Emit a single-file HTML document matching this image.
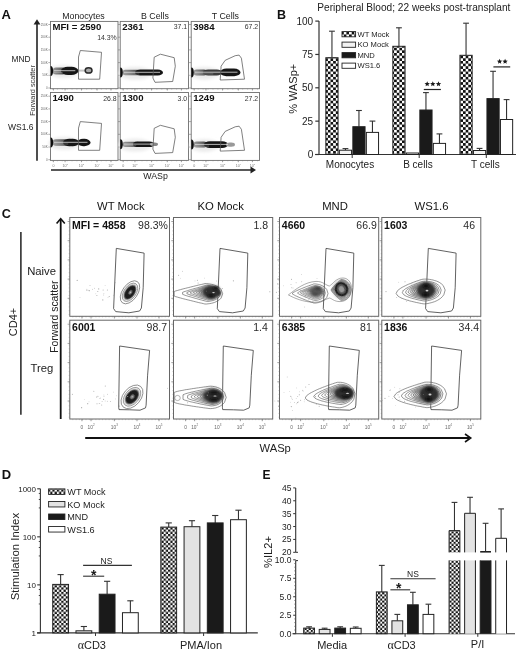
<!DOCTYPE html>
<html><head><meta charset="utf-8"><title>Figure</title>
<style>
html,body{margin:0;padding:0;background:#fff;}
body{width:520px;height:653px;overflow:hidden;}
svg{display:block;font-family:"Liberation Sans", sans-serif;filter:grayscale(1);}
</style></head>
<body>
<svg width="520" height="653" viewBox="0 0 520 653">
<rect width="520" height="653" fill="#fff"/>
<defs>
<pattern id="chkB" width="5.3" height="5.3" patternUnits="userSpaceOnUse" x="325.2" y="0">
<rect width="5.3" height="5.3" fill="#fff"/><rect width="2.65" height="2.65" fill="#111"/><rect x="2.65" y="2.65" width="2.65" height="2.65" fill="#111"/></pattern>
<pattern id="chkD" width="4.45" height="4.45" patternUnits="userSpaceOnUse" x="52.4" y="0">
<rect width="4.45" height="4.45" fill="#fff"/><rect width="2.225" height="2.225" fill="#111"/><rect x="2.225" y="2.225" width="2.225" height="2.225" fill="#111"/></pattern>
<pattern id="chkE" width="4.2" height="4.2" patternUnits="userSpaceOnUse" x="0" y="0">
<rect width="4.2" height="4.2" fill="#fff"/><rect width="2.1" height="2.1" fill="#111"/><rect x="2.1" y="2.1" width="2.1" height="2.1" fill="#111"/></pattern>
<filter id="b1" x="-50%" y="-50%" width="200%" height="200%"><feGaussianBlur stdDeviation="1"/></filter>
<filter id="b15" x="-50%" y="-50%" width="200%" height="200%"><feGaussianBlur stdDeviation="1.5"/></filter>
<filter id="b2" x="-50%" y="-50%" width="200%" height="200%"><feGaussianBlur stdDeviation="2"/></filter>
<filter id="b3" x="-50%" y="-50%" width="200%" height="200%"><feGaussianBlur stdDeviation="3"/></filter>
<filter id="b05" x="-50%" y="-50%" width="200%" height="200%"><feGaussianBlur stdDeviation="0.6"/></filter>
</defs>
<text x="1.50" y="18.70" font-size="13" text-anchor="start" font-weight="bold" fill="#111">A</text>
<text x="83.50" y="19.40" font-size="8.8" text-anchor="middle" font-weight="normal" fill="#222">Monocytes</text>
<text x="155.00" y="19.40" font-size="8.8" text-anchor="middle" font-weight="normal" fill="#222">B Cells</text>
<text x="225.40" y="19.40" font-size="8.8" text-anchor="middle" font-weight="normal" fill="#222">T Cells</text>
<text x="21.00" y="62.00" font-size="8.4" text-anchor="middle" font-weight="normal" fill="#222">MND</text>
<text x="20.70" y="130.10" font-size="8.5" text-anchor="middle" font-weight="normal" fill="#222">WS1.6</text>
<line x1="37.00" y1="160.80" x2="37.00" y2="24.00" stroke="#222" stroke-width="1.6"/>
<path d="M33.6,24.5 L37,19.3 L40.4,24.5 Z" fill="#222" stroke="none" stroke-width="1"/>
<text x="34.50" y="90.50" font-size="7.3" text-anchor="middle" font-weight="normal" fill="#333" transform="rotate(-90 34.5 90.5)">Forward scatter</text>
<line x1="51.00" y1="170.00" x2="251.00" y2="170.00" stroke="#222" stroke-width="1.6"/>
<path d="M250.5,166.6 L256,170 L250.5,173.4 Z" fill="#222" stroke="none" stroke-width="1"/>
<text x="155.50" y="179.00" font-size="8.8" text-anchor="middle" font-weight="normal" fill="#222">WASp</text>
<line x1="48.30" y1="88.00" x2="50.50" y2="88.00" stroke="#777" stroke-width="0.6"/>
<line x1="48.30" y1="75.30" x2="50.50" y2="75.30" stroke="#777" stroke-width="0.6"/>
<line x1="48.30" y1="62.60" x2="50.50" y2="62.60" stroke="#777" stroke-width="0.6"/>
<line x1="48.30" y1="49.90" x2="50.50" y2="49.90" stroke="#777" stroke-width="0.6"/>
<line x1="48.30" y1="37.20" x2="50.50" y2="37.20" stroke="#777" stroke-width="0.6"/>
<line x1="48.30" y1="24.50" x2="50.50" y2="24.50" stroke="#777" stroke-width="0.6"/>
<text x="47.70" y="89.00" font-size="3.0" text-anchor="end" font-weight="normal" fill="#666">0</text>
<text x="47.70" y="76.30" font-size="3.0" text-anchor="end" font-weight="normal" fill="#666">50K</text>
<text x="47.70" y="63.60" font-size="3.0" text-anchor="end" font-weight="normal" fill="#666">100K</text>
<text x="47.70" y="50.90" font-size="3.0" text-anchor="end" font-weight="normal" fill="#666">150K</text>
<text x="47.70" y="38.20" font-size="3.0" text-anchor="end" font-weight="normal" fill="#666">200K</text>
<text x="47.70" y="25.50" font-size="3.0" text-anchor="end" font-weight="normal" fill="#666">250K</text>
<line x1="53.47" y1="88.70" x2="53.47" y2="90.50" stroke="#666" stroke-width="0.6"/>
<line x1="65.08" y1="88.70" x2="65.08" y2="90.50" stroke="#666" stroke-width="0.6"/>
<line x1="81.48" y1="88.70" x2="81.48" y2="90.50" stroke="#666" stroke-width="0.6"/>
<line x1="97.07" y1="88.70" x2="97.07" y2="90.50" stroke="#666" stroke-width="0.6"/>
<line x1="110.98" y1="88.70" x2="110.98" y2="90.50" stroke="#666" stroke-width="0.6"/>
<line x1="52.50" y1="88.70" x2="52.50" y2="89.70" stroke="#888" stroke-width="0.4"/>
<line x1="57.38" y1="88.70" x2="57.38" y2="89.70" stroke="#888" stroke-width="0.4"/>
<line x1="62.27" y1="88.70" x2="62.27" y2="89.70" stroke="#888" stroke-width="0.4"/>
<line x1="67.15" y1="88.70" x2="67.15" y2="89.70" stroke="#888" stroke-width="0.4"/>
<line x1="72.04" y1="88.70" x2="72.04" y2="89.70" stroke="#888" stroke-width="0.4"/>
<line x1="76.92" y1="88.70" x2="76.92" y2="89.70" stroke="#888" stroke-width="0.4"/>
<line x1="81.81" y1="88.70" x2="81.81" y2="89.70" stroke="#888" stroke-width="0.4"/>
<line x1="86.69" y1="88.70" x2="86.69" y2="89.70" stroke="#888" stroke-width="0.4"/>
<line x1="91.58" y1="88.70" x2="91.58" y2="89.70" stroke="#888" stroke-width="0.4"/>
<line x1="96.46" y1="88.70" x2="96.46" y2="89.70" stroke="#888" stroke-width="0.4"/>
<line x1="101.35" y1="88.70" x2="101.35" y2="89.70" stroke="#888" stroke-width="0.4"/>
<line x1="106.23" y1="88.70" x2="106.23" y2="89.70" stroke="#888" stroke-width="0.4"/>
<line x1="111.12" y1="88.70" x2="111.12" y2="89.70" stroke="#888" stroke-width="0.4"/>
<line x1="116.00" y1="88.70" x2="116.00" y2="89.70" stroke="#888" stroke-width="0.4"/>
<rect x="50.50" y="21.40" width="67.50" height="67.30" fill="none" stroke="#6e6e6e" stroke-width="0.9"/>
<text x="52.50" y="30.00" font-size="9.6" text-anchor="start" font-weight="bold" fill="#111">MFI = 2590</text>
<text x="116.70" y="39.70" font-size="6.9" text-anchor="end" font-weight="normal" fill="#333">14.3%</text>
<line x1="118.00" y1="88.00" x2="120.20" y2="88.00" stroke="#777" stroke-width="0.6"/>
<line x1="118.00" y1="75.30" x2="120.20" y2="75.30" stroke="#777" stroke-width="0.6"/>
<line x1="118.00" y1="62.60" x2="120.20" y2="62.60" stroke="#777" stroke-width="0.6"/>
<line x1="118.00" y1="49.90" x2="120.20" y2="49.90" stroke="#777" stroke-width="0.6"/>
<line x1="118.00" y1="37.20" x2="120.20" y2="37.20" stroke="#777" stroke-width="0.6"/>
<line x1="118.00" y1="24.50" x2="120.20" y2="24.50" stroke="#777" stroke-width="0.6"/>
<line x1="123.21" y1="88.70" x2="123.21" y2="90.50" stroke="#666" stroke-width="0.6"/>
<line x1="134.95" y1="88.70" x2="134.95" y2="90.50" stroke="#666" stroke-width="0.6"/>
<line x1="151.55" y1="88.70" x2="151.55" y2="90.50" stroke="#666" stroke-width="0.6"/>
<line x1="167.33" y1="88.70" x2="167.33" y2="90.50" stroke="#666" stroke-width="0.6"/>
<line x1="181.40" y1="88.70" x2="181.40" y2="90.50" stroke="#666" stroke-width="0.6"/>
<line x1="122.20" y1="88.70" x2="122.20" y2="89.70" stroke="#888" stroke-width="0.4"/>
<line x1="127.15" y1="88.70" x2="127.15" y2="89.70" stroke="#888" stroke-width="0.4"/>
<line x1="132.09" y1="88.70" x2="132.09" y2="89.70" stroke="#888" stroke-width="0.4"/>
<line x1="137.04" y1="88.70" x2="137.04" y2="89.70" stroke="#888" stroke-width="0.4"/>
<line x1="141.98" y1="88.70" x2="141.98" y2="89.70" stroke="#888" stroke-width="0.4"/>
<line x1="146.93" y1="88.70" x2="146.93" y2="89.70" stroke="#888" stroke-width="0.4"/>
<line x1="151.88" y1="88.70" x2="151.88" y2="89.70" stroke="#888" stroke-width="0.4"/>
<line x1="156.82" y1="88.70" x2="156.82" y2="89.70" stroke="#888" stroke-width="0.4"/>
<line x1="161.77" y1="88.70" x2="161.77" y2="89.70" stroke="#888" stroke-width="0.4"/>
<line x1="166.72" y1="88.70" x2="166.72" y2="89.70" stroke="#888" stroke-width="0.4"/>
<line x1="171.66" y1="88.70" x2="171.66" y2="89.70" stroke="#888" stroke-width="0.4"/>
<line x1="176.61" y1="88.70" x2="176.61" y2="89.70" stroke="#888" stroke-width="0.4"/>
<line x1="181.55" y1="88.70" x2="181.55" y2="89.70" stroke="#888" stroke-width="0.4"/>
<line x1="186.50" y1="88.70" x2="186.50" y2="89.70" stroke="#888" stroke-width="0.4"/>
<rect x="120.20" y="21.40" width="68.30" height="67.30" fill="none" stroke="#6e6e6e" stroke-width="0.9"/>
<text x="122.20" y="30.00" font-size="9.6" text-anchor="start" font-weight="bold" fill="#111">2361</text>
<text x="187.20" y="28.80" font-size="6.9" text-anchor="end" font-weight="normal" fill="#333">37.1</text>
<line x1="189.00" y1="88.00" x2="191.20" y2="88.00" stroke="#777" stroke-width="0.6"/>
<line x1="189.00" y1="75.30" x2="191.20" y2="75.30" stroke="#777" stroke-width="0.6"/>
<line x1="189.00" y1="62.60" x2="191.20" y2="62.60" stroke="#777" stroke-width="0.6"/>
<line x1="189.00" y1="49.90" x2="191.20" y2="49.90" stroke="#777" stroke-width="0.6"/>
<line x1="189.00" y1="37.20" x2="191.20" y2="37.20" stroke="#777" stroke-width="0.6"/>
<line x1="189.00" y1="24.50" x2="191.20" y2="24.50" stroke="#777" stroke-width="0.6"/>
<line x1="194.21" y1="88.70" x2="194.21" y2="90.50" stroke="#666" stroke-width="0.6"/>
<line x1="205.95" y1="88.70" x2="205.95" y2="90.50" stroke="#666" stroke-width="0.6"/>
<line x1="222.55" y1="88.70" x2="222.55" y2="90.50" stroke="#666" stroke-width="0.6"/>
<line x1="238.33" y1="88.70" x2="238.33" y2="90.50" stroke="#666" stroke-width="0.6"/>
<line x1="252.40" y1="88.70" x2="252.40" y2="90.50" stroke="#666" stroke-width="0.6"/>
<line x1="193.20" y1="88.70" x2="193.20" y2="89.70" stroke="#888" stroke-width="0.4"/>
<line x1="198.15" y1="88.70" x2="198.15" y2="89.70" stroke="#888" stroke-width="0.4"/>
<line x1="203.09" y1="88.70" x2="203.09" y2="89.70" stroke="#888" stroke-width="0.4"/>
<line x1="208.04" y1="88.70" x2="208.04" y2="89.70" stroke="#888" stroke-width="0.4"/>
<line x1="212.98" y1="88.70" x2="212.98" y2="89.70" stroke="#888" stroke-width="0.4"/>
<line x1="217.93" y1="88.70" x2="217.93" y2="89.70" stroke="#888" stroke-width="0.4"/>
<line x1="222.88" y1="88.70" x2="222.88" y2="89.70" stroke="#888" stroke-width="0.4"/>
<line x1="227.82" y1="88.70" x2="227.82" y2="89.70" stroke="#888" stroke-width="0.4"/>
<line x1="232.77" y1="88.70" x2="232.77" y2="89.70" stroke="#888" stroke-width="0.4"/>
<line x1="237.72" y1="88.70" x2="237.72" y2="89.70" stroke="#888" stroke-width="0.4"/>
<line x1="242.66" y1="88.70" x2="242.66" y2="89.70" stroke="#888" stroke-width="0.4"/>
<line x1="247.61" y1="88.70" x2="247.61" y2="89.70" stroke="#888" stroke-width="0.4"/>
<line x1="252.55" y1="88.70" x2="252.55" y2="89.70" stroke="#888" stroke-width="0.4"/>
<line x1="257.50" y1="88.70" x2="257.50" y2="89.70" stroke="#888" stroke-width="0.4"/>
<rect x="191.20" y="21.40" width="68.30" height="67.30" fill="none" stroke="#6e6e6e" stroke-width="0.9"/>
<text x="193.20" y="30.00" font-size="9.6" text-anchor="start" font-weight="bold" fill="#111">3984</text>
<text x="258.20" y="28.80" font-size="6.9" text-anchor="end" font-weight="normal" fill="#333">67.2</text>
<line x1="48.30" y1="159.70" x2="50.50" y2="159.70" stroke="#777" stroke-width="0.6"/>
<line x1="48.30" y1="147.00" x2="50.50" y2="147.00" stroke="#777" stroke-width="0.6"/>
<line x1="48.30" y1="134.30" x2="50.50" y2="134.30" stroke="#777" stroke-width="0.6"/>
<line x1="48.30" y1="121.60" x2="50.50" y2="121.60" stroke="#777" stroke-width="0.6"/>
<line x1="48.30" y1="108.90" x2="50.50" y2="108.90" stroke="#777" stroke-width="0.6"/>
<line x1="48.30" y1="96.20" x2="50.50" y2="96.20" stroke="#777" stroke-width="0.6"/>
<text x="47.70" y="160.70" font-size="3.0" text-anchor="end" font-weight="normal" fill="#666">0</text>
<text x="47.70" y="148.00" font-size="3.0" text-anchor="end" font-weight="normal" fill="#666">50K</text>
<text x="47.70" y="135.30" font-size="3.0" text-anchor="end" font-weight="normal" fill="#666">100K</text>
<text x="47.70" y="122.60" font-size="3.0" text-anchor="end" font-weight="normal" fill="#666">150K</text>
<text x="47.70" y="109.90" font-size="3.0" text-anchor="end" font-weight="normal" fill="#666">200K</text>
<text x="47.70" y="97.20" font-size="3.0" text-anchor="end" font-weight="normal" fill="#666">250K</text>
<line x1="53.47" y1="160.40" x2="53.47" y2="162.20" stroke="#666" stroke-width="0.6"/>
<line x1="65.08" y1="160.40" x2="65.08" y2="162.20" stroke="#666" stroke-width="0.6"/>
<line x1="81.48" y1="160.40" x2="81.48" y2="162.20" stroke="#666" stroke-width="0.6"/>
<line x1="97.07" y1="160.40" x2="97.07" y2="162.20" stroke="#666" stroke-width="0.6"/>
<line x1="110.98" y1="160.40" x2="110.98" y2="162.20" stroke="#666" stroke-width="0.6"/>
<line x1="52.50" y1="160.40" x2="52.50" y2="161.40" stroke="#888" stroke-width="0.4"/>
<line x1="57.38" y1="160.40" x2="57.38" y2="161.40" stroke="#888" stroke-width="0.4"/>
<line x1="62.27" y1="160.40" x2="62.27" y2="161.40" stroke="#888" stroke-width="0.4"/>
<line x1="67.15" y1="160.40" x2="67.15" y2="161.40" stroke="#888" stroke-width="0.4"/>
<line x1="72.04" y1="160.40" x2="72.04" y2="161.40" stroke="#888" stroke-width="0.4"/>
<line x1="76.92" y1="160.40" x2="76.92" y2="161.40" stroke="#888" stroke-width="0.4"/>
<line x1="81.81" y1="160.40" x2="81.81" y2="161.40" stroke="#888" stroke-width="0.4"/>
<line x1="86.69" y1="160.40" x2="86.69" y2="161.40" stroke="#888" stroke-width="0.4"/>
<line x1="91.58" y1="160.40" x2="91.58" y2="161.40" stroke="#888" stroke-width="0.4"/>
<line x1="96.46" y1="160.40" x2="96.46" y2="161.40" stroke="#888" stroke-width="0.4"/>
<line x1="101.35" y1="160.40" x2="101.35" y2="161.40" stroke="#888" stroke-width="0.4"/>
<line x1="106.23" y1="160.40" x2="106.23" y2="161.40" stroke="#888" stroke-width="0.4"/>
<line x1="111.12" y1="160.40" x2="111.12" y2="161.40" stroke="#888" stroke-width="0.4"/>
<line x1="116.00" y1="160.40" x2="116.00" y2="161.40" stroke="#888" stroke-width="0.4"/>
<text x="53.47" y="167.00" font-size="3.6" text-anchor="middle" font-weight="normal" fill="#777">0</text>
<text x="65.08" y="167.00" font-size="3.6" text-anchor="middle" fill="#777">10<tspan font-size="2.23" dy="-1.62">2</tspan></text>
<text x="81.48" y="167.00" font-size="3.6" text-anchor="middle" fill="#777">10<tspan font-size="2.23" dy="-1.62">3</tspan></text>
<text x="97.07" y="167.00" font-size="3.6" text-anchor="middle" fill="#777">10<tspan font-size="2.23" dy="-1.62">4</tspan></text>
<text x="110.98" y="167.00" font-size="3.6" text-anchor="middle" fill="#777">10<tspan font-size="2.23" dy="-1.62">5</tspan></text>
<rect x="50.50" y="92.50" width="67.50" height="67.90" fill="none" stroke="#6e6e6e" stroke-width="0.9"/>
<text x="52.50" y="101.10" font-size="9.6" text-anchor="start" font-weight="bold" fill="#111">1490</text>
<text x="116.70" y="101.20" font-size="6.9" text-anchor="end" font-weight="normal" fill="#333">26.8</text>
<line x1="118.00" y1="159.70" x2="120.20" y2="159.70" stroke="#777" stroke-width="0.6"/>
<line x1="118.00" y1="147.00" x2="120.20" y2="147.00" stroke="#777" stroke-width="0.6"/>
<line x1="118.00" y1="134.30" x2="120.20" y2="134.30" stroke="#777" stroke-width="0.6"/>
<line x1="118.00" y1="121.60" x2="120.20" y2="121.60" stroke="#777" stroke-width="0.6"/>
<line x1="118.00" y1="108.90" x2="120.20" y2="108.90" stroke="#777" stroke-width="0.6"/>
<line x1="118.00" y1="96.20" x2="120.20" y2="96.20" stroke="#777" stroke-width="0.6"/>
<line x1="123.21" y1="160.40" x2="123.21" y2="162.20" stroke="#666" stroke-width="0.6"/>
<line x1="134.95" y1="160.40" x2="134.95" y2="162.20" stroke="#666" stroke-width="0.6"/>
<line x1="151.55" y1="160.40" x2="151.55" y2="162.20" stroke="#666" stroke-width="0.6"/>
<line x1="167.33" y1="160.40" x2="167.33" y2="162.20" stroke="#666" stroke-width="0.6"/>
<line x1="181.40" y1="160.40" x2="181.40" y2="162.20" stroke="#666" stroke-width="0.6"/>
<line x1="122.20" y1="160.40" x2="122.20" y2="161.40" stroke="#888" stroke-width="0.4"/>
<line x1="127.15" y1="160.40" x2="127.15" y2="161.40" stroke="#888" stroke-width="0.4"/>
<line x1="132.09" y1="160.40" x2="132.09" y2="161.40" stroke="#888" stroke-width="0.4"/>
<line x1="137.04" y1="160.40" x2="137.04" y2="161.40" stroke="#888" stroke-width="0.4"/>
<line x1="141.98" y1="160.40" x2="141.98" y2="161.40" stroke="#888" stroke-width="0.4"/>
<line x1="146.93" y1="160.40" x2="146.93" y2="161.40" stroke="#888" stroke-width="0.4"/>
<line x1="151.88" y1="160.40" x2="151.88" y2="161.40" stroke="#888" stroke-width="0.4"/>
<line x1="156.82" y1="160.40" x2="156.82" y2="161.40" stroke="#888" stroke-width="0.4"/>
<line x1="161.77" y1="160.40" x2="161.77" y2="161.40" stroke="#888" stroke-width="0.4"/>
<line x1="166.72" y1="160.40" x2="166.72" y2="161.40" stroke="#888" stroke-width="0.4"/>
<line x1="171.66" y1="160.40" x2="171.66" y2="161.40" stroke="#888" stroke-width="0.4"/>
<line x1="176.61" y1="160.40" x2="176.61" y2="161.40" stroke="#888" stroke-width="0.4"/>
<line x1="181.55" y1="160.40" x2="181.55" y2="161.40" stroke="#888" stroke-width="0.4"/>
<line x1="186.50" y1="160.40" x2="186.50" y2="161.40" stroke="#888" stroke-width="0.4"/>
<text x="123.21" y="167.00" font-size="3.6" text-anchor="middle" font-weight="normal" fill="#777">0</text>
<text x="134.95" y="167.00" font-size="3.6" text-anchor="middle" fill="#777">10<tspan font-size="2.23" dy="-1.62">2</tspan></text>
<text x="151.55" y="167.00" font-size="3.6" text-anchor="middle" fill="#777">10<tspan font-size="2.23" dy="-1.62">3</tspan></text>
<text x="167.33" y="167.00" font-size="3.6" text-anchor="middle" fill="#777">10<tspan font-size="2.23" dy="-1.62">4</tspan></text>
<text x="181.40" y="167.00" font-size="3.6" text-anchor="middle" fill="#777">10<tspan font-size="2.23" dy="-1.62">5</tspan></text>
<rect x="120.20" y="92.50" width="68.30" height="67.90" fill="none" stroke="#6e6e6e" stroke-width="0.9"/>
<text x="122.20" y="101.10" font-size="9.6" text-anchor="start" font-weight="bold" fill="#111">1300</text>
<text x="187.20" y="101.20" font-size="6.9" text-anchor="end" font-weight="normal" fill="#333">3.0</text>
<line x1="189.00" y1="159.70" x2="191.20" y2="159.70" stroke="#777" stroke-width="0.6"/>
<line x1="189.00" y1="147.00" x2="191.20" y2="147.00" stroke="#777" stroke-width="0.6"/>
<line x1="189.00" y1="134.30" x2="191.20" y2="134.30" stroke="#777" stroke-width="0.6"/>
<line x1="189.00" y1="121.60" x2="191.20" y2="121.60" stroke="#777" stroke-width="0.6"/>
<line x1="189.00" y1="108.90" x2="191.20" y2="108.90" stroke="#777" stroke-width="0.6"/>
<line x1="189.00" y1="96.20" x2="191.20" y2="96.20" stroke="#777" stroke-width="0.6"/>
<line x1="194.21" y1="160.40" x2="194.21" y2="162.20" stroke="#666" stroke-width="0.6"/>
<line x1="205.95" y1="160.40" x2="205.95" y2="162.20" stroke="#666" stroke-width="0.6"/>
<line x1="222.55" y1="160.40" x2="222.55" y2="162.20" stroke="#666" stroke-width="0.6"/>
<line x1="238.33" y1="160.40" x2="238.33" y2="162.20" stroke="#666" stroke-width="0.6"/>
<line x1="252.40" y1="160.40" x2="252.40" y2="162.20" stroke="#666" stroke-width="0.6"/>
<line x1="193.20" y1="160.40" x2="193.20" y2="161.40" stroke="#888" stroke-width="0.4"/>
<line x1="198.15" y1="160.40" x2="198.15" y2="161.40" stroke="#888" stroke-width="0.4"/>
<line x1="203.09" y1="160.40" x2="203.09" y2="161.40" stroke="#888" stroke-width="0.4"/>
<line x1="208.04" y1="160.40" x2="208.04" y2="161.40" stroke="#888" stroke-width="0.4"/>
<line x1="212.98" y1="160.40" x2="212.98" y2="161.40" stroke="#888" stroke-width="0.4"/>
<line x1="217.93" y1="160.40" x2="217.93" y2="161.40" stroke="#888" stroke-width="0.4"/>
<line x1="222.88" y1="160.40" x2="222.88" y2="161.40" stroke="#888" stroke-width="0.4"/>
<line x1="227.82" y1="160.40" x2="227.82" y2="161.40" stroke="#888" stroke-width="0.4"/>
<line x1="232.77" y1="160.40" x2="232.77" y2="161.40" stroke="#888" stroke-width="0.4"/>
<line x1="237.72" y1="160.40" x2="237.72" y2="161.40" stroke="#888" stroke-width="0.4"/>
<line x1="242.66" y1="160.40" x2="242.66" y2="161.40" stroke="#888" stroke-width="0.4"/>
<line x1="247.61" y1="160.40" x2="247.61" y2="161.40" stroke="#888" stroke-width="0.4"/>
<line x1="252.55" y1="160.40" x2="252.55" y2="161.40" stroke="#888" stroke-width="0.4"/>
<line x1="257.50" y1="160.40" x2="257.50" y2="161.40" stroke="#888" stroke-width="0.4"/>
<text x="194.21" y="167.00" font-size="3.6" text-anchor="middle" font-weight="normal" fill="#777">0</text>
<text x="205.95" y="167.00" font-size="3.6" text-anchor="middle" fill="#777">10<tspan font-size="2.23" dy="-1.62">2</tspan></text>
<text x="222.55" y="167.00" font-size="3.6" text-anchor="middle" fill="#777">10<tspan font-size="2.23" dy="-1.62">3</tspan></text>
<text x="238.33" y="167.00" font-size="3.6" text-anchor="middle" fill="#777">10<tspan font-size="2.23" dy="-1.62">4</tspan></text>
<text x="252.40" y="167.00" font-size="3.6" text-anchor="middle" fill="#777">10<tspan font-size="2.23" dy="-1.62">5</tspan></text>
<rect x="191.20" y="92.50" width="68.30" height="67.90" fill="none" stroke="#6e6e6e" stroke-width="0.9"/>
<text x="193.20" y="101.10" font-size="9.6" text-anchor="start" font-weight="bold" fill="#111">1249</text>
<text x="258.20" y="101.20" font-size="6.9" text-anchor="end" font-weight="normal" fill="#333">27.2</text>
<linearGradient id="gA1" gradientUnits="userSpaceOnUse" x1="52.5" y1="0" x2="66" y2="0"><stop offset="0" stop-color="#9a9a9a"/><stop offset="0.5" stop-color="#707070"/><stop offset="1" stop-color="#404040"/></linearGradient>
<ellipse cx="63.25" cy="71.70" rx="14.75" ry="6.50" fill="#ececec" stroke="none" stroke-width="1" filter="url(#b15)"/>
<rect x="52.50" y="67.40" width="13.50" height="7.00" fill="url(#gA1)" stroke="none" stroke-width="1" rx="3.50" ry="3.50" filter="url(#b05)"/>
<rect x="61.00" y="66.80" width="17.30" height="8.20" fill="#181818" stroke="none" stroke-width="1" rx="6.97" ry="4.10" filter="url(#b05)"/>
<line x1="54.00" y1="70.70" x2="75.30" y2="70.70" stroke="#e6e6e6" stroke-width="0.9" opacity="0.85"/>
<line x1="54.00" y1="72.40" x2="62.76" y2="72.40" stroke="#e0e0e0" stroke-width="0.5" opacity="0.6"/>
<path d="M50.50,65.90 A2.6,5 0 0 1 50.50,75.90 Z" fill="#111" stroke="none" stroke-width="1" filter="url(#b05)"/>
<line x1="78.00" y1="70.60" x2="85.50" y2="70.60" stroke="#c4c4c4" stroke-width="2.0"/>
<ellipse cx="88.60" cy="70.40" rx="3.40" ry="2.70" fill="#aaa" stroke="#2a2a2a" stroke-width="1.5" filter="url(#b05)"/>
<linearGradient id="gA2" gradientUnits="userSpaceOnUse" x1="52.5" y1="0" x2="68" y2="0"><stop offset="0" stop-color="#9a9a9a"/><stop offset="0.5" stop-color="#707070"/><stop offset="1" stop-color="#404040"/></linearGradient>
<ellipse cx="64.25" cy="143.30" rx="15.75" ry="6.50" fill="#ececec" stroke="none" stroke-width="1" filter="url(#b15)"/>
<rect x="52.50" y="139.20" width="15.50" height="6.60" fill="url(#gA2)" stroke="none" stroke-width="1" rx="3.30" ry="3.30" filter="url(#b05)"/>
<rect x="63.00" y="138.70" width="16.00" height="7.60" fill="#181818" stroke="none" stroke-width="1" rx="6.46" ry="3.80" filter="url(#b05)"/>
<rect x="77.00" y="138.80" width="13.50" height="7.40" fill="#181818" stroke="none" stroke-width="1" rx="6.29" ry="3.70" filter="url(#b05)"/>
<line x1="54.00" y1="142.30" x2="87.50" y2="142.30" stroke="#e6e6e6" stroke-width="0.9" opacity="0.85"/>
<line x1="54.00" y1="144.00" x2="68.25" y2="144.00" stroke="#e0e0e0" stroke-width="0.5" opacity="0.6"/>
<path d="M50.50,137.50 A2.6,5 0 0 1 50.50,147.50 Z" fill="#111" stroke="none" stroke-width="1" filter="url(#b05)"/>
<linearGradient id="gA3" gradientUnits="userSpaceOnUse" x1="122.5" y1="0" x2="140" y2="0"><stop offset="0" stop-color="#9a9a9a"/><stop offset="0.5" stop-color="#707070"/><stop offset="1" stop-color="#404040"/></linearGradient>
<ellipse cx="135.25" cy="73.30" rx="16.75" ry="6.50" fill="#ececec" stroke="none" stroke-width="1" filter="url(#b15)"/>
<rect x="122.50" y="69.80" width="17.50" height="5.40" fill="url(#gA3)" stroke="none" stroke-width="1" rx="2.70" ry="2.70" filter="url(#b05)"/>
<rect x="135.00" y="69.50" width="28.00" height="6.00" fill="#181818" stroke="none" stroke-width="1" rx="5.10" ry="3.00" filter="url(#b05)"/>
<line x1="124.00" y1="72.30" x2="160.00" y2="72.30" stroke="#e6e6e6" stroke-width="0.9" opacity="0.85"/>
<line x1="124.00" y1="74.00" x2="139.38" y2="74.00" stroke="#e0e0e0" stroke-width="0.5" opacity="0.6"/>
<path d="M120.20,67.50 A2.6,5 0 0 1 120.20,77.50 Z" fill="#111" stroke="none" stroke-width="1" filter="url(#b05)"/>
<linearGradient id="gA4" gradientUnits="userSpaceOnUse" x1="122.5" y1="0" x2="140" y2="0"><stop offset="0" stop-color="#9a9a9a"/><stop offset="0.5" stop-color="#707070"/><stop offset="1" stop-color="#404040"/></linearGradient>
<ellipse cx="135.25" cy="145.10" rx="16.75" ry="6.50" fill="#ececec" stroke="none" stroke-width="1" filter="url(#b15)"/>
<rect x="122.50" y="141.70" width="17.50" height="5.20" fill="url(#gA4)" stroke="none" stroke-width="1" rx="2.60" ry="2.60" filter="url(#b05)"/>
<rect x="133.00" y="141.50" width="21.00" height="5.60" fill="#181818" stroke="none" stroke-width="1" rx="4.76" ry="2.80" filter="url(#b05)"/>
<rect x="150.00" y="142.50" width="8.00" height="3.60" fill="#888" stroke="none" stroke-width="1" rx="3.06" ry="1.80" filter="url(#b05)"/>
<line x1="124.00" y1="144.10" x2="153.00" y2="144.10" stroke="#e6e6e6" stroke-width="0.9" opacity="0.85"/>
<line x1="124.00" y1="145.80" x2="136.22" y2="145.80" stroke="#e0e0e0" stroke-width="0.5" opacity="0.6"/>
<path d="M120.20,139.30 A2.6,5 0 0 1 120.20,149.30 Z" fill="#111" stroke="none" stroke-width="1" filter="url(#b05)"/>
<linearGradient id="gA5" gradientUnits="userSpaceOnUse" x1="193.5" y1="0" x2="207" y2="0"><stop offset="0" stop-color="#9a9a9a"/><stop offset="0.5" stop-color="#707070"/><stop offset="1" stop-color="#404040"/></linearGradient>
<ellipse cx="204.25" cy="73.20" rx="14.75" ry="6.50" fill="#ececec" stroke="none" stroke-width="1" filter="url(#b15)"/>
<rect x="193.50" y="69.40" width="13.50" height="6.00" fill="url(#gA5)" stroke="none" stroke-width="1" rx="3.00" ry="3.00" filter="url(#b05)"/>
<rect x="203.00" y="69.40" width="19.00" height="6.00" fill="#3a3a3a" stroke="none" stroke-width="1" rx="5.10" ry="3.00" filter="url(#b05)"/>
<rect x="220.00" y="68.60" width="20.50" height="7.60" fill="#181818" stroke="none" stroke-width="1" rx="6.46" ry="3.80" filter="url(#b05)"/>
<line x1="195.00" y1="72.20" x2="237.50" y2="72.20" stroke="#e6e6e6" stroke-width="0.9" opacity="0.85"/>
<line x1="195.00" y1="73.90" x2="213.30" y2="73.90" stroke="#e0e0e0" stroke-width="0.5" opacity="0.6"/>
<path d="M191.20,67.40 A2.6,5 0 0 1 191.20,77.40 Z" fill="#111" stroke="none" stroke-width="1" filter="url(#b05)"/>
<linearGradient id="gA6" gradientUnits="userSpaceOnUse" x1="193.5" y1="0" x2="207" y2="0"><stop offset="0" stop-color="#9a9a9a"/><stop offset="0.5" stop-color="#707070"/><stop offset="1" stop-color="#404040"/></linearGradient>
<ellipse cx="204.25" cy="145.40" rx="14.75" ry="6.50" fill="#ececec" stroke="none" stroke-width="1" filter="url(#b15)"/>
<rect x="193.50" y="141.60" width="13.50" height="6.00" fill="url(#gA6)" stroke="none" stroke-width="1" rx="3.00" ry="3.00" filter="url(#b05)"/>
<rect x="204.00" y="141.20" width="24.00" height="6.80" fill="#181818" stroke="none" stroke-width="1" rx="5.78" ry="3.40" filter="url(#b05)"/>
<rect x="226.00" y="142.40" width="9.00" height="4.40" fill="#999" stroke="none" stroke-width="1" rx="3.74" ry="2.20" filter="url(#b05)"/>
<line x1="195.00" y1="144.40" x2="228.00" y2="144.40" stroke="#e6e6e6" stroke-width="0.9" opacity="0.85"/>
<line x1="195.00" y1="146.10" x2="209.03" y2="146.10" stroke="#e0e0e0" stroke-width="0.5" opacity="0.6"/>
<path d="M191.20,139.60 A2.6,5 0 0 1 191.20,149.60 Z" fill="#111" stroke="none" stroke-width="1" filter="url(#b05)"/>
<path d="M78.50,57.00 L80.30,50.50 L101.50,52.30 L99.70,79.20 L78.50,79.20 Z" fill="none" stroke="#555" stroke-width="0.75"/>
<path d="M152.90,78.00 L154.20,57.20 L160.40,54.20 L174.20,57.70 L175.30,66.20 L172.70,81.50 L155.00,82.30 Z" fill="none" stroke="#555" stroke-width="0.75"/>
<path d="M221.10,66.20 L225.20,60.30 L235.20,55.70 L239.10,55.10 L241.40,58.20 L244.50,79.20 L220.20,80.00 Z" fill="none" stroke="#555" stroke-width="0.75"/>
<path d="M78.50,128.10 L80.30,121.60 L101.50,123.40 L99.70,150.30 L78.50,150.30 Z" fill="none" stroke="#555" stroke-width="0.75"/>
<path d="M152.90,149.10 L154.20,128.30 L160.40,125.30 L174.20,128.80 L175.30,137.30 L172.70,152.60 L155.00,153.40 Z" fill="none" stroke="#555" stroke-width="0.75"/>
<path d="M221.10,137.30 L225.20,131.40 L235.20,126.80 L239.10,126.20 L241.40,129.30 L244.50,150.30 L220.20,151.10 Z" fill="none" stroke="#555" stroke-width="0.75"/>
<text x="277.00" y="18.50" font-size="12.5" text-anchor="start" font-weight="bold" fill="#111">B</text>
<text x="413.90" y="11.00" font-size="10.15" text-anchor="middle" font-weight="normal" fill="#222">Peripheral Blood; 22 weeks post-transplant</text>
<line x1="319.00" y1="21.10" x2="319.00" y2="154.50" stroke="#333" stroke-width="1.2"/>
<line x1="315.20" y1="154.50" x2="516.00" y2="154.50" stroke="#333" stroke-width="1.2"/>
<line x1="315.30" y1="154.50" x2="319.00" y2="154.50" stroke="#333" stroke-width="1.2"/>
<text x="313.20" y="158.10" font-size="10" text-anchor="end" font-weight="normal" fill="#222">0</text>
<line x1="315.30" y1="121.15" x2="319.00" y2="121.15" stroke="#333" stroke-width="1.2"/>
<text x="313.20" y="124.75" font-size="10" text-anchor="end" font-weight="normal" fill="#222">25</text>
<line x1="315.30" y1="87.80" x2="319.00" y2="87.80" stroke="#333" stroke-width="1.2"/>
<text x="313.20" y="91.40" font-size="10" text-anchor="end" font-weight="normal" fill="#222">50</text>
<line x1="315.30" y1="54.45" x2="319.00" y2="54.45" stroke="#333" stroke-width="1.2"/>
<text x="313.20" y="58.05" font-size="10" text-anchor="end" font-weight="normal" fill="#222">75</text>
<line x1="315.30" y1="21.10" x2="319.00" y2="21.10" stroke="#333" stroke-width="1.2"/>
<text x="313.20" y="24.70" font-size="10" text-anchor="end" font-weight="normal" fill="#222">100</text>
<text x="297.00" y="88.80" font-size="11" text-anchor="middle" font-weight="normal" fill="#1a1a1a" transform="rotate(-90 297.0 88.8)">% WASp+</text>
<line x1="352.20" y1="154.50" x2="352.20" y2="158.00" stroke="#333" stroke-width="1.0"/>
<line x1="331.95" y1="31.20" x2="331.95" y2="57.70" stroke="#333" stroke-width="1.1"/>
<line x1="329.05" y1="31.20" x2="334.85" y2="31.20" stroke="#333" stroke-width="1.1"/>
<rect x="325.85" y="57.70" width="12.20" height="96.80" fill="url(#chkB)" stroke="#222" stroke-width="1.0"/>
<line x1="345.45" y1="148.60" x2="345.45" y2="150.20" stroke="#333" stroke-width="1.1"/>
<line x1="342.55" y1="148.60" x2="348.35" y2="148.60" stroke="#333" stroke-width="1.1"/>
<rect x="339.35" y="150.20" width="12.20" height="4.30" fill="#f2f2f2" stroke="#222" stroke-width="1.0"/>
<line x1="358.95" y1="110.50" x2="358.95" y2="126.70" stroke="#333" stroke-width="1.1"/>
<line x1="356.05" y1="110.50" x2="361.85" y2="110.50" stroke="#333" stroke-width="1.1"/>
<rect x="352.85" y="126.70" width="12.20" height="27.80" fill="#1a1a1a" stroke="#222" stroke-width="1.0"/>
<line x1="372.45" y1="121.10" x2="372.45" y2="132.40" stroke="#333" stroke-width="1.1"/>
<line x1="369.55" y1="121.10" x2="375.35" y2="121.10" stroke="#333" stroke-width="1.1"/>
<rect x="366.35" y="132.40" width="12.20" height="22.10" fill="#fff" stroke="#222" stroke-width="1.0"/>
<line x1="419.20" y1="154.50" x2="419.20" y2="158.00" stroke="#333" stroke-width="1.0"/>
<line x1="398.95" y1="27.80" x2="398.95" y2="46.30" stroke="#333" stroke-width="1.1"/>
<line x1="396.05" y1="27.80" x2="401.85" y2="27.80" stroke="#333" stroke-width="1.1"/>
<rect x="392.85" y="46.30" width="12.20" height="108.20" fill="url(#chkB)" stroke="#222" stroke-width="1.0"/>
<rect x="406.35" y="153.00" width="12.20" height="1.50" fill="#f2f2f2" stroke="#222" stroke-width="1.0"/>
<line x1="425.95" y1="92.60" x2="425.95" y2="110.00" stroke="#333" stroke-width="1.1"/>
<line x1="423.05" y1="92.60" x2="428.85" y2="92.60" stroke="#333" stroke-width="1.1"/>
<rect x="419.85" y="110.00" width="12.20" height="44.50" fill="#1a1a1a" stroke="#222" stroke-width="1.0"/>
<line x1="439.45" y1="133.90" x2="439.45" y2="143.40" stroke="#333" stroke-width="1.1"/>
<line x1="436.55" y1="133.90" x2="442.35" y2="133.90" stroke="#333" stroke-width="1.1"/>
<rect x="433.35" y="143.40" width="12.20" height="11.10" fill="#fff" stroke="#222" stroke-width="1.0"/>
<line x1="486.30" y1="154.50" x2="486.30" y2="158.00" stroke="#333" stroke-width="1.0"/>
<line x1="466.05" y1="23.20" x2="466.05" y2="55.30" stroke="#333" stroke-width="1.1"/>
<line x1="463.15" y1="23.20" x2="468.95" y2="23.20" stroke="#333" stroke-width="1.1"/>
<rect x="459.95" y="55.30" width="12.20" height="99.20" fill="url(#chkB)" stroke="#222" stroke-width="1.0"/>
<line x1="479.55" y1="148.40" x2="479.55" y2="150.50" stroke="#333" stroke-width="1.1"/>
<line x1="476.65" y1="148.40" x2="482.45" y2="148.40" stroke="#333" stroke-width="1.1"/>
<rect x="473.45" y="150.50" width="12.20" height="4.00" fill="#f2f2f2" stroke="#222" stroke-width="1.0"/>
<line x1="493.05" y1="71.30" x2="493.05" y2="98.60" stroke="#333" stroke-width="1.1"/>
<line x1="490.15" y1="71.30" x2="495.95" y2="71.30" stroke="#333" stroke-width="1.1"/>
<rect x="486.95" y="98.60" width="12.20" height="55.90" fill="#1a1a1a" stroke="#222" stroke-width="1.0"/>
<line x1="506.55" y1="99.60" x2="506.55" y2="119.50" stroke="#333" stroke-width="1.1"/>
<line x1="503.65" y1="99.60" x2="509.45" y2="99.60" stroke="#333" stroke-width="1.1"/>
<rect x="500.45" y="119.50" width="12.20" height="35.00" fill="#fff" stroke="#222" stroke-width="1.0"/>
<text x="350.00" y="167.70" font-size="10" text-anchor="middle" font-weight="normal" fill="#222">Monocytes</text>
<text x="417.90" y="167.70" font-size="10" text-anchor="middle" font-weight="normal" fill="#222">B cells</text>
<text x="485.30" y="167.70" font-size="10" text-anchor="middle" font-weight="normal" fill="#222">T cells</text>
<line x1="423.80" y1="89.50" x2="440.90" y2="89.50" stroke="#222" stroke-width="1.2"/>
<path d="M427.20,81.20 L427.94,82.98 L429.86,83.13 L428.40,84.39 L428.85,86.27 L427.20,85.26 L425.55,86.27 L426.00,84.39 L424.54,83.13 L426.46,82.98 Z" fill="#1a1a1a" stroke="none" stroke-width="1"/>
<path d="M432.80,81.20 L433.54,82.98 L435.46,83.13 L434.00,84.39 L434.45,86.27 L432.80,85.26 L431.15,86.27 L431.60,84.39 L430.14,83.13 L432.06,82.98 Z" fill="#1a1a1a" stroke="none" stroke-width="1"/>
<path d="M438.50,81.20 L439.24,82.98 L441.16,83.13 L439.70,84.39 L440.15,86.27 L438.50,85.26 L436.85,86.27 L437.30,84.39 L435.84,83.13 L437.76,82.98 Z" fill="#1a1a1a" stroke="none" stroke-width="1"/>
<line x1="493.40" y1="66.90" x2="510.20" y2="66.90" stroke="#333" stroke-width="1.3"/>
<path d="M499.60,58.80 L500.34,60.58 L502.26,60.73 L500.80,61.99 L501.25,63.87 L499.60,62.86 L497.95,63.87 L498.40,61.99 L496.94,60.73 L498.86,60.58 Z" fill="#1a1a1a" stroke="none" stroke-width="1"/>
<path d="M505.10,58.80 L505.84,60.58 L507.76,60.73 L506.30,61.99 L506.75,63.87 L505.10,62.86 L503.45,63.87 L503.90,61.99 L502.44,60.73 L504.36,60.58 Z" fill="#1a1a1a" stroke="none" stroke-width="1"/>
<rect x="342.00" y="31.60" width="13.60" height="5.20" fill="url(#chkB)" stroke="#222" stroke-width="0.9"/>
<text x="357.50" y="36.90" font-size="7.6" text-anchor="start" font-weight="normal" fill="#222">WT Mock</text>
<rect x="342.00" y="42.10" width="13.60" height="5.20" fill="#f2f2f2" stroke="#222" stroke-width="0.9"/>
<text x="357.50" y="47.40" font-size="7.6" text-anchor="start" font-weight="normal" fill="#222">KO Mock</text>
<rect x="342.00" y="52.60" width="13.60" height="5.20" fill="#1a1a1a" stroke="#222" stroke-width="0.9"/>
<text x="357.50" y="57.90" font-size="7.6" text-anchor="start" font-weight="normal" fill="#222">MND</text>
<rect x="342.00" y="63.10" width="13.60" height="5.20" fill="#fff" stroke="#222" stroke-width="0.9"/>
<text x="357.50" y="68.40" font-size="7.6" text-anchor="start" font-weight="normal" fill="#222">WS1.6</text>
<text x="1.80" y="217.60" font-size="12.6" text-anchor="start" font-weight="bold" fill="#111">C</text>
<text x="120.80" y="209.60" font-size="11.3" text-anchor="middle" font-weight="normal" fill="#141414">WT Mock</text>
<text x="220.70" y="209.60" font-size="11.3" text-anchor="middle" font-weight="normal" fill="#141414">KO Mock</text>
<text x="335.00" y="209.60" font-size="11.3" text-anchor="middle" font-weight="normal" fill="#141414">MND</text>
<text x="431.50" y="209.60" font-size="11.3" text-anchor="middle" font-weight="normal" fill="#141414">WS1.6</text>
<text x="41.60" y="274.90" font-size="11.3" text-anchor="middle" font-weight="normal" fill="#1a1a1a">Naive</text>
<text x="42.00" y="371.80" font-size="11.3" text-anchor="middle" font-weight="normal" fill="#1a1a1a">Treg</text>
<line x1="20.90" y1="232.00" x2="20.90" y2="414.80" stroke="#111" stroke-width="1.4"/>
<text x="17.20" y="322.00" font-size="11" text-anchor="middle" font-weight="normal" fill="#222" transform="rotate(-90 17.2 322.0)">CD4+</text>
<text x="58.20" y="316.70" font-size="10.4" text-anchor="middle" font-weight="normal" fill="#222" transform="rotate(-90 58.2 316.7)">Forward scatter</text>
<line x1="60.70" y1="419.00" x2="60.70" y2="219.50" stroke="#111" stroke-width="1.8"/>
<path d="M56.6,223.6 L60.7,218.8 L64.8,223.6" fill="none" stroke="#111" stroke-width="1.6"/>
<line x1="85.20" y1="438.00" x2="469.00" y2="438.00" stroke="#111" stroke-width="1.8"/>
<path d="M465,434 L470.7,438 L465,442" fill="none" stroke="#111" stroke-width="1.6"/>
<text x="275.20" y="451.50" font-size="11.2" text-anchor="middle" font-weight="normal" fill="#222">WASp</text>
<line x1="67.60" y1="221.50" x2="69.80" y2="221.50" stroke="#666" stroke-width="0.6"/>
<line x1="67.60" y1="240.70" x2="69.80" y2="240.70" stroke="#666" stroke-width="0.6"/>
<line x1="67.60" y1="259.90" x2="69.80" y2="259.90" stroke="#666" stroke-width="0.6"/>
<line x1="67.60" y1="279.10" x2="69.80" y2="279.10" stroke="#666" stroke-width="0.6"/>
<line x1="67.60" y1="298.30" x2="69.80" y2="298.30" stroke="#666" stroke-width="0.6"/>
<line x1="68.60" y1="219.50" x2="69.80" y2="219.50" stroke="#999" stroke-width="0.4"/>
<line x1="68.60" y1="223.30" x2="69.80" y2="223.30" stroke="#999" stroke-width="0.4"/>
<line x1="68.60" y1="227.10" x2="69.80" y2="227.10" stroke="#999" stroke-width="0.4"/>
<line x1="68.60" y1="230.90" x2="69.80" y2="230.90" stroke="#999" stroke-width="0.4"/>
<line x1="68.60" y1="234.70" x2="69.80" y2="234.70" stroke="#999" stroke-width="0.4"/>
<line x1="68.60" y1="238.50" x2="69.80" y2="238.50" stroke="#999" stroke-width="0.4"/>
<line x1="68.60" y1="242.30" x2="69.80" y2="242.30" stroke="#999" stroke-width="0.4"/>
<line x1="68.60" y1="246.10" x2="69.80" y2="246.10" stroke="#999" stroke-width="0.4"/>
<line x1="68.60" y1="249.90" x2="69.80" y2="249.90" stroke="#999" stroke-width="0.4"/>
<line x1="68.60" y1="253.70" x2="69.80" y2="253.70" stroke="#999" stroke-width="0.4"/>
<line x1="68.60" y1="257.50" x2="69.80" y2="257.50" stroke="#999" stroke-width="0.4"/>
<line x1="68.60" y1="261.30" x2="69.80" y2="261.30" stroke="#999" stroke-width="0.4"/>
<line x1="68.60" y1="265.10" x2="69.80" y2="265.10" stroke="#999" stroke-width="0.4"/>
<line x1="68.60" y1="268.90" x2="69.80" y2="268.90" stroke="#999" stroke-width="0.4"/>
<line x1="68.60" y1="272.70" x2="69.80" y2="272.70" stroke="#999" stroke-width="0.4"/>
<line x1="68.60" y1="276.50" x2="69.80" y2="276.50" stroke="#999" stroke-width="0.4"/>
<line x1="68.60" y1="280.30" x2="69.80" y2="280.30" stroke="#999" stroke-width="0.4"/>
<line x1="68.60" y1="284.10" x2="69.80" y2="284.10" stroke="#999" stroke-width="0.4"/>
<line x1="68.60" y1="287.90" x2="69.80" y2="287.90" stroke="#999" stroke-width="0.4"/>
<line x1="68.60" y1="291.70" x2="69.80" y2="291.70" stroke="#999" stroke-width="0.4"/>
<line x1="68.60" y1="295.50" x2="69.80" y2="295.50" stroke="#999" stroke-width="0.4"/>
<line x1="68.60" y1="299.30" x2="69.80" y2="299.30" stroke="#999" stroke-width="0.4"/>
<line x1="68.60" y1="303.10" x2="69.80" y2="303.10" stroke="#999" stroke-width="0.4"/>
<line x1="68.60" y1="306.90" x2="69.80" y2="306.90" stroke="#999" stroke-width="0.4"/>
<line x1="68.60" y1="310.70" x2="69.80" y2="310.70" stroke="#999" stroke-width="0.4"/>
<line x1="68.60" y1="314.50" x2="69.80" y2="314.50" stroke="#999" stroke-width="0.4"/>
<line x1="72.80" y1="316.30" x2="72.80" y2="317.50" stroke="#999" stroke-width="0.4"/>
<line x1="76.10" y1="316.30" x2="76.10" y2="317.50" stroke="#999" stroke-width="0.4"/>
<line x1="79.40" y1="316.30" x2="79.40" y2="317.50" stroke="#999" stroke-width="0.4"/>
<line x1="82.70" y1="316.30" x2="82.70" y2="317.50" stroke="#999" stroke-width="0.4"/>
<line x1="86.00" y1="316.30" x2="86.00" y2="317.50" stroke="#999" stroke-width="0.4"/>
<line x1="89.30" y1="316.30" x2="89.30" y2="317.50" stroke="#999" stroke-width="0.4"/>
<line x1="92.60" y1="316.30" x2="92.60" y2="317.50" stroke="#999" stroke-width="0.4"/>
<line x1="95.90" y1="316.30" x2="95.90" y2="317.50" stroke="#999" stroke-width="0.4"/>
<line x1="99.20" y1="316.30" x2="99.20" y2="317.50" stroke="#999" stroke-width="0.4"/>
<line x1="102.50" y1="316.30" x2="102.50" y2="317.50" stroke="#999" stroke-width="0.4"/>
<line x1="105.80" y1="316.30" x2="105.80" y2="317.50" stroke="#999" stroke-width="0.4"/>
<line x1="109.10" y1="316.30" x2="109.10" y2="317.50" stroke="#999" stroke-width="0.4"/>
<line x1="112.40" y1="316.30" x2="112.40" y2="317.50" stroke="#999" stroke-width="0.4"/>
<line x1="115.70" y1="316.30" x2="115.70" y2="317.50" stroke="#999" stroke-width="0.4"/>
<line x1="119.00" y1="316.30" x2="119.00" y2="317.50" stroke="#999" stroke-width="0.4"/>
<line x1="122.30" y1="316.30" x2="122.30" y2="317.50" stroke="#999" stroke-width="0.4"/>
<line x1="125.60" y1="316.30" x2="125.60" y2="317.50" stroke="#999" stroke-width="0.4"/>
<line x1="128.90" y1="316.30" x2="128.90" y2="317.50" stroke="#999" stroke-width="0.4"/>
<line x1="132.20" y1="316.30" x2="132.20" y2="317.50" stroke="#999" stroke-width="0.4"/>
<line x1="135.50" y1="316.30" x2="135.50" y2="317.50" stroke="#999" stroke-width="0.4"/>
<line x1="138.80" y1="316.30" x2="138.80" y2="317.50" stroke="#999" stroke-width="0.4"/>
<line x1="142.10" y1="316.30" x2="142.10" y2="317.50" stroke="#999" stroke-width="0.4"/>
<line x1="145.40" y1="316.30" x2="145.40" y2="317.50" stroke="#999" stroke-width="0.4"/>
<line x1="148.70" y1="316.30" x2="148.70" y2="317.50" stroke="#999" stroke-width="0.4"/>
<line x1="152.00" y1="316.30" x2="152.00" y2="317.50" stroke="#999" stroke-width="0.4"/>
<line x1="155.30" y1="316.30" x2="155.30" y2="317.50" stroke="#999" stroke-width="0.4"/>
<line x1="158.60" y1="316.30" x2="158.60" y2="317.50" stroke="#999" stroke-width="0.4"/>
<line x1="161.90" y1="316.30" x2="161.90" y2="317.50" stroke="#999" stroke-width="0.4"/>
<line x1="165.20" y1="316.30" x2="165.20" y2="317.50" stroke="#999" stroke-width="0.4"/>
<line x1="168.50" y1="316.30" x2="168.50" y2="317.50" stroke="#999" stroke-width="0.4"/>
<line x1="81.96" y1="316.30" x2="81.96" y2="318.50" stroke="#555" stroke-width="0.6"/>
<line x1="91.04" y1="316.30" x2="91.04" y2="318.50" stroke="#555" stroke-width="0.6"/>
<line x1="114.37" y1="316.30" x2="114.37" y2="318.50" stroke="#555" stroke-width="0.6"/>
<line x1="137.00" y1="316.30" x2="137.00" y2="318.50" stroke="#555" stroke-width="0.6"/>
<line x1="159.03" y1="316.30" x2="159.03" y2="318.50" stroke="#555" stroke-width="0.6"/>
<rect x="69.80" y="217.50" width="99.70" height="98.80" fill="none" stroke="#666" stroke-width="1.0"/>
<text x="72.10" y="228.60" font-size="10.5" text-anchor="start" font-weight="bold" fill="#111">MFI = 4858</text>
<text x="167.90" y="228.60" font-size="10.5" text-anchor="end" font-weight="normal" fill="#2a2a2a">98.3%</text>
<line x1="171.30" y1="221.50" x2="173.50" y2="221.50" stroke="#666" stroke-width="0.6"/>
<line x1="171.30" y1="240.70" x2="173.50" y2="240.70" stroke="#666" stroke-width="0.6"/>
<line x1="171.30" y1="259.90" x2="173.50" y2="259.90" stroke="#666" stroke-width="0.6"/>
<line x1="171.30" y1="279.10" x2="173.50" y2="279.10" stroke="#666" stroke-width="0.6"/>
<line x1="171.30" y1="298.30" x2="173.50" y2="298.30" stroke="#666" stroke-width="0.6"/>
<line x1="172.30" y1="219.50" x2="173.50" y2="219.50" stroke="#999" stroke-width="0.4"/>
<line x1="172.30" y1="223.30" x2="173.50" y2="223.30" stroke="#999" stroke-width="0.4"/>
<line x1="172.30" y1="227.10" x2="173.50" y2="227.10" stroke="#999" stroke-width="0.4"/>
<line x1="172.30" y1="230.90" x2="173.50" y2="230.90" stroke="#999" stroke-width="0.4"/>
<line x1="172.30" y1="234.70" x2="173.50" y2="234.70" stroke="#999" stroke-width="0.4"/>
<line x1="172.30" y1="238.50" x2="173.50" y2="238.50" stroke="#999" stroke-width="0.4"/>
<line x1="172.30" y1="242.30" x2="173.50" y2="242.30" stroke="#999" stroke-width="0.4"/>
<line x1="172.30" y1="246.10" x2="173.50" y2="246.10" stroke="#999" stroke-width="0.4"/>
<line x1="172.30" y1="249.90" x2="173.50" y2="249.90" stroke="#999" stroke-width="0.4"/>
<line x1="172.30" y1="253.70" x2="173.50" y2="253.70" stroke="#999" stroke-width="0.4"/>
<line x1="172.30" y1="257.50" x2="173.50" y2="257.50" stroke="#999" stroke-width="0.4"/>
<line x1="172.30" y1="261.30" x2="173.50" y2="261.30" stroke="#999" stroke-width="0.4"/>
<line x1="172.30" y1="265.10" x2="173.50" y2="265.10" stroke="#999" stroke-width="0.4"/>
<line x1="172.30" y1="268.90" x2="173.50" y2="268.90" stroke="#999" stroke-width="0.4"/>
<line x1="172.30" y1="272.70" x2="173.50" y2="272.70" stroke="#999" stroke-width="0.4"/>
<line x1="172.30" y1="276.50" x2="173.50" y2="276.50" stroke="#999" stroke-width="0.4"/>
<line x1="172.30" y1="280.30" x2="173.50" y2="280.30" stroke="#999" stroke-width="0.4"/>
<line x1="172.30" y1="284.10" x2="173.50" y2="284.10" stroke="#999" stroke-width="0.4"/>
<line x1="172.30" y1="287.90" x2="173.50" y2="287.90" stroke="#999" stroke-width="0.4"/>
<line x1="172.30" y1="291.70" x2="173.50" y2="291.70" stroke="#999" stroke-width="0.4"/>
<line x1="172.30" y1="295.50" x2="173.50" y2="295.50" stroke="#999" stroke-width="0.4"/>
<line x1="172.30" y1="299.30" x2="173.50" y2="299.30" stroke="#999" stroke-width="0.4"/>
<line x1="172.30" y1="303.10" x2="173.50" y2="303.10" stroke="#999" stroke-width="0.4"/>
<line x1="172.30" y1="306.90" x2="173.50" y2="306.90" stroke="#999" stroke-width="0.4"/>
<line x1="172.30" y1="310.70" x2="173.50" y2="310.70" stroke="#999" stroke-width="0.4"/>
<line x1="172.30" y1="314.50" x2="173.50" y2="314.50" stroke="#999" stroke-width="0.4"/>
<line x1="176.50" y1="316.30" x2="176.50" y2="317.50" stroke="#999" stroke-width="0.4"/>
<line x1="179.80" y1="316.30" x2="179.80" y2="317.50" stroke="#999" stroke-width="0.4"/>
<line x1="183.10" y1="316.30" x2="183.10" y2="317.50" stroke="#999" stroke-width="0.4"/>
<line x1="186.40" y1="316.30" x2="186.40" y2="317.50" stroke="#999" stroke-width="0.4"/>
<line x1="189.70" y1="316.30" x2="189.70" y2="317.50" stroke="#999" stroke-width="0.4"/>
<line x1="193.00" y1="316.30" x2="193.00" y2="317.50" stroke="#999" stroke-width="0.4"/>
<line x1="196.30" y1="316.30" x2="196.30" y2="317.50" stroke="#999" stroke-width="0.4"/>
<line x1="199.60" y1="316.30" x2="199.60" y2="317.50" stroke="#999" stroke-width="0.4"/>
<line x1="202.90" y1="316.30" x2="202.90" y2="317.50" stroke="#999" stroke-width="0.4"/>
<line x1="206.20" y1="316.30" x2="206.20" y2="317.50" stroke="#999" stroke-width="0.4"/>
<line x1="209.50" y1="316.30" x2="209.50" y2="317.50" stroke="#999" stroke-width="0.4"/>
<line x1="212.80" y1="316.30" x2="212.80" y2="317.50" stroke="#999" stroke-width="0.4"/>
<line x1="216.10" y1="316.30" x2="216.10" y2="317.50" stroke="#999" stroke-width="0.4"/>
<line x1="219.40" y1="316.30" x2="219.40" y2="317.50" stroke="#999" stroke-width="0.4"/>
<line x1="222.70" y1="316.30" x2="222.70" y2="317.50" stroke="#999" stroke-width="0.4"/>
<line x1="226.00" y1="316.30" x2="226.00" y2="317.50" stroke="#999" stroke-width="0.4"/>
<line x1="229.30" y1="316.30" x2="229.30" y2="317.50" stroke="#999" stroke-width="0.4"/>
<line x1="232.60" y1="316.30" x2="232.60" y2="317.50" stroke="#999" stroke-width="0.4"/>
<line x1="235.90" y1="316.30" x2="235.90" y2="317.50" stroke="#999" stroke-width="0.4"/>
<line x1="239.20" y1="316.30" x2="239.20" y2="317.50" stroke="#999" stroke-width="0.4"/>
<line x1="242.50" y1="316.30" x2="242.50" y2="317.50" stroke="#999" stroke-width="0.4"/>
<line x1="245.80" y1="316.30" x2="245.80" y2="317.50" stroke="#999" stroke-width="0.4"/>
<line x1="249.10" y1="316.30" x2="249.10" y2="317.50" stroke="#999" stroke-width="0.4"/>
<line x1="252.40" y1="316.30" x2="252.40" y2="317.50" stroke="#999" stroke-width="0.4"/>
<line x1="255.70" y1="316.30" x2="255.70" y2="317.50" stroke="#999" stroke-width="0.4"/>
<line x1="259.00" y1="316.30" x2="259.00" y2="317.50" stroke="#999" stroke-width="0.4"/>
<line x1="262.30" y1="316.30" x2="262.30" y2="317.50" stroke="#999" stroke-width="0.4"/>
<line x1="265.60" y1="316.30" x2="265.60" y2="317.50" stroke="#999" stroke-width="0.4"/>
<line x1="268.90" y1="316.30" x2="268.90" y2="317.50" stroke="#999" stroke-width="0.4"/>
<line x1="272.20" y1="316.30" x2="272.20" y2="317.50" stroke="#999" stroke-width="0.4"/>
<line x1="185.60" y1="316.30" x2="185.60" y2="318.50" stroke="#555" stroke-width="0.6"/>
<line x1="194.63" y1="316.30" x2="194.63" y2="318.50" stroke="#555" stroke-width="0.6"/>
<line x1="217.84" y1="316.30" x2="217.84" y2="318.50" stroke="#555" stroke-width="0.6"/>
<line x1="240.36" y1="316.30" x2="240.36" y2="318.50" stroke="#555" stroke-width="0.6"/>
<line x1="262.28" y1="316.30" x2="262.28" y2="318.50" stroke="#555" stroke-width="0.6"/>
<rect x="173.50" y="217.50" width="99.20" height="98.80" fill="none" stroke="#666" stroke-width="1.0"/>
<text x="268.00" y="228.60" font-size="10.5" text-anchor="end" font-weight="normal" fill="#2a2a2a">1.8</text>
<line x1="277.30" y1="221.50" x2="279.50" y2="221.50" stroke="#666" stroke-width="0.6"/>
<line x1="277.30" y1="240.70" x2="279.50" y2="240.70" stroke="#666" stroke-width="0.6"/>
<line x1="277.30" y1="259.90" x2="279.50" y2="259.90" stroke="#666" stroke-width="0.6"/>
<line x1="277.30" y1="279.10" x2="279.50" y2="279.10" stroke="#666" stroke-width="0.6"/>
<line x1="277.30" y1="298.30" x2="279.50" y2="298.30" stroke="#666" stroke-width="0.6"/>
<line x1="278.30" y1="219.50" x2="279.50" y2="219.50" stroke="#999" stroke-width="0.4"/>
<line x1="278.30" y1="223.30" x2="279.50" y2="223.30" stroke="#999" stroke-width="0.4"/>
<line x1="278.30" y1="227.10" x2="279.50" y2="227.10" stroke="#999" stroke-width="0.4"/>
<line x1="278.30" y1="230.90" x2="279.50" y2="230.90" stroke="#999" stroke-width="0.4"/>
<line x1="278.30" y1="234.70" x2="279.50" y2="234.70" stroke="#999" stroke-width="0.4"/>
<line x1="278.30" y1="238.50" x2="279.50" y2="238.50" stroke="#999" stroke-width="0.4"/>
<line x1="278.30" y1="242.30" x2="279.50" y2="242.30" stroke="#999" stroke-width="0.4"/>
<line x1="278.30" y1="246.10" x2="279.50" y2="246.10" stroke="#999" stroke-width="0.4"/>
<line x1="278.30" y1="249.90" x2="279.50" y2="249.90" stroke="#999" stroke-width="0.4"/>
<line x1="278.30" y1="253.70" x2="279.50" y2="253.70" stroke="#999" stroke-width="0.4"/>
<line x1="278.30" y1="257.50" x2="279.50" y2="257.50" stroke="#999" stroke-width="0.4"/>
<line x1="278.30" y1="261.30" x2="279.50" y2="261.30" stroke="#999" stroke-width="0.4"/>
<line x1="278.30" y1="265.10" x2="279.50" y2="265.10" stroke="#999" stroke-width="0.4"/>
<line x1="278.30" y1="268.90" x2="279.50" y2="268.90" stroke="#999" stroke-width="0.4"/>
<line x1="278.30" y1="272.70" x2="279.50" y2="272.70" stroke="#999" stroke-width="0.4"/>
<line x1="278.30" y1="276.50" x2="279.50" y2="276.50" stroke="#999" stroke-width="0.4"/>
<line x1="278.30" y1="280.30" x2="279.50" y2="280.30" stroke="#999" stroke-width="0.4"/>
<line x1="278.30" y1="284.10" x2="279.50" y2="284.10" stroke="#999" stroke-width="0.4"/>
<line x1="278.30" y1="287.90" x2="279.50" y2="287.90" stroke="#999" stroke-width="0.4"/>
<line x1="278.30" y1="291.70" x2="279.50" y2="291.70" stroke="#999" stroke-width="0.4"/>
<line x1="278.30" y1="295.50" x2="279.50" y2="295.50" stroke="#999" stroke-width="0.4"/>
<line x1="278.30" y1="299.30" x2="279.50" y2="299.30" stroke="#999" stroke-width="0.4"/>
<line x1="278.30" y1="303.10" x2="279.50" y2="303.10" stroke="#999" stroke-width="0.4"/>
<line x1="278.30" y1="306.90" x2="279.50" y2="306.90" stroke="#999" stroke-width="0.4"/>
<line x1="278.30" y1="310.70" x2="279.50" y2="310.70" stroke="#999" stroke-width="0.4"/>
<line x1="278.30" y1="314.50" x2="279.50" y2="314.50" stroke="#999" stroke-width="0.4"/>
<line x1="282.50" y1="316.30" x2="282.50" y2="317.50" stroke="#999" stroke-width="0.4"/>
<line x1="285.80" y1="316.30" x2="285.80" y2="317.50" stroke="#999" stroke-width="0.4"/>
<line x1="289.10" y1="316.30" x2="289.10" y2="317.50" stroke="#999" stroke-width="0.4"/>
<line x1="292.40" y1="316.30" x2="292.40" y2="317.50" stroke="#999" stroke-width="0.4"/>
<line x1="295.70" y1="316.30" x2="295.70" y2="317.50" stroke="#999" stroke-width="0.4"/>
<line x1="299.00" y1="316.30" x2="299.00" y2="317.50" stroke="#999" stroke-width="0.4"/>
<line x1="302.30" y1="316.30" x2="302.30" y2="317.50" stroke="#999" stroke-width="0.4"/>
<line x1="305.60" y1="316.30" x2="305.60" y2="317.50" stroke="#999" stroke-width="0.4"/>
<line x1="308.90" y1="316.30" x2="308.90" y2="317.50" stroke="#999" stroke-width="0.4"/>
<line x1="312.20" y1="316.30" x2="312.20" y2="317.50" stroke="#999" stroke-width="0.4"/>
<line x1="315.50" y1="316.30" x2="315.50" y2="317.50" stroke="#999" stroke-width="0.4"/>
<line x1="318.80" y1="316.30" x2="318.80" y2="317.50" stroke="#999" stroke-width="0.4"/>
<line x1="322.10" y1="316.30" x2="322.10" y2="317.50" stroke="#999" stroke-width="0.4"/>
<line x1="325.40" y1="316.30" x2="325.40" y2="317.50" stroke="#999" stroke-width="0.4"/>
<line x1="328.70" y1="316.30" x2="328.70" y2="317.50" stroke="#999" stroke-width="0.4"/>
<line x1="332.00" y1="316.30" x2="332.00" y2="317.50" stroke="#999" stroke-width="0.4"/>
<line x1="335.30" y1="316.30" x2="335.30" y2="317.50" stroke="#999" stroke-width="0.4"/>
<line x1="338.60" y1="316.30" x2="338.60" y2="317.50" stroke="#999" stroke-width="0.4"/>
<line x1="341.90" y1="316.30" x2="341.90" y2="317.50" stroke="#999" stroke-width="0.4"/>
<line x1="345.20" y1="316.30" x2="345.20" y2="317.50" stroke="#999" stroke-width="0.4"/>
<line x1="348.50" y1="316.30" x2="348.50" y2="317.50" stroke="#999" stroke-width="0.4"/>
<line x1="351.80" y1="316.30" x2="351.80" y2="317.50" stroke="#999" stroke-width="0.4"/>
<line x1="355.10" y1="316.30" x2="355.10" y2="317.50" stroke="#999" stroke-width="0.4"/>
<line x1="358.40" y1="316.30" x2="358.40" y2="317.50" stroke="#999" stroke-width="0.4"/>
<line x1="361.70" y1="316.30" x2="361.70" y2="317.50" stroke="#999" stroke-width="0.4"/>
<line x1="365.00" y1="316.30" x2="365.00" y2="317.50" stroke="#999" stroke-width="0.4"/>
<line x1="368.30" y1="316.30" x2="368.30" y2="317.50" stroke="#999" stroke-width="0.4"/>
<line x1="371.60" y1="316.30" x2="371.60" y2="317.50" stroke="#999" stroke-width="0.4"/>
<line x1="374.90" y1="316.30" x2="374.90" y2="317.50" stroke="#999" stroke-width="0.4"/>
<line x1="378.20" y1="316.30" x2="378.20" y2="317.50" stroke="#999" stroke-width="0.4"/>
<line x1="291.60" y1="316.30" x2="291.60" y2="318.50" stroke="#555" stroke-width="0.6"/>
<line x1="300.63" y1="316.30" x2="300.63" y2="318.50" stroke="#555" stroke-width="0.6"/>
<line x1="323.84" y1="316.30" x2="323.84" y2="318.50" stroke="#555" stroke-width="0.6"/>
<line x1="346.36" y1="316.30" x2="346.36" y2="318.50" stroke="#555" stroke-width="0.6"/>
<line x1="368.28" y1="316.30" x2="368.28" y2="318.50" stroke="#555" stroke-width="0.6"/>
<rect x="279.50" y="217.50" width="99.20" height="98.80" fill="none" stroke="#666" stroke-width="1.0"/>
<text x="281.80" y="228.60" font-size="10.5" text-anchor="start" font-weight="bold" fill="#111">4660</text>
<text x="376.80" y="228.60" font-size="10.5" text-anchor="end" font-weight="normal" fill="#2a2a2a">66.9</text>
<line x1="379.60" y1="221.50" x2="381.80" y2="221.50" stroke="#666" stroke-width="0.6"/>
<line x1="379.60" y1="240.70" x2="381.80" y2="240.70" stroke="#666" stroke-width="0.6"/>
<line x1="379.60" y1="259.90" x2="381.80" y2="259.90" stroke="#666" stroke-width="0.6"/>
<line x1="379.60" y1="279.10" x2="381.80" y2="279.10" stroke="#666" stroke-width="0.6"/>
<line x1="379.60" y1="298.30" x2="381.80" y2="298.30" stroke="#666" stroke-width="0.6"/>
<line x1="380.60" y1="219.50" x2="381.80" y2="219.50" stroke="#999" stroke-width="0.4"/>
<line x1="380.60" y1="223.30" x2="381.80" y2="223.30" stroke="#999" stroke-width="0.4"/>
<line x1="380.60" y1="227.10" x2="381.80" y2="227.10" stroke="#999" stroke-width="0.4"/>
<line x1="380.60" y1="230.90" x2="381.80" y2="230.90" stroke="#999" stroke-width="0.4"/>
<line x1="380.60" y1="234.70" x2="381.80" y2="234.70" stroke="#999" stroke-width="0.4"/>
<line x1="380.60" y1="238.50" x2="381.80" y2="238.50" stroke="#999" stroke-width="0.4"/>
<line x1="380.60" y1="242.30" x2="381.80" y2="242.30" stroke="#999" stroke-width="0.4"/>
<line x1="380.60" y1="246.10" x2="381.80" y2="246.10" stroke="#999" stroke-width="0.4"/>
<line x1="380.60" y1="249.90" x2="381.80" y2="249.90" stroke="#999" stroke-width="0.4"/>
<line x1="380.60" y1="253.70" x2="381.80" y2="253.70" stroke="#999" stroke-width="0.4"/>
<line x1="380.60" y1="257.50" x2="381.80" y2="257.50" stroke="#999" stroke-width="0.4"/>
<line x1="380.60" y1="261.30" x2="381.80" y2="261.30" stroke="#999" stroke-width="0.4"/>
<line x1="380.60" y1="265.10" x2="381.80" y2="265.10" stroke="#999" stroke-width="0.4"/>
<line x1="380.60" y1="268.90" x2="381.80" y2="268.90" stroke="#999" stroke-width="0.4"/>
<line x1="380.60" y1="272.70" x2="381.80" y2="272.70" stroke="#999" stroke-width="0.4"/>
<line x1="380.60" y1="276.50" x2="381.80" y2="276.50" stroke="#999" stroke-width="0.4"/>
<line x1="380.60" y1="280.30" x2="381.80" y2="280.30" stroke="#999" stroke-width="0.4"/>
<line x1="380.60" y1="284.10" x2="381.80" y2="284.10" stroke="#999" stroke-width="0.4"/>
<line x1="380.60" y1="287.90" x2="381.80" y2="287.90" stroke="#999" stroke-width="0.4"/>
<line x1="380.60" y1="291.70" x2="381.80" y2="291.70" stroke="#999" stroke-width="0.4"/>
<line x1="380.60" y1="295.50" x2="381.80" y2="295.50" stroke="#999" stroke-width="0.4"/>
<line x1="380.60" y1="299.30" x2="381.80" y2="299.30" stroke="#999" stroke-width="0.4"/>
<line x1="380.60" y1="303.10" x2="381.80" y2="303.10" stroke="#999" stroke-width="0.4"/>
<line x1="380.60" y1="306.90" x2="381.80" y2="306.90" stroke="#999" stroke-width="0.4"/>
<line x1="380.60" y1="310.70" x2="381.80" y2="310.70" stroke="#999" stroke-width="0.4"/>
<line x1="380.60" y1="314.50" x2="381.80" y2="314.50" stroke="#999" stroke-width="0.4"/>
<line x1="384.80" y1="316.30" x2="384.80" y2="317.50" stroke="#999" stroke-width="0.4"/>
<line x1="388.10" y1="316.30" x2="388.10" y2="317.50" stroke="#999" stroke-width="0.4"/>
<line x1="391.40" y1="316.30" x2="391.40" y2="317.50" stroke="#999" stroke-width="0.4"/>
<line x1="394.70" y1="316.30" x2="394.70" y2="317.50" stroke="#999" stroke-width="0.4"/>
<line x1="398.00" y1="316.30" x2="398.00" y2="317.50" stroke="#999" stroke-width="0.4"/>
<line x1="401.30" y1="316.30" x2="401.30" y2="317.50" stroke="#999" stroke-width="0.4"/>
<line x1="404.60" y1="316.30" x2="404.60" y2="317.50" stroke="#999" stroke-width="0.4"/>
<line x1="407.90" y1="316.30" x2="407.90" y2="317.50" stroke="#999" stroke-width="0.4"/>
<line x1="411.20" y1="316.30" x2="411.20" y2="317.50" stroke="#999" stroke-width="0.4"/>
<line x1="414.50" y1="316.30" x2="414.50" y2="317.50" stroke="#999" stroke-width="0.4"/>
<line x1="417.80" y1="316.30" x2="417.80" y2="317.50" stroke="#999" stroke-width="0.4"/>
<line x1="421.10" y1="316.30" x2="421.10" y2="317.50" stroke="#999" stroke-width="0.4"/>
<line x1="424.40" y1="316.30" x2="424.40" y2="317.50" stroke="#999" stroke-width="0.4"/>
<line x1="427.70" y1="316.30" x2="427.70" y2="317.50" stroke="#999" stroke-width="0.4"/>
<line x1="431.00" y1="316.30" x2="431.00" y2="317.50" stroke="#999" stroke-width="0.4"/>
<line x1="434.30" y1="316.30" x2="434.30" y2="317.50" stroke="#999" stroke-width="0.4"/>
<line x1="437.60" y1="316.30" x2="437.60" y2="317.50" stroke="#999" stroke-width="0.4"/>
<line x1="440.90" y1="316.30" x2="440.90" y2="317.50" stroke="#999" stroke-width="0.4"/>
<line x1="444.20" y1="316.30" x2="444.20" y2="317.50" stroke="#999" stroke-width="0.4"/>
<line x1="447.50" y1="316.30" x2="447.50" y2="317.50" stroke="#999" stroke-width="0.4"/>
<line x1="450.80" y1="316.30" x2="450.80" y2="317.50" stroke="#999" stroke-width="0.4"/>
<line x1="454.10" y1="316.30" x2="454.10" y2="317.50" stroke="#999" stroke-width="0.4"/>
<line x1="457.40" y1="316.30" x2="457.40" y2="317.50" stroke="#999" stroke-width="0.4"/>
<line x1="460.70" y1="316.30" x2="460.70" y2="317.50" stroke="#999" stroke-width="0.4"/>
<line x1="464.00" y1="316.30" x2="464.00" y2="317.50" stroke="#999" stroke-width="0.4"/>
<line x1="467.30" y1="316.30" x2="467.30" y2="317.50" stroke="#999" stroke-width="0.4"/>
<line x1="470.60" y1="316.30" x2="470.60" y2="317.50" stroke="#999" stroke-width="0.4"/>
<line x1="473.90" y1="316.30" x2="473.90" y2="317.50" stroke="#999" stroke-width="0.4"/>
<line x1="477.20" y1="316.30" x2="477.20" y2="317.50" stroke="#999" stroke-width="0.4"/>
<line x1="480.50" y1="316.30" x2="480.50" y2="317.50" stroke="#999" stroke-width="0.4"/>
<line x1="393.88" y1="316.30" x2="393.88" y2="318.50" stroke="#555" stroke-width="0.6"/>
<line x1="402.89" y1="316.30" x2="402.89" y2="318.50" stroke="#555" stroke-width="0.6"/>
<line x1="426.05" y1="316.30" x2="426.05" y2="318.50" stroke="#555" stroke-width="0.6"/>
<line x1="448.53" y1="316.30" x2="448.53" y2="318.50" stroke="#555" stroke-width="0.6"/>
<line x1="470.41" y1="316.30" x2="470.41" y2="318.50" stroke="#555" stroke-width="0.6"/>
<rect x="381.80" y="217.50" width="99.00" height="98.80" fill="none" stroke="#666" stroke-width="1.0"/>
<text x="384.10" y="228.60" font-size="10.5" text-anchor="start" font-weight="bold" fill="#111">1603</text>
<text x="475.00" y="228.60" font-size="10.5" text-anchor="end" font-weight="normal" fill="#2a2a2a">46</text>
<line x1="67.60" y1="324.20" x2="69.80" y2="324.20" stroke="#666" stroke-width="0.6"/>
<line x1="67.60" y1="343.40" x2="69.80" y2="343.40" stroke="#666" stroke-width="0.6"/>
<line x1="67.60" y1="362.60" x2="69.80" y2="362.60" stroke="#666" stroke-width="0.6"/>
<line x1="67.60" y1="381.80" x2="69.80" y2="381.80" stroke="#666" stroke-width="0.6"/>
<line x1="67.60" y1="401.00" x2="69.80" y2="401.00" stroke="#666" stroke-width="0.6"/>
<line x1="68.60" y1="322.20" x2="69.80" y2="322.20" stroke="#999" stroke-width="0.4"/>
<line x1="68.60" y1="326.00" x2="69.80" y2="326.00" stroke="#999" stroke-width="0.4"/>
<line x1="68.60" y1="329.80" x2="69.80" y2="329.80" stroke="#999" stroke-width="0.4"/>
<line x1="68.60" y1="333.60" x2="69.80" y2="333.60" stroke="#999" stroke-width="0.4"/>
<line x1="68.60" y1="337.40" x2="69.80" y2="337.40" stroke="#999" stroke-width="0.4"/>
<line x1="68.60" y1="341.20" x2="69.80" y2="341.20" stroke="#999" stroke-width="0.4"/>
<line x1="68.60" y1="345.00" x2="69.80" y2="345.00" stroke="#999" stroke-width="0.4"/>
<line x1="68.60" y1="348.80" x2="69.80" y2="348.80" stroke="#999" stroke-width="0.4"/>
<line x1="68.60" y1="352.60" x2="69.80" y2="352.60" stroke="#999" stroke-width="0.4"/>
<line x1="68.60" y1="356.40" x2="69.80" y2="356.40" stroke="#999" stroke-width="0.4"/>
<line x1="68.60" y1="360.20" x2="69.80" y2="360.20" stroke="#999" stroke-width="0.4"/>
<line x1="68.60" y1="364.00" x2="69.80" y2="364.00" stroke="#999" stroke-width="0.4"/>
<line x1="68.60" y1="367.80" x2="69.80" y2="367.80" stroke="#999" stroke-width="0.4"/>
<line x1="68.60" y1="371.60" x2="69.80" y2="371.60" stroke="#999" stroke-width="0.4"/>
<line x1="68.60" y1="375.40" x2="69.80" y2="375.40" stroke="#999" stroke-width="0.4"/>
<line x1="68.60" y1="379.20" x2="69.80" y2="379.20" stroke="#999" stroke-width="0.4"/>
<line x1="68.60" y1="383.00" x2="69.80" y2="383.00" stroke="#999" stroke-width="0.4"/>
<line x1="68.60" y1="386.80" x2="69.80" y2="386.80" stroke="#999" stroke-width="0.4"/>
<line x1="68.60" y1="390.60" x2="69.80" y2="390.60" stroke="#999" stroke-width="0.4"/>
<line x1="68.60" y1="394.40" x2="69.80" y2="394.40" stroke="#999" stroke-width="0.4"/>
<line x1="68.60" y1="398.20" x2="69.80" y2="398.20" stroke="#999" stroke-width="0.4"/>
<line x1="68.60" y1="402.00" x2="69.80" y2="402.00" stroke="#999" stroke-width="0.4"/>
<line x1="68.60" y1="405.80" x2="69.80" y2="405.80" stroke="#999" stroke-width="0.4"/>
<line x1="68.60" y1="409.60" x2="69.80" y2="409.60" stroke="#999" stroke-width="0.4"/>
<line x1="68.60" y1="413.40" x2="69.80" y2="413.40" stroke="#999" stroke-width="0.4"/>
<line x1="68.60" y1="417.20" x2="69.80" y2="417.20" stroke="#999" stroke-width="0.4"/>
<line x1="72.80" y1="419.00" x2="72.80" y2="420.20" stroke="#999" stroke-width="0.4"/>
<line x1="76.10" y1="419.00" x2="76.10" y2="420.20" stroke="#999" stroke-width="0.4"/>
<line x1="79.40" y1="419.00" x2="79.40" y2="420.20" stroke="#999" stroke-width="0.4"/>
<line x1="82.70" y1="419.00" x2="82.70" y2="420.20" stroke="#999" stroke-width="0.4"/>
<line x1="86.00" y1="419.00" x2="86.00" y2="420.20" stroke="#999" stroke-width="0.4"/>
<line x1="89.30" y1="419.00" x2="89.30" y2="420.20" stroke="#999" stroke-width="0.4"/>
<line x1="92.60" y1="419.00" x2="92.60" y2="420.20" stroke="#999" stroke-width="0.4"/>
<line x1="95.90" y1="419.00" x2="95.90" y2="420.20" stroke="#999" stroke-width="0.4"/>
<line x1="99.20" y1="419.00" x2="99.20" y2="420.20" stroke="#999" stroke-width="0.4"/>
<line x1="102.50" y1="419.00" x2="102.50" y2="420.20" stroke="#999" stroke-width="0.4"/>
<line x1="105.80" y1="419.00" x2="105.80" y2="420.20" stroke="#999" stroke-width="0.4"/>
<line x1="109.10" y1="419.00" x2="109.10" y2="420.20" stroke="#999" stroke-width="0.4"/>
<line x1="112.40" y1="419.00" x2="112.40" y2="420.20" stroke="#999" stroke-width="0.4"/>
<line x1="115.70" y1="419.00" x2="115.70" y2="420.20" stroke="#999" stroke-width="0.4"/>
<line x1="119.00" y1="419.00" x2="119.00" y2="420.20" stroke="#999" stroke-width="0.4"/>
<line x1="122.30" y1="419.00" x2="122.30" y2="420.20" stroke="#999" stroke-width="0.4"/>
<line x1="125.60" y1="419.00" x2="125.60" y2="420.20" stroke="#999" stroke-width="0.4"/>
<line x1="128.90" y1="419.00" x2="128.90" y2="420.20" stroke="#999" stroke-width="0.4"/>
<line x1="132.20" y1="419.00" x2="132.20" y2="420.20" stroke="#999" stroke-width="0.4"/>
<line x1="135.50" y1="419.00" x2="135.50" y2="420.20" stroke="#999" stroke-width="0.4"/>
<line x1="138.80" y1="419.00" x2="138.80" y2="420.20" stroke="#999" stroke-width="0.4"/>
<line x1="142.10" y1="419.00" x2="142.10" y2="420.20" stroke="#999" stroke-width="0.4"/>
<line x1="145.40" y1="419.00" x2="145.40" y2="420.20" stroke="#999" stroke-width="0.4"/>
<line x1="148.70" y1="419.00" x2="148.70" y2="420.20" stroke="#999" stroke-width="0.4"/>
<line x1="152.00" y1="419.00" x2="152.00" y2="420.20" stroke="#999" stroke-width="0.4"/>
<line x1="155.30" y1="419.00" x2="155.30" y2="420.20" stroke="#999" stroke-width="0.4"/>
<line x1="158.60" y1="419.00" x2="158.60" y2="420.20" stroke="#999" stroke-width="0.4"/>
<line x1="161.90" y1="419.00" x2="161.90" y2="420.20" stroke="#999" stroke-width="0.4"/>
<line x1="165.20" y1="419.00" x2="165.20" y2="420.20" stroke="#999" stroke-width="0.4"/>
<line x1="168.50" y1="419.00" x2="168.50" y2="420.20" stroke="#999" stroke-width="0.4"/>
<line x1="81.96" y1="419.00" x2="81.96" y2="421.20" stroke="#555" stroke-width="0.6"/>
<line x1="91.04" y1="419.00" x2="91.04" y2="421.20" stroke="#555" stroke-width="0.6"/>
<line x1="114.37" y1="419.00" x2="114.37" y2="421.20" stroke="#555" stroke-width="0.6"/>
<line x1="137.00" y1="419.00" x2="137.00" y2="421.20" stroke="#555" stroke-width="0.6"/>
<line x1="159.03" y1="419.00" x2="159.03" y2="421.20" stroke="#555" stroke-width="0.6"/>
<text x="81.96" y="428.60" font-size="4.8" text-anchor="middle" font-weight="normal" fill="#666">0</text>
<text x="91.04" y="428.60" font-size="4.8" text-anchor="middle" fill="#666">10<tspan font-size="2.98" dy="-2.16">2</tspan></text>
<text x="114.37" y="428.60" font-size="4.8" text-anchor="middle" fill="#666">10<tspan font-size="2.98" dy="-2.16">3</tspan></text>
<text x="137.00" y="428.60" font-size="4.8" text-anchor="middle" fill="#666">10<tspan font-size="2.98" dy="-2.16">4</tspan></text>
<text x="159.03" y="428.60" font-size="4.8" text-anchor="middle" fill="#666">10<tspan font-size="2.98" dy="-2.16">5</tspan></text>
<rect x="69.80" y="320.20" width="99.70" height="98.80" fill="none" stroke="#666" stroke-width="1.0"/>
<text x="72.10" y="331.30" font-size="10.5" text-anchor="start" font-weight="bold" fill="#111">6001</text>
<text x="167.00" y="331.30" font-size="10.5" text-anchor="end" font-weight="normal" fill="#2a2a2a">98.7</text>
<line x1="171.30" y1="324.20" x2="173.50" y2="324.20" stroke="#666" stroke-width="0.6"/>
<line x1="171.30" y1="343.40" x2="173.50" y2="343.40" stroke="#666" stroke-width="0.6"/>
<line x1="171.30" y1="362.60" x2="173.50" y2="362.60" stroke="#666" stroke-width="0.6"/>
<line x1="171.30" y1="381.80" x2="173.50" y2="381.80" stroke="#666" stroke-width="0.6"/>
<line x1="171.30" y1="401.00" x2="173.50" y2="401.00" stroke="#666" stroke-width="0.6"/>
<line x1="172.30" y1="322.20" x2="173.50" y2="322.20" stroke="#999" stroke-width="0.4"/>
<line x1="172.30" y1="326.00" x2="173.50" y2="326.00" stroke="#999" stroke-width="0.4"/>
<line x1="172.30" y1="329.80" x2="173.50" y2="329.80" stroke="#999" stroke-width="0.4"/>
<line x1="172.30" y1="333.60" x2="173.50" y2="333.60" stroke="#999" stroke-width="0.4"/>
<line x1="172.30" y1="337.40" x2="173.50" y2="337.40" stroke="#999" stroke-width="0.4"/>
<line x1="172.30" y1="341.20" x2="173.50" y2="341.20" stroke="#999" stroke-width="0.4"/>
<line x1="172.30" y1="345.00" x2="173.50" y2="345.00" stroke="#999" stroke-width="0.4"/>
<line x1="172.30" y1="348.80" x2="173.50" y2="348.80" stroke="#999" stroke-width="0.4"/>
<line x1="172.30" y1="352.60" x2="173.50" y2="352.60" stroke="#999" stroke-width="0.4"/>
<line x1="172.30" y1="356.40" x2="173.50" y2="356.40" stroke="#999" stroke-width="0.4"/>
<line x1="172.30" y1="360.20" x2="173.50" y2="360.20" stroke="#999" stroke-width="0.4"/>
<line x1="172.30" y1="364.00" x2="173.50" y2="364.00" stroke="#999" stroke-width="0.4"/>
<line x1="172.30" y1="367.80" x2="173.50" y2="367.80" stroke="#999" stroke-width="0.4"/>
<line x1="172.30" y1="371.60" x2="173.50" y2="371.60" stroke="#999" stroke-width="0.4"/>
<line x1="172.30" y1="375.40" x2="173.50" y2="375.40" stroke="#999" stroke-width="0.4"/>
<line x1="172.30" y1="379.20" x2="173.50" y2="379.20" stroke="#999" stroke-width="0.4"/>
<line x1="172.30" y1="383.00" x2="173.50" y2="383.00" stroke="#999" stroke-width="0.4"/>
<line x1="172.30" y1="386.80" x2="173.50" y2="386.80" stroke="#999" stroke-width="0.4"/>
<line x1="172.30" y1="390.60" x2="173.50" y2="390.60" stroke="#999" stroke-width="0.4"/>
<line x1="172.30" y1="394.40" x2="173.50" y2="394.40" stroke="#999" stroke-width="0.4"/>
<line x1="172.30" y1="398.20" x2="173.50" y2="398.20" stroke="#999" stroke-width="0.4"/>
<line x1="172.30" y1="402.00" x2="173.50" y2="402.00" stroke="#999" stroke-width="0.4"/>
<line x1="172.30" y1="405.80" x2="173.50" y2="405.80" stroke="#999" stroke-width="0.4"/>
<line x1="172.30" y1="409.60" x2="173.50" y2="409.60" stroke="#999" stroke-width="0.4"/>
<line x1="172.30" y1="413.40" x2="173.50" y2="413.40" stroke="#999" stroke-width="0.4"/>
<line x1="172.30" y1="417.20" x2="173.50" y2="417.20" stroke="#999" stroke-width="0.4"/>
<line x1="176.50" y1="419.00" x2="176.50" y2="420.20" stroke="#999" stroke-width="0.4"/>
<line x1="179.80" y1="419.00" x2="179.80" y2="420.20" stroke="#999" stroke-width="0.4"/>
<line x1="183.10" y1="419.00" x2="183.10" y2="420.20" stroke="#999" stroke-width="0.4"/>
<line x1="186.40" y1="419.00" x2="186.40" y2="420.20" stroke="#999" stroke-width="0.4"/>
<line x1="189.70" y1="419.00" x2="189.70" y2="420.20" stroke="#999" stroke-width="0.4"/>
<line x1="193.00" y1="419.00" x2="193.00" y2="420.20" stroke="#999" stroke-width="0.4"/>
<line x1="196.30" y1="419.00" x2="196.30" y2="420.20" stroke="#999" stroke-width="0.4"/>
<line x1="199.60" y1="419.00" x2="199.60" y2="420.20" stroke="#999" stroke-width="0.4"/>
<line x1="202.90" y1="419.00" x2="202.90" y2="420.20" stroke="#999" stroke-width="0.4"/>
<line x1="206.20" y1="419.00" x2="206.20" y2="420.20" stroke="#999" stroke-width="0.4"/>
<line x1="209.50" y1="419.00" x2="209.50" y2="420.20" stroke="#999" stroke-width="0.4"/>
<line x1="212.80" y1="419.00" x2="212.80" y2="420.20" stroke="#999" stroke-width="0.4"/>
<line x1="216.10" y1="419.00" x2="216.10" y2="420.20" stroke="#999" stroke-width="0.4"/>
<line x1="219.40" y1="419.00" x2="219.40" y2="420.20" stroke="#999" stroke-width="0.4"/>
<line x1="222.70" y1="419.00" x2="222.70" y2="420.20" stroke="#999" stroke-width="0.4"/>
<line x1="226.00" y1="419.00" x2="226.00" y2="420.20" stroke="#999" stroke-width="0.4"/>
<line x1="229.30" y1="419.00" x2="229.30" y2="420.20" stroke="#999" stroke-width="0.4"/>
<line x1="232.60" y1="419.00" x2="232.60" y2="420.20" stroke="#999" stroke-width="0.4"/>
<line x1="235.90" y1="419.00" x2="235.90" y2="420.20" stroke="#999" stroke-width="0.4"/>
<line x1="239.20" y1="419.00" x2="239.20" y2="420.20" stroke="#999" stroke-width="0.4"/>
<line x1="242.50" y1="419.00" x2="242.50" y2="420.20" stroke="#999" stroke-width="0.4"/>
<line x1="245.80" y1="419.00" x2="245.80" y2="420.20" stroke="#999" stroke-width="0.4"/>
<line x1="249.10" y1="419.00" x2="249.10" y2="420.20" stroke="#999" stroke-width="0.4"/>
<line x1="252.40" y1="419.00" x2="252.40" y2="420.20" stroke="#999" stroke-width="0.4"/>
<line x1="255.70" y1="419.00" x2="255.70" y2="420.20" stroke="#999" stroke-width="0.4"/>
<line x1="259.00" y1="419.00" x2="259.00" y2="420.20" stroke="#999" stroke-width="0.4"/>
<line x1="262.30" y1="419.00" x2="262.30" y2="420.20" stroke="#999" stroke-width="0.4"/>
<line x1="265.60" y1="419.00" x2="265.60" y2="420.20" stroke="#999" stroke-width="0.4"/>
<line x1="268.90" y1="419.00" x2="268.90" y2="420.20" stroke="#999" stroke-width="0.4"/>
<line x1="272.20" y1="419.00" x2="272.20" y2="420.20" stroke="#999" stroke-width="0.4"/>
<line x1="185.60" y1="419.00" x2="185.60" y2="421.20" stroke="#555" stroke-width="0.6"/>
<line x1="194.63" y1="419.00" x2="194.63" y2="421.20" stroke="#555" stroke-width="0.6"/>
<line x1="217.84" y1="419.00" x2="217.84" y2="421.20" stroke="#555" stroke-width="0.6"/>
<line x1="240.36" y1="419.00" x2="240.36" y2="421.20" stroke="#555" stroke-width="0.6"/>
<line x1="262.28" y1="419.00" x2="262.28" y2="421.20" stroke="#555" stroke-width="0.6"/>
<text x="185.60" y="428.60" font-size="4.8" text-anchor="middle" font-weight="normal" fill="#666">0</text>
<text x="194.63" y="428.60" font-size="4.8" text-anchor="middle" fill="#666">10<tspan font-size="2.98" dy="-2.16">2</tspan></text>
<text x="217.84" y="428.60" font-size="4.8" text-anchor="middle" fill="#666">10<tspan font-size="2.98" dy="-2.16">3</tspan></text>
<text x="240.36" y="428.60" font-size="4.8" text-anchor="middle" fill="#666">10<tspan font-size="2.98" dy="-2.16">4</tspan></text>
<text x="262.28" y="428.60" font-size="4.8" text-anchor="middle" fill="#666">10<tspan font-size="2.98" dy="-2.16">5</tspan></text>
<rect x="173.50" y="320.20" width="99.20" height="98.80" fill="none" stroke="#666" stroke-width="1.0"/>
<text x="267.80" y="331.30" font-size="10.5" text-anchor="end" font-weight="normal" fill="#2a2a2a">1.4</text>
<line x1="277.30" y1="324.20" x2="279.50" y2="324.20" stroke="#666" stroke-width="0.6"/>
<line x1="277.30" y1="343.40" x2="279.50" y2="343.40" stroke="#666" stroke-width="0.6"/>
<line x1="277.30" y1="362.60" x2="279.50" y2="362.60" stroke="#666" stroke-width="0.6"/>
<line x1="277.30" y1="381.80" x2="279.50" y2="381.80" stroke="#666" stroke-width="0.6"/>
<line x1="277.30" y1="401.00" x2="279.50" y2="401.00" stroke="#666" stroke-width="0.6"/>
<line x1="278.30" y1="322.20" x2="279.50" y2="322.20" stroke="#999" stroke-width="0.4"/>
<line x1="278.30" y1="326.00" x2="279.50" y2="326.00" stroke="#999" stroke-width="0.4"/>
<line x1="278.30" y1="329.80" x2="279.50" y2="329.80" stroke="#999" stroke-width="0.4"/>
<line x1="278.30" y1="333.60" x2="279.50" y2="333.60" stroke="#999" stroke-width="0.4"/>
<line x1="278.30" y1="337.40" x2="279.50" y2="337.40" stroke="#999" stroke-width="0.4"/>
<line x1="278.30" y1="341.20" x2="279.50" y2="341.20" stroke="#999" stroke-width="0.4"/>
<line x1="278.30" y1="345.00" x2="279.50" y2="345.00" stroke="#999" stroke-width="0.4"/>
<line x1="278.30" y1="348.80" x2="279.50" y2="348.80" stroke="#999" stroke-width="0.4"/>
<line x1="278.30" y1="352.60" x2="279.50" y2="352.60" stroke="#999" stroke-width="0.4"/>
<line x1="278.30" y1="356.40" x2="279.50" y2="356.40" stroke="#999" stroke-width="0.4"/>
<line x1="278.30" y1="360.20" x2="279.50" y2="360.20" stroke="#999" stroke-width="0.4"/>
<line x1="278.30" y1="364.00" x2="279.50" y2="364.00" stroke="#999" stroke-width="0.4"/>
<line x1="278.30" y1="367.80" x2="279.50" y2="367.80" stroke="#999" stroke-width="0.4"/>
<line x1="278.30" y1="371.60" x2="279.50" y2="371.60" stroke="#999" stroke-width="0.4"/>
<line x1="278.30" y1="375.40" x2="279.50" y2="375.40" stroke="#999" stroke-width="0.4"/>
<line x1="278.30" y1="379.20" x2="279.50" y2="379.20" stroke="#999" stroke-width="0.4"/>
<line x1="278.30" y1="383.00" x2="279.50" y2="383.00" stroke="#999" stroke-width="0.4"/>
<line x1="278.30" y1="386.80" x2="279.50" y2="386.80" stroke="#999" stroke-width="0.4"/>
<line x1="278.30" y1="390.60" x2="279.50" y2="390.60" stroke="#999" stroke-width="0.4"/>
<line x1="278.30" y1="394.40" x2="279.50" y2="394.40" stroke="#999" stroke-width="0.4"/>
<line x1="278.30" y1="398.20" x2="279.50" y2="398.20" stroke="#999" stroke-width="0.4"/>
<line x1="278.30" y1="402.00" x2="279.50" y2="402.00" stroke="#999" stroke-width="0.4"/>
<line x1="278.30" y1="405.80" x2="279.50" y2="405.80" stroke="#999" stroke-width="0.4"/>
<line x1="278.30" y1="409.60" x2="279.50" y2="409.60" stroke="#999" stroke-width="0.4"/>
<line x1="278.30" y1="413.40" x2="279.50" y2="413.40" stroke="#999" stroke-width="0.4"/>
<line x1="278.30" y1="417.20" x2="279.50" y2="417.20" stroke="#999" stroke-width="0.4"/>
<line x1="282.50" y1="419.00" x2="282.50" y2="420.20" stroke="#999" stroke-width="0.4"/>
<line x1="285.80" y1="419.00" x2="285.80" y2="420.20" stroke="#999" stroke-width="0.4"/>
<line x1="289.10" y1="419.00" x2="289.10" y2="420.20" stroke="#999" stroke-width="0.4"/>
<line x1="292.40" y1="419.00" x2="292.40" y2="420.20" stroke="#999" stroke-width="0.4"/>
<line x1="295.70" y1="419.00" x2="295.70" y2="420.20" stroke="#999" stroke-width="0.4"/>
<line x1="299.00" y1="419.00" x2="299.00" y2="420.20" stroke="#999" stroke-width="0.4"/>
<line x1="302.30" y1="419.00" x2="302.30" y2="420.20" stroke="#999" stroke-width="0.4"/>
<line x1="305.60" y1="419.00" x2="305.60" y2="420.20" stroke="#999" stroke-width="0.4"/>
<line x1="308.90" y1="419.00" x2="308.90" y2="420.20" stroke="#999" stroke-width="0.4"/>
<line x1="312.20" y1="419.00" x2="312.20" y2="420.20" stroke="#999" stroke-width="0.4"/>
<line x1="315.50" y1="419.00" x2="315.50" y2="420.20" stroke="#999" stroke-width="0.4"/>
<line x1="318.80" y1="419.00" x2="318.80" y2="420.20" stroke="#999" stroke-width="0.4"/>
<line x1="322.10" y1="419.00" x2="322.10" y2="420.20" stroke="#999" stroke-width="0.4"/>
<line x1="325.40" y1="419.00" x2="325.40" y2="420.20" stroke="#999" stroke-width="0.4"/>
<line x1="328.70" y1="419.00" x2="328.70" y2="420.20" stroke="#999" stroke-width="0.4"/>
<line x1="332.00" y1="419.00" x2="332.00" y2="420.20" stroke="#999" stroke-width="0.4"/>
<line x1="335.30" y1="419.00" x2="335.30" y2="420.20" stroke="#999" stroke-width="0.4"/>
<line x1="338.60" y1="419.00" x2="338.60" y2="420.20" stroke="#999" stroke-width="0.4"/>
<line x1="341.90" y1="419.00" x2="341.90" y2="420.20" stroke="#999" stroke-width="0.4"/>
<line x1="345.20" y1="419.00" x2="345.20" y2="420.20" stroke="#999" stroke-width="0.4"/>
<line x1="348.50" y1="419.00" x2="348.50" y2="420.20" stroke="#999" stroke-width="0.4"/>
<line x1="351.80" y1="419.00" x2="351.80" y2="420.20" stroke="#999" stroke-width="0.4"/>
<line x1="355.10" y1="419.00" x2="355.10" y2="420.20" stroke="#999" stroke-width="0.4"/>
<line x1="358.40" y1="419.00" x2="358.40" y2="420.20" stroke="#999" stroke-width="0.4"/>
<line x1="361.70" y1="419.00" x2="361.70" y2="420.20" stroke="#999" stroke-width="0.4"/>
<line x1="365.00" y1="419.00" x2="365.00" y2="420.20" stroke="#999" stroke-width="0.4"/>
<line x1="368.30" y1="419.00" x2="368.30" y2="420.20" stroke="#999" stroke-width="0.4"/>
<line x1="371.60" y1="419.00" x2="371.60" y2="420.20" stroke="#999" stroke-width="0.4"/>
<line x1="374.90" y1="419.00" x2="374.90" y2="420.20" stroke="#999" stroke-width="0.4"/>
<line x1="378.20" y1="419.00" x2="378.20" y2="420.20" stroke="#999" stroke-width="0.4"/>
<line x1="291.60" y1="419.00" x2="291.60" y2="421.20" stroke="#555" stroke-width="0.6"/>
<line x1="300.63" y1="419.00" x2="300.63" y2="421.20" stroke="#555" stroke-width="0.6"/>
<line x1="323.84" y1="419.00" x2="323.84" y2="421.20" stroke="#555" stroke-width="0.6"/>
<line x1="346.36" y1="419.00" x2="346.36" y2="421.20" stroke="#555" stroke-width="0.6"/>
<line x1="368.28" y1="419.00" x2="368.28" y2="421.20" stroke="#555" stroke-width="0.6"/>
<text x="291.60" y="428.60" font-size="4.8" text-anchor="middle" font-weight="normal" fill="#666">0</text>
<text x="300.63" y="428.60" font-size="4.8" text-anchor="middle" fill="#666">10<tspan font-size="2.98" dy="-2.16">2</tspan></text>
<text x="323.84" y="428.60" font-size="4.8" text-anchor="middle" fill="#666">10<tspan font-size="2.98" dy="-2.16">3</tspan></text>
<text x="346.36" y="428.60" font-size="4.8" text-anchor="middle" fill="#666">10<tspan font-size="2.98" dy="-2.16">4</tspan></text>
<text x="368.28" y="428.60" font-size="4.8" text-anchor="middle" fill="#666">10<tspan font-size="2.98" dy="-2.16">5</tspan></text>
<rect x="279.50" y="320.20" width="99.20" height="98.80" fill="none" stroke="#666" stroke-width="1.0"/>
<text x="281.80" y="331.30" font-size="10.5" text-anchor="start" font-weight="bold" fill="#111">6385</text>
<text x="371.80" y="331.30" font-size="10.5" text-anchor="end" font-weight="normal" fill="#2a2a2a">81</text>
<line x1="379.60" y1="324.20" x2="381.80" y2="324.20" stroke="#666" stroke-width="0.6"/>
<line x1="379.60" y1="343.40" x2="381.80" y2="343.40" stroke="#666" stroke-width="0.6"/>
<line x1="379.60" y1="362.60" x2="381.80" y2="362.60" stroke="#666" stroke-width="0.6"/>
<line x1="379.60" y1="381.80" x2="381.80" y2="381.80" stroke="#666" stroke-width="0.6"/>
<line x1="379.60" y1="401.00" x2="381.80" y2="401.00" stroke="#666" stroke-width="0.6"/>
<line x1="380.60" y1="322.20" x2="381.80" y2="322.20" stroke="#999" stroke-width="0.4"/>
<line x1="380.60" y1="326.00" x2="381.80" y2="326.00" stroke="#999" stroke-width="0.4"/>
<line x1="380.60" y1="329.80" x2="381.80" y2="329.80" stroke="#999" stroke-width="0.4"/>
<line x1="380.60" y1="333.60" x2="381.80" y2="333.60" stroke="#999" stroke-width="0.4"/>
<line x1="380.60" y1="337.40" x2="381.80" y2="337.40" stroke="#999" stroke-width="0.4"/>
<line x1="380.60" y1="341.20" x2="381.80" y2="341.20" stroke="#999" stroke-width="0.4"/>
<line x1="380.60" y1="345.00" x2="381.80" y2="345.00" stroke="#999" stroke-width="0.4"/>
<line x1="380.60" y1="348.80" x2="381.80" y2="348.80" stroke="#999" stroke-width="0.4"/>
<line x1="380.60" y1="352.60" x2="381.80" y2="352.60" stroke="#999" stroke-width="0.4"/>
<line x1="380.60" y1="356.40" x2="381.80" y2="356.40" stroke="#999" stroke-width="0.4"/>
<line x1="380.60" y1="360.20" x2="381.80" y2="360.20" stroke="#999" stroke-width="0.4"/>
<line x1="380.60" y1="364.00" x2="381.80" y2="364.00" stroke="#999" stroke-width="0.4"/>
<line x1="380.60" y1="367.80" x2="381.80" y2="367.80" stroke="#999" stroke-width="0.4"/>
<line x1="380.60" y1="371.60" x2="381.80" y2="371.60" stroke="#999" stroke-width="0.4"/>
<line x1="380.60" y1="375.40" x2="381.80" y2="375.40" stroke="#999" stroke-width="0.4"/>
<line x1="380.60" y1="379.20" x2="381.80" y2="379.20" stroke="#999" stroke-width="0.4"/>
<line x1="380.60" y1="383.00" x2="381.80" y2="383.00" stroke="#999" stroke-width="0.4"/>
<line x1="380.60" y1="386.80" x2="381.80" y2="386.80" stroke="#999" stroke-width="0.4"/>
<line x1="380.60" y1="390.60" x2="381.80" y2="390.60" stroke="#999" stroke-width="0.4"/>
<line x1="380.60" y1="394.40" x2="381.80" y2="394.40" stroke="#999" stroke-width="0.4"/>
<line x1="380.60" y1="398.20" x2="381.80" y2="398.20" stroke="#999" stroke-width="0.4"/>
<line x1="380.60" y1="402.00" x2="381.80" y2="402.00" stroke="#999" stroke-width="0.4"/>
<line x1="380.60" y1="405.80" x2="381.80" y2="405.80" stroke="#999" stroke-width="0.4"/>
<line x1="380.60" y1="409.60" x2="381.80" y2="409.60" stroke="#999" stroke-width="0.4"/>
<line x1="380.60" y1="413.40" x2="381.80" y2="413.40" stroke="#999" stroke-width="0.4"/>
<line x1="380.60" y1="417.20" x2="381.80" y2="417.20" stroke="#999" stroke-width="0.4"/>
<line x1="384.80" y1="419.00" x2="384.80" y2="420.20" stroke="#999" stroke-width="0.4"/>
<line x1="388.10" y1="419.00" x2="388.10" y2="420.20" stroke="#999" stroke-width="0.4"/>
<line x1="391.40" y1="419.00" x2="391.40" y2="420.20" stroke="#999" stroke-width="0.4"/>
<line x1="394.70" y1="419.00" x2="394.70" y2="420.20" stroke="#999" stroke-width="0.4"/>
<line x1="398.00" y1="419.00" x2="398.00" y2="420.20" stroke="#999" stroke-width="0.4"/>
<line x1="401.30" y1="419.00" x2="401.30" y2="420.20" stroke="#999" stroke-width="0.4"/>
<line x1="404.60" y1="419.00" x2="404.60" y2="420.20" stroke="#999" stroke-width="0.4"/>
<line x1="407.90" y1="419.00" x2="407.90" y2="420.20" stroke="#999" stroke-width="0.4"/>
<line x1="411.20" y1="419.00" x2="411.20" y2="420.20" stroke="#999" stroke-width="0.4"/>
<line x1="414.50" y1="419.00" x2="414.50" y2="420.20" stroke="#999" stroke-width="0.4"/>
<line x1="417.80" y1="419.00" x2="417.80" y2="420.20" stroke="#999" stroke-width="0.4"/>
<line x1="421.10" y1="419.00" x2="421.10" y2="420.20" stroke="#999" stroke-width="0.4"/>
<line x1="424.40" y1="419.00" x2="424.40" y2="420.20" stroke="#999" stroke-width="0.4"/>
<line x1="427.70" y1="419.00" x2="427.70" y2="420.20" stroke="#999" stroke-width="0.4"/>
<line x1="431.00" y1="419.00" x2="431.00" y2="420.20" stroke="#999" stroke-width="0.4"/>
<line x1="434.30" y1="419.00" x2="434.30" y2="420.20" stroke="#999" stroke-width="0.4"/>
<line x1="437.60" y1="419.00" x2="437.60" y2="420.20" stroke="#999" stroke-width="0.4"/>
<line x1="440.90" y1="419.00" x2="440.90" y2="420.20" stroke="#999" stroke-width="0.4"/>
<line x1="444.20" y1="419.00" x2="444.20" y2="420.20" stroke="#999" stroke-width="0.4"/>
<line x1="447.50" y1="419.00" x2="447.50" y2="420.20" stroke="#999" stroke-width="0.4"/>
<line x1="450.80" y1="419.00" x2="450.80" y2="420.20" stroke="#999" stroke-width="0.4"/>
<line x1="454.10" y1="419.00" x2="454.10" y2="420.20" stroke="#999" stroke-width="0.4"/>
<line x1="457.40" y1="419.00" x2="457.40" y2="420.20" stroke="#999" stroke-width="0.4"/>
<line x1="460.70" y1="419.00" x2="460.70" y2="420.20" stroke="#999" stroke-width="0.4"/>
<line x1="464.00" y1="419.00" x2="464.00" y2="420.20" stroke="#999" stroke-width="0.4"/>
<line x1="467.30" y1="419.00" x2="467.30" y2="420.20" stroke="#999" stroke-width="0.4"/>
<line x1="470.60" y1="419.00" x2="470.60" y2="420.20" stroke="#999" stroke-width="0.4"/>
<line x1="473.90" y1="419.00" x2="473.90" y2="420.20" stroke="#999" stroke-width="0.4"/>
<line x1="477.20" y1="419.00" x2="477.20" y2="420.20" stroke="#999" stroke-width="0.4"/>
<line x1="480.50" y1="419.00" x2="480.50" y2="420.20" stroke="#999" stroke-width="0.4"/>
<line x1="393.88" y1="419.00" x2="393.88" y2="421.20" stroke="#555" stroke-width="0.6"/>
<line x1="402.89" y1="419.00" x2="402.89" y2="421.20" stroke="#555" stroke-width="0.6"/>
<line x1="426.05" y1="419.00" x2="426.05" y2="421.20" stroke="#555" stroke-width="0.6"/>
<line x1="448.53" y1="419.00" x2="448.53" y2="421.20" stroke="#555" stroke-width="0.6"/>
<line x1="470.41" y1="419.00" x2="470.41" y2="421.20" stroke="#555" stroke-width="0.6"/>
<text x="393.88" y="428.60" font-size="4.8" text-anchor="middle" font-weight="normal" fill="#666">0</text>
<text x="402.89" y="428.60" font-size="4.8" text-anchor="middle" fill="#666">10<tspan font-size="2.98" dy="-2.16">2</tspan></text>
<text x="426.05" y="428.60" font-size="4.8" text-anchor="middle" fill="#666">10<tspan font-size="2.98" dy="-2.16">3</tspan></text>
<text x="448.53" y="428.60" font-size="4.8" text-anchor="middle" fill="#666">10<tspan font-size="2.98" dy="-2.16">4</tspan></text>
<text x="470.41" y="428.60" font-size="4.8" text-anchor="middle" fill="#666">10<tspan font-size="2.98" dy="-2.16">5</tspan></text>
<rect x="381.80" y="320.20" width="99.00" height="98.80" fill="none" stroke="#666" stroke-width="1.0"/>
<text x="384.10" y="331.30" font-size="10.5" text-anchor="start" font-weight="bold" fill="#111">1836</text>
<text x="479.00" y="331.30" font-size="10.5" text-anchor="end" font-weight="normal" fill="#2a2a2a">34.4</text>
<path d="M116.30,248.40 L144.10,253.10 L143.20,287.70 L141.40,308.00 L139.60,311.00 L128.90,312.80 L115.70,311.60 L113.60,308.60 Z" fill="none" stroke="#3a3a3a" stroke-width="0.8"/>
<path d="M220.00,248.40 L247.80,253.10 L246.90,287.70 L245.10,308.00 L243.30,311.00 L232.60,312.80 L219.40,311.60 L217.30,308.60 Z" fill="none" stroke="#3a3a3a" stroke-width="0.8"/>
<path d="M326.00,248.40 L353.80,253.10 L352.90,287.70 L351.10,308.00 L349.30,311.00 L338.60,312.80 L325.40,311.60 L323.30,308.60 Z" fill="none" stroke="#3a3a3a" stroke-width="0.8"/>
<path d="M428.30,248.40 L456.10,253.10 L455.20,287.70 L453.40,308.00 L451.60,311.00 L440.90,312.80 L427.70,311.60 L425.60,308.60 Z" fill="none" stroke="#3a3a3a" stroke-width="0.8"/>
<path d="M119.60,346.00 L149.60,350.40 L147.60,375.20 L146.10,405.20 L145.50,407.90 L140.00,410.20 L129.80,409.80 L119.00,409.60 L118.70,407.20 Z" fill="none" stroke="#3a3a3a" stroke-width="0.8"/>
<path d="M223.30,346.00 L253.30,350.40 L251.30,375.20 L249.80,405.20 L249.20,407.90 L243.70,410.20 L233.50,409.80 L222.70,409.60 L222.40,407.20 Z" fill="none" stroke="#3a3a3a" stroke-width="0.8"/>
<path d="M329.30,346.00 L359.30,350.40 L357.30,375.20 L355.80,405.20 L355.20,407.90 L349.70,410.20 L339.50,409.80 L328.70,409.60 L328.40,407.20 Z" fill="none" stroke="#3a3a3a" stroke-width="0.8"/>
<path d="M431.60,346.00 L461.60,350.40 L459.60,375.20 L458.10,405.20 L457.50,407.90 L452.00,410.20 L441.80,409.80 L431.00,409.60 L430.70,407.20 Z" fill="none" stroke="#3a3a3a" stroke-width="0.8"/>
<ellipse cx="130.00" cy="292.30" rx="13.00" ry="7.60" fill="none" stroke="#555" stroke-width="0.6" transform="rotate(-55 130 292.3)"/>
<ellipse cx="130.00" cy="292.30" rx="10.40" ry="6.08" fill="#e4e4e4" stroke="#666" stroke-width="0.55" transform="rotate(-55 130 292.3)"/>
<ellipse cx="130.00" cy="292.30" rx="8.58" ry="5.02" fill="#888" stroke="none" stroke-width="1" transform="rotate(-55 130 292.3)" filter="url(#b05)"/>
<ellipse cx="130.00" cy="292.30" rx="7.54" ry="4.41" fill="#1c1c1c" stroke="none" stroke-width="1" transform="rotate(-55 130 292.3)" filter="url(#b05)"/>
<ellipse cx="130.30" cy="292.30" rx="2.60" ry="1.67" fill="#777" stroke="none" stroke-width="1" transform="rotate(-55 130.3 292.3)" filter="url(#b05)"/>
<ellipse cx="130.30" cy="292.30" rx="0.80" ry="0.60" fill="#ddd" stroke="none" stroke-width="1" transform="rotate(-55 130.3 292.3)" filter="url(#b05)"/>
<ellipse cx="132.00" cy="396.80" rx="13.50" ry="8.80" fill="none" stroke="#555" stroke-width="0.6" transform="rotate(-50 132.0 396.8)"/>
<ellipse cx="132.00" cy="396.80" rx="10.80" ry="7.04" fill="#e4e4e4" stroke="#666" stroke-width="0.55" transform="rotate(-50 132.0 396.8)"/>
<ellipse cx="132.00" cy="396.80" rx="8.91" ry="5.81" fill="#888" stroke="none" stroke-width="1" transform="rotate(-50 132.0 396.8)" filter="url(#b05)"/>
<ellipse cx="132.00" cy="396.80" rx="7.83" ry="5.10" fill="#1c1c1c" stroke="none" stroke-width="1" transform="rotate(-50 132.0 396.8)" filter="url(#b05)"/>
<ellipse cx="132.30" cy="396.80" rx="2.70" ry="1.94" fill="#777" stroke="none" stroke-width="1" transform="rotate(-50 132.3 396.8)" filter="url(#b05)"/>
<ellipse cx="132.30" cy="396.80" rx="0.80" ry="0.60" fill="#ddd" stroke="none" stroke-width="1" transform="rotate(-50 132.3 396.8)" filter="url(#b05)"/>
<ellipse cx="210.00" cy="292.00" rx="11.00" ry="7.50" fill="#bbb" stroke="none" stroke-width="1" transform="rotate(0 210 292)" filter="url(#b15)"/>
<path d="M174.2,291.5 L175.8,290.9 L177.4,290.5 L179.0,290.0 L180.7,289.6 L182.3,289.1 L183.9,288.7 L185.5,288.3 L187.1,287.9 L188.8,287.5 L190.4,287.1 L192.0,286.7 L193.6,286.3 L195.2,285.9 L196.8,285.5 L198.4,285.1 L200.1,284.7 L201.7,284.4 L203.3,284.0 L204.9,283.6 L206.5,283.6 L208.1,283.8 L209.8,284.0 L211.4,284.3 L213.0,284.7 L214.6,285.2 L216.2,285.9 L217.8,286.8 L219.5,287.9 L221.1,289.5 L222.7,293.8 L222.7,293.8 L221.1,298.1 L219.5,299.7 L217.8,300.8 L216.2,301.7 L214.6,302.4 L213.0,302.9 L211.4,303.3 L209.8,303.6 L208.1,303.8 L206.5,304.0 L204.9,304.0 L203.3,303.6 L201.7,303.2 L200.1,302.9 L198.4,302.5 L196.8,302.1 L195.2,301.7 L193.6,301.3 L192.0,300.9 L190.4,300.5 L188.8,300.1 L187.1,299.7 L185.5,299.3 L183.9,298.9 L182.3,298.5 L180.7,298.0 L179.0,297.6 L177.4,297.1 L175.8,296.7 L174.2,296.1 Z" fill="none" stroke="#4a4a4a" stroke-width="0.58"/>
<path d="M182.6,292.3 L183.9,291.8 L185.1,291.4 L186.4,291.0 L187.7,290.6 L188.9,290.2 L190.2,289.8 L191.4,289.4 L192.7,289.1 L194.0,288.7 L195.2,288.4 L196.5,288.0 L197.8,287.7 L199.0,287.3 L200.3,287.0 L201.6,286.6 L202.8,286.3 L204.1,285.9 L205.3,285.6 L206.6,285.3 L207.9,285.3 L209.1,285.4 L210.4,285.6 L211.7,285.8 L212.9,286.1 L214.2,286.6 L215.5,287.1 L216.7,287.8 L218.0,288.7 L219.3,290.0 L220.5,293.3 L220.5,293.3 L219.3,296.7 L218.0,298.0 L216.7,298.9 L215.5,299.6 L214.2,300.1 L212.9,300.5 L211.7,300.8 L210.4,301.1 L209.1,301.3 L207.9,301.4 L206.6,301.4 L205.3,301.0 L204.1,300.7 L202.8,300.4 L201.6,300.0 L200.3,299.7 L199.0,299.3 L197.8,299.0 L196.5,298.6 L195.2,298.3 L194.0,297.9 L192.7,297.6 L191.4,297.2 L190.2,296.8 L188.9,296.5 L187.7,296.1 L186.4,295.7 L185.1,295.3 L183.9,294.8 L182.6,294.3 Z" fill="none" stroke="#4a4a4a" stroke-width="0.58"/>
<path d="M186.9,292.5 L188.0,292.0 L189.1,291.6 L190.2,291.3 L191.3,290.9 L192.3,290.6 L193.4,290.2 L194.5,289.9 L195.6,289.6 L196.7,289.2 L197.7,288.9 L198.8,288.6 L199.9,288.3 L201.0,288.0 L202.1,287.7 L203.2,287.3 L204.2,287.0 L205.3,286.7 L206.4,286.4 L207.5,286.1 L208.6,286.1 L209.7,286.2 L210.7,286.4 L211.8,286.6 L212.9,286.9 L214.0,287.2 L215.1,287.7 L216.1,288.3 L217.2,289.1 L218.3,290.2 L219.4,293.1 L219.4,293.1 L218.3,296.0 L217.2,297.1 L216.1,297.9 L215.1,298.5 L214.0,298.9 L212.9,299.3 L211.8,299.6 L210.7,299.8 L209.7,299.9 L208.6,300.0 L207.5,300.0 L206.4,299.7 L205.3,299.4 L204.2,299.1 L203.2,298.8 L202.1,298.5 L201.0,298.2 L199.9,297.9 L198.8,297.6 L197.7,297.2 L196.7,296.9 L195.6,296.6 L194.5,296.3 L193.4,295.9 L192.3,295.6 L191.3,295.2 L190.2,294.9 L189.1,294.5 L188.0,294.1 L186.9,293.7 Z" fill="none" stroke="#4a4a4a" stroke-width="0.58"/>
<path d="M190.4,292.5 L191.4,292.1 L192.3,291.8 L193.2,291.4 L194.2,291.1 L195.1,290.8 L196.0,290.5 L197.0,290.2 L197.9,289.9 L198.8,289.6 L199.8,289.3 L200.7,289.0 L201.7,288.7 L202.6,288.5 L203.5,288.2 L204.5,287.9 L205.4,287.6 L206.3,287.4 L207.3,287.1 L208.2,286.8 L209.1,286.8 L210.1,286.9 L211.0,287.0 L211.9,287.2 L212.9,287.5 L213.8,287.8 L214.7,288.2 L215.7,288.7 L216.6,289.4 L217.5,290.4 L218.5,292.9 L218.5,292.9 L217.5,295.4 L216.6,296.4 L215.7,297.1 L214.7,297.6 L213.8,298.0 L212.9,298.3 L211.9,298.5 L211.0,298.7 L210.1,298.9 L209.1,298.9 L208.2,299.0 L207.3,298.7 L206.3,298.4 L205.4,298.1 L204.5,297.9 L203.5,297.6 L202.6,297.3 L201.7,297.0 L200.7,296.7 L199.8,296.4 L198.8,296.2 L197.9,295.9 L197.0,295.6 L196.0,295.3 L195.1,295.0 L194.2,294.7 L193.2,294.3 L192.3,294.0 L191.4,293.7 L190.4,293.2 Z" fill="none" stroke="#4a4a4a" stroke-width="0.58"/>
<path d="M193.5,292.5 L194.3,292.1 L195.1,291.8 L195.9,291.5 L196.7,291.2 L197.5,291.0 L198.3,290.7 L199.1,290.4 L199.9,290.2 L200.8,289.9 L201.6,289.6 L202.4,289.4 L203.2,289.1 L204.0,288.9 L204.8,288.6 L205.6,288.4 L206.4,288.1 L207.2,287.9 L208.0,287.7 L208.8,287.4 L209.6,287.4 L210.4,287.5 L211.2,287.6 L212.0,287.8 L212.8,288.0 L213.7,288.3 L214.5,288.6 L215.3,289.1 L216.1,289.7 L216.9,290.5 L217.7,292.7 L217.7,292.7 L216.9,294.9 L216.1,295.8 L215.3,296.3 L214.5,296.8 L213.7,297.1 L212.8,297.4 L212.0,297.6 L211.2,297.8 L210.4,297.9 L209.6,298.0 L208.8,298.0 L208.0,297.8 L207.2,297.5 L206.4,297.3 L205.6,297.0 L204.8,296.8 L204.0,296.5 L203.2,296.3 L202.4,296.0 L201.6,295.8 L200.8,295.5 L199.9,295.3 L199.1,295.0 L198.3,294.7 L197.5,294.5 L196.7,294.2 L195.9,293.9 L195.1,293.6 L194.3,293.3 L193.5,292.9 Z" fill="none" stroke="#4a4a4a" stroke-width="0.58"/>
<path d="M196.3,292.4 L196.9,292.1 L197.6,291.8 L198.3,291.6 L199.0,291.3 L199.7,291.1 L200.4,290.8 L201.1,290.6 L201.8,290.4 L202.5,290.1 L203.2,289.9 L203.9,289.7 L204.5,289.5 L205.2,289.3 L205.9,289.0 L206.6,288.8 L207.3,288.6 L208.0,288.4 L208.7,288.2 L209.4,288.0 L210.1,288.0 L210.8,288.0 L211.4,288.1 L212.1,288.3 L212.8,288.5 L213.5,288.7 L214.2,289.0 L214.9,289.4 L215.6,289.9 L216.3,290.6 L217.0,292.6 L217.0,292.6 L216.3,294.5 L215.6,295.2 L214.9,295.7 L214.2,296.1 L213.5,296.4 L212.8,296.6 L212.1,296.8 L211.4,297.0 L210.8,297.1 L210.1,297.1 L209.4,297.1 L208.7,296.9 L208.0,296.7 L207.3,296.5 L206.6,296.3 L205.9,296.1 L205.2,295.9 L204.5,295.6 L203.9,295.4 L203.2,295.2 L202.5,295.0 L201.8,294.7 L201.1,294.5 L200.4,294.3 L199.7,294.0 L199.0,293.8 L198.3,293.5 L197.6,293.3 L196.9,293.0 L196.3,292.7 Z" fill="none" stroke="#4a4a4a" stroke-width="0.58"/>
<path d="M198.8,292.3 L199.4,292.1 L200.0,291.8 L200.6,291.6 L201.1,291.4 L201.7,291.2 L202.3,291.0 L202.9,290.8 L203.5,290.6 L204.1,290.4 L204.6,290.2 L205.2,290.0 L205.8,289.8 L206.4,289.6 L207.0,289.4 L207.6,289.2 L208.1,289.0 L208.7,288.8 L209.3,288.6 L209.9,288.5 L210.5,288.5 L211.1,288.5 L211.6,288.6 L212.2,288.7 L212.8,288.9 L213.4,289.1 L214.0,289.4 L214.6,289.7 L215.1,290.1 L215.7,290.8 L216.3,292.4 L216.3,292.4 L215.7,294.1 L215.1,294.7 L214.6,295.1 L214.0,295.4 L213.4,295.7 L212.8,295.9 L212.2,296.1 L211.6,296.2 L211.1,296.3 L210.5,296.3 L209.9,296.4 L209.3,296.2 L208.7,296.0 L208.1,295.8 L207.6,295.6 L207.0,295.4 L206.4,295.2 L205.8,295.0 L205.2,294.9 L204.6,294.7 L204.1,294.5 L203.5,294.3 L202.9,294.1 L202.3,293.9 L201.7,293.6 L201.1,293.4 L200.6,293.2 L200.0,293.0 L199.4,292.7 L198.8,292.5 Z" fill="none" stroke="#4a4a4a" stroke-width="0.58"/>
<path d="M201.2,292.2 L201.7,292.0 L202.2,291.8 L202.6,291.6 L203.1,291.4 L203.6,291.2 L204.1,291.1 L204.6,290.9 L205.1,290.7 L205.5,290.6 L206.0,290.4 L206.5,290.2 L207.0,290.1 L207.5,289.9 L208.0,289.7 L208.4,289.6 L208.9,289.4 L209.4,289.2 L209.9,289.1 L210.4,288.9 L210.9,289.0 L211.3,289.0 L211.8,289.1 L212.3,289.2 L212.8,289.3 L213.3,289.5 L213.8,289.7 L214.2,290.0 L214.7,290.4 L215.2,290.9 L215.7,292.3 L215.7,292.3 L215.2,293.7 L214.7,294.2 L214.2,294.6 L213.8,294.8 L213.3,295.1 L212.8,295.2 L212.3,295.4 L211.8,295.5 L211.3,295.6 L210.9,295.6 L210.4,295.6 L209.9,295.5 L209.4,295.3 L208.9,295.1 L208.4,295.0 L208.0,294.8 L207.5,294.7 L207.0,294.5 L206.5,294.3 L206.0,294.2 L205.5,294.0 L205.1,293.8 L204.6,293.7 L204.1,293.5 L203.6,293.3 L203.1,293.1 L202.6,292.9 L202.2,292.7 L201.7,292.5 L201.2,292.3 Z" fill="none" stroke="#4a4a4a" stroke-width="0.58"/>
<path d="M203.4,292.1 L203.8,291.9 L204.2,291.8 L204.6,291.6 L205.0,291.5 L205.4,291.3 L205.8,291.2 L206.2,291.0 L206.6,290.9 L206.9,290.7 L207.3,290.6 L207.7,290.4 L208.1,290.3 L208.5,290.2 L208.9,290.0 L209.3,289.9 L209.7,289.8 L210.0,289.6 L210.4,289.5 L210.8,289.4 L211.2,289.4 L211.6,289.4 L212.0,289.5 L212.4,289.6 L212.8,289.7 L213.2,289.8 L213.5,290.0 L213.9,290.3 L214.3,290.6 L214.7,291.0 L215.1,292.1 L215.1,292.1 L214.7,293.3 L214.3,293.7 L213.9,294.0 L213.5,294.3 L213.2,294.5 L212.8,294.6 L212.4,294.7 L212.0,294.8 L211.6,294.9 L211.2,294.9 L210.8,294.9 L210.4,294.8 L210.0,294.7 L209.7,294.5 L209.3,294.4 L208.9,294.3 L208.5,294.1 L208.1,294.0 L207.7,293.9 L207.3,293.7 L206.9,293.6 L206.6,293.4 L206.2,293.3 L205.8,293.1 L205.4,293.0 L205.0,292.8 L204.6,292.7 L204.2,292.5 L203.8,292.4 L203.4,292.2 Z" fill="none" stroke="#4a4a4a" stroke-width="0.58"/>
<path d="M205.6,292.0 L205.9,291.9 L206.2,291.7 L206.5,291.6 L206.8,291.5 L207.1,291.4 L207.4,291.2 L207.7,291.1 L208.0,291.0 L208.3,290.9 L208.6,290.8 L208.9,290.7 L209.2,290.5 L209.5,290.4 L209.8,290.3 L210.1,290.2 L210.4,290.1 L210.7,290.0 L211.0,289.9 L211.3,289.8 L211.6,289.8 L211.9,289.8 L212.2,289.9 L212.5,290.0 L212.8,290.1 L213.1,290.2 L213.3,290.3 L213.6,290.5 L213.9,290.8 L214.2,291.1 L214.5,292.0 L214.5,292.0 L214.2,292.9 L213.9,293.3 L213.6,293.5 L213.3,293.7 L213.1,293.9 L212.8,294.0 L212.5,294.1 L212.2,294.2 L211.9,294.2 L211.6,294.2 L211.3,294.2 L211.0,294.2 L210.7,294.1 L210.4,293.9 L210.1,293.8 L209.8,293.7 L209.5,293.6 L209.2,293.5 L208.9,293.4 L208.6,293.3 L208.3,293.2 L208.0,293.1 L207.7,292.9 L207.4,292.8 L207.1,292.7 L206.8,292.6 L206.5,292.5 L206.2,292.3 L205.9,292.2 L205.6,292.0 Z" fill="none" stroke="#4a4a4a" stroke-width="0.58"/>
<path d="M207.6,291.9 L207.8,291.8 L208.1,291.7 L208.3,291.6 L208.5,291.5 L208.7,291.4 L208.9,291.3 L209.1,291.2 L209.3,291.1 L209.5,291.0 L209.8,290.9 L210.0,290.9 L210.2,290.8 L210.4,290.7 L210.6,290.6 L210.8,290.5 L211.0,290.4 L211.2,290.4 L211.5,290.3 L211.7,290.2 L211.9,290.2 L212.1,290.2 L212.3,290.3 L212.5,290.3 L212.7,290.4 L212.9,290.5 L213.2,290.6 L213.4,290.8 L213.6,290.9 L213.8,291.2 L214.0,291.9 L214.0,291.9 L213.8,292.6 L213.6,292.9 L213.4,293.1 L213.2,293.2 L212.9,293.3 L212.7,293.4 L212.5,293.5 L212.3,293.5 L212.1,293.6 L211.9,293.6 L211.7,293.6 L211.5,293.6 L211.2,293.5 L211.0,293.4 L210.8,293.3 L210.6,293.2 L210.4,293.1 L210.2,293.1 L210.0,293.0 L209.8,292.9 L209.5,292.8 L209.3,292.7 L209.1,292.6 L208.9,292.5 L208.7,292.4 L208.5,292.3 L208.3,292.2 L208.1,292.1 L207.8,292.0 L207.6,291.9 Z" fill="none" stroke="#4a4a4a" stroke-width="0.58"/>
<path d="M209.6,291.8 L209.7,291.7 L209.9,291.6 L210.0,291.6 L210.1,291.5 L210.2,291.4 L210.4,291.4 L210.5,291.3 L210.6,291.2 L210.8,291.2 L210.9,291.1 L211.0,291.0 L211.2,291.0 L211.3,290.9 L211.4,290.9 L211.6,290.8 L211.7,290.7 L211.8,290.7 L211.9,290.6 L212.1,290.6 L212.2,290.6 L212.3,290.6 L212.5,290.7 L212.6,290.7 L212.7,290.7 L212.8,290.8 L213.0,290.9 L213.1,291.0 L213.2,291.1 L213.4,291.3 L213.5,291.8 L213.5,291.8 L213.4,292.3 L213.2,292.5 L213.1,292.6 L213.0,292.7 L212.8,292.8 L212.7,292.9 L212.6,292.9 L212.5,292.9 L212.3,293.0 L212.2,293.0 L212.1,293.0 L211.9,293.0 L211.8,292.9 L211.7,292.9 L211.6,292.8 L211.4,292.7 L211.3,292.7 L211.2,292.6 L211.0,292.6 L210.9,292.5 L210.8,292.4 L210.6,292.4 L210.5,292.3 L210.4,292.2 L210.2,292.2 L210.1,292.1 L210.0,292.0 L209.9,292.0 L209.7,291.9 L209.6,291.8 Z" fill="none" stroke="#4a4a4a" stroke-width="0.58"/>
<ellipse cx="211.50" cy="292.00" rx="8.50" ry="6.00" fill="#2e2e2e" stroke="none" stroke-width="1" transform="rotate(0 211.5 292)" filter="url(#b1)"/>
<ellipse cx="216.00" cy="288.00" rx="3.00" ry="1.60" fill="#111" stroke="none" stroke-width="1" filter="url(#b1)"/>
<ellipse cx="211.00" cy="296.00" rx="3.50" ry="1.60" fill="#111" stroke="none" stroke-width="1" filter="url(#b1)"/>
<ellipse cx="219.00" cy="293.00" rx="1.50" ry="2.50" fill="#222" stroke="none" stroke-width="1" filter="url(#b1)"/>
<ellipse cx="213.50" cy="292.60" rx="1.30" ry="0.70" fill="#ccc" stroke="none" stroke-width="1" filter="url(#b05)"/>
<ellipse cx="212.00" cy="396.00" rx="12.00" ry="8.50" fill="#bbb" stroke="none" stroke-width="1" transform="rotate(0 212 396)" filter="url(#b15)"/>
<path d="M174.2,392.4 L175.9,391.8 L177.7,391.3 L179.4,390.9 L181.1,390.6 L182.9,390.3 L184.6,389.9 L186.3,389.6 L188.1,389.4 L189.8,389.1 L191.5,388.8 L193.3,388.5 L195.0,388.3 L196.7,388.0 L198.5,387.8 L200.2,387.5 L201.9,387.3 L203.7,387.0 L205.4,386.8 L207.1,386.6 L208.9,386.3 L210.6,386.2 L212.3,386.3 L214.1,386.6 L215.8,386.9 L217.5,387.5 L219.3,388.2 L221.0,389.2 L222.7,390.5 L224.5,392.4 L226.2,397.4 L226.2,397.4 L224.5,402.4 L222.7,404.3 L221.0,405.6 L219.3,406.6 L217.5,407.3 L215.8,407.9 L214.1,408.2 L212.3,408.5 L210.6,408.6 L208.9,408.5 L207.1,408.2 L205.4,408.0 L203.7,407.8 L201.9,407.5 L200.2,407.3 L198.5,407.0 L196.7,406.8 L195.0,406.5 L193.3,406.3 L191.5,406.0 L189.8,405.7 L188.1,405.4 L186.3,405.2 L184.6,404.9 L182.9,404.5 L181.1,404.2 L179.4,403.9 L177.7,403.5 L175.9,403.0 L174.2,402.4 Z" fill="none" stroke="#4a4a4a" stroke-width="0.58"/>
<path d="M183.0,394.8 L184.4,394.2 L185.7,393.7 L187.1,393.3 L188.5,392.9 L189.8,392.6 L191.2,392.2 L192.5,391.9 L193.9,391.6 L195.2,391.3 L196.6,391.0 L197.9,390.7 L199.3,390.4 L200.6,390.2 L202.0,389.9 L203.4,389.6 L204.7,389.4 L206.1,389.1 L207.4,388.9 L208.8,388.6 L210.1,388.4 L211.5,388.2 L212.8,388.3 L214.2,388.5 L215.6,388.8 L216.9,389.3 L218.3,389.8 L219.6,390.6 L221.0,391.6 L222.3,393.1 L223.7,397.1 L223.7,397.1 L222.3,401.0 L221.0,402.5 L219.6,403.5 L218.3,404.3 L216.9,404.9 L215.6,405.3 L214.2,405.6 L212.8,405.8 L211.5,405.9 L210.1,405.8 L208.8,405.5 L207.4,405.3 L206.1,405.0 L204.7,404.8 L203.4,404.5 L202.0,404.2 L200.6,404.0 L199.3,403.7 L197.9,403.4 L196.6,403.1 L195.2,402.8 L193.9,402.5 L192.5,402.2 L191.2,401.9 L189.8,401.6 L188.5,401.2 L187.1,400.8 L185.7,400.4 L184.4,400.0 L183.0,399.3 Z" fill="none" stroke="#4a4a4a" stroke-width="0.58"/>
<path d="M187.6,395.6 L188.8,394.9 L189.9,394.5 L191.1,394.1 L192.2,393.7 L193.4,393.4 L194.5,393.1 L195.7,392.8 L196.9,392.5 L198.0,392.2 L199.2,391.9 L200.3,391.6 L201.5,391.4 L202.7,391.1 L203.8,390.9 L205.0,390.6 L206.1,390.4 L207.3,390.1 L208.5,389.9 L209.6,389.7 L210.8,389.4 L211.9,389.3 L213.1,389.4 L214.3,389.6 L215.4,389.8 L216.6,390.2 L217.7,390.7 L218.9,391.3 L220.1,392.2 L221.2,393.5 L222.4,396.9 L222.4,396.9 L221.2,400.3 L220.1,401.6 L218.9,402.5 L217.7,403.1 L216.6,403.6 L215.4,404.0 L214.3,404.2 L213.1,404.4 L211.9,404.5 L210.8,404.4 L209.6,404.1 L208.5,403.9 L207.3,403.7 L206.1,403.4 L205.0,403.2 L203.8,402.9 L202.7,402.7 L201.5,402.4 L200.3,402.1 L199.2,401.9 L198.0,401.6 L196.9,401.3 L195.7,401.0 L194.5,400.7 L193.4,400.4 L192.2,400.1 L191.1,399.7 L189.9,399.3 L188.8,398.9 L187.6,398.2 Z" fill="none" stroke="#4a4a4a" stroke-width="0.58"/>
<path d="M191.3,396.0 L192.3,395.4 L193.3,394.9 L194.3,394.6 L195.3,394.3 L196.3,393.9 L197.3,393.6 L198.3,393.4 L199.3,393.1 L200.3,392.8 L201.3,392.6 L202.3,392.3 L203.3,392.1 L204.3,391.8 L205.3,391.6 L206.3,391.4 L207.3,391.1 L208.3,390.9 L209.3,390.7 L210.3,390.5 L211.3,390.3 L212.3,390.2 L213.3,390.2 L214.3,390.4 L215.3,390.6 L216.3,390.9 L217.3,391.4 L218.3,391.9 L219.3,392.7 L220.3,393.8 L221.3,396.8 L221.3,396.8 L220.3,399.7 L219.3,400.8 L218.3,401.6 L217.3,402.2 L216.3,402.6 L215.3,402.9 L214.3,403.1 L213.3,403.3 L212.3,403.4 L211.3,403.3 L210.3,403.0 L209.3,402.8 L208.3,402.6 L207.3,402.4 L206.3,402.2 L205.3,401.9 L204.3,401.7 L203.3,401.4 L202.3,401.2 L201.3,400.9 L200.3,400.7 L199.3,400.4 L198.3,400.1 L197.3,399.9 L196.3,399.6 L195.3,399.3 L194.3,398.9 L193.3,398.6 L192.3,398.2 L191.3,397.6 Z" fill="none" stroke="#4a4a4a" stroke-width="0.58"/>
<path d="M194.5,396.2 L195.4,395.6 L196.2,395.2 L197.1,394.9 L198.0,394.6 L198.8,394.3 L199.7,394.1 L200.5,393.8 L201.4,393.6 L202.3,393.3 L203.1,393.1 L204.0,392.9 L204.9,392.6 L205.7,392.4 L206.6,392.2 L207.5,392.0 L208.3,391.8 L209.2,391.6 L210.1,391.4 L210.9,391.2 L211.8,391.0 L212.6,390.9 L213.5,391.0 L214.4,391.1 L215.2,391.3 L216.1,391.6 L217.0,392.0 L217.8,392.5 L218.7,393.1 L219.6,394.1 L220.4,396.6 L220.4,396.6 L219.6,399.2 L218.7,400.2 L217.8,400.8 L217.0,401.3 L216.1,401.7 L215.2,402.0 L214.4,402.2 L213.5,402.3 L212.6,402.4 L211.8,402.3 L210.9,402.1 L210.1,401.9 L209.2,401.7 L208.3,401.5 L207.5,401.3 L206.6,401.1 L205.7,400.9 L204.9,400.6 L204.0,400.4 L203.1,400.2 L202.3,400.0 L201.4,399.7 L200.5,399.5 L199.7,399.2 L198.8,398.9 L198.0,398.7 L197.1,398.4 L196.2,398.0 L195.4,397.7 L194.5,397.1 Z" fill="none" stroke="#4a4a4a" stroke-width="0.58"/>
<path d="M197.4,396.3 L198.1,395.8 L198.9,395.4 L199.6,395.1 L200.4,394.9 L201.1,394.6 L201.8,394.4 L202.6,394.2 L203.3,393.9 L204.1,393.7 L204.8,393.5 L205.5,393.3 L206.3,393.1 L207.0,392.9 L207.8,392.7 L208.5,392.5 L209.2,392.3 L210.0,392.2 L210.7,392.0 L211.5,391.8 L212.2,391.6 L212.9,391.6 L213.7,391.6 L214.4,391.7 L215.2,391.9 L215.9,392.2 L216.6,392.5 L217.4,392.9 L218.1,393.5 L218.9,394.3 L219.6,396.5 L219.6,396.5 L218.9,398.7 L218.1,399.6 L217.4,400.1 L216.6,400.6 L215.9,400.9 L215.2,401.1 L214.4,401.3 L213.7,401.4 L212.9,401.5 L212.2,401.4 L211.5,401.3 L210.7,401.1 L210.0,400.9 L209.2,400.7 L208.5,400.5 L207.8,400.3 L207.0,400.1 L206.3,400.0 L205.5,399.8 L204.8,399.5 L204.1,399.3 L203.3,399.1 L202.6,398.9 L201.8,398.7 L201.1,398.4 L200.4,398.2 L199.6,397.9 L198.9,397.6 L198.1,397.3 L197.4,396.8 Z" fill="none" stroke="#4a4a4a" stroke-width="0.58"/>
<path d="M200.1,396.3 L200.7,395.9 L201.3,395.6 L202.0,395.3 L202.6,395.1 L203.2,394.8 L203.8,394.6 L204.5,394.4 L205.1,394.2 L205.7,394.1 L206.3,393.9 L207.0,393.7 L207.6,393.5 L208.2,393.3 L208.8,393.2 L209.5,393.0 L210.1,392.9 L210.7,392.7 L211.3,392.5 L212.0,392.4 L212.6,392.2 L213.2,392.2 L213.8,392.2 L214.5,392.3 L215.1,392.5 L215.7,392.7 L216.3,393.0 L217.0,393.4 L217.6,393.8 L218.2,394.5 L218.8,396.4 L218.8,396.4 L218.2,398.3 L217.6,399.0 L217.0,399.5 L216.3,399.9 L215.7,400.1 L215.1,400.4 L214.5,400.5 L213.8,400.6 L213.2,400.7 L212.6,400.6 L212.0,400.5 L211.3,400.3 L210.7,400.2 L210.1,400.0 L209.5,399.8 L208.8,399.7 L208.2,399.5 L207.6,399.3 L207.0,399.2 L206.3,399.0 L205.7,398.8 L205.1,398.6 L204.5,398.4 L203.8,398.2 L203.2,398.0 L202.6,397.8 L202.0,397.5 L201.3,397.3 L200.7,397.0 L200.1,396.6 Z" fill="none" stroke="#4a4a4a" stroke-width="0.58"/>
<path d="M202.6,396.3 L203.1,395.9 L203.6,395.6 L204.1,395.4 L204.7,395.2 L205.2,395.0 L205.7,394.9 L206.2,394.7 L206.7,394.5 L207.3,394.4 L207.8,394.2 L208.3,394.0 L208.8,393.9 L209.3,393.7 L209.8,393.6 L210.4,393.5 L210.9,393.3 L211.4,393.2 L211.9,393.0 L212.4,392.9 L212.9,392.8 L213.5,392.8 L214.0,392.8 L214.5,392.9 L215.0,393.0 L215.5,393.2 L216.0,393.5 L216.6,393.8 L217.1,394.2 L217.6,394.8 L218.1,396.3 L218.1,396.3 L217.6,397.9 L217.1,398.5 L216.6,398.9 L216.0,399.2 L215.5,399.5 L215.0,399.6 L214.5,399.8 L214.0,399.8 L213.5,399.9 L212.9,399.9 L212.4,399.7 L211.9,399.6 L211.4,399.5 L210.9,399.3 L210.4,399.2 L209.8,399.1 L209.3,398.9 L208.8,398.8 L208.3,398.6 L207.8,398.5 L207.3,398.3 L206.7,398.2 L206.2,398.0 L205.7,397.8 L205.2,397.6 L204.7,397.4 L204.1,397.2 L203.6,397.0 L203.1,396.8 L202.6,396.4 Z" fill="none" stroke="#4a4a4a" stroke-width="0.58"/>
<path d="M205.0,396.2 L205.4,395.9 L205.8,395.7 L206.2,395.5 L206.6,395.3 L207.0,395.2 L207.5,395.0 L207.9,394.9 L208.3,394.8 L208.7,394.6 L209.1,394.5 L209.5,394.4 L210.0,394.2 L210.4,394.1 L210.8,394.0 L211.2,393.9 L211.6,393.8 L212.0,393.6 L212.5,393.5 L212.9,393.4 L213.3,393.3 L213.7,393.3 L214.1,393.4 L214.5,393.4 L214.9,393.5 L215.4,393.7 L215.8,393.9 L216.2,394.1 L216.6,394.5 L217.0,395.0 L217.4,396.2 L217.4,396.2 L217.0,397.5 L216.6,398.0 L216.2,398.3 L215.8,398.6 L215.4,398.8 L214.9,398.9 L214.5,399.1 L214.1,399.1 L213.7,399.2 L213.3,399.2 L212.9,399.1 L212.5,399.0 L212.0,398.8 L211.6,398.7 L211.2,398.6 L210.8,398.5 L210.4,398.4 L210.0,398.3 L209.5,398.1 L209.1,398.0 L208.7,397.9 L208.3,397.7 L207.9,397.6 L207.5,397.4 L207.0,397.3 L206.6,397.1 L206.2,397.0 L205.8,396.8 L205.4,396.6 L205.0,396.3 Z" fill="none" stroke="#4a4a4a" stroke-width="0.58"/>
<path d="M207.2,396.2 L207.5,395.9 L207.9,395.7 L208.2,395.6 L208.5,395.5 L208.8,395.3 L209.1,395.2 L209.5,395.1 L209.8,395.0 L210.1,394.9 L210.4,394.8 L210.7,394.7 L211.1,394.6 L211.4,394.5 L211.7,394.4 L212.0,394.3 L212.3,394.2 L212.6,394.1 L213.0,394.0 L213.3,393.9 L213.6,393.8 L213.9,393.8 L214.2,393.9 L214.6,393.9 L214.9,394.0 L215.2,394.1 L215.5,394.3 L215.8,394.5 L216.2,394.8 L216.5,395.2 L216.8,396.2 L216.8,396.2 L216.5,397.2 L216.2,397.5 L215.8,397.8 L215.5,398.0 L215.2,398.2 L214.9,398.3 L214.6,398.4 L214.2,398.4 L213.9,398.5 L213.6,398.5 L213.3,398.4 L213.0,398.3 L212.6,398.2 L212.3,398.1 L212.0,398.1 L211.7,398.0 L211.4,397.9 L211.1,397.8 L210.7,397.7 L210.4,397.6 L210.1,397.5 L209.8,397.3 L209.5,397.2 L209.1,397.1 L208.8,397.0 L208.5,396.9 L208.2,396.7 L207.9,396.6 L207.5,396.4 L207.2,396.2 Z" fill="none" stroke="#4a4a4a" stroke-width="0.58"/>
<path d="M209.4,396.1 L209.6,395.9 L209.8,395.8 L210.1,395.6 L210.3,395.5 L210.5,395.4 L210.7,395.3 L211.0,395.3 L211.2,395.2 L211.4,395.1 L211.6,395.0 L211.9,394.9 L212.1,394.9 L212.3,394.8 L212.6,394.7 L212.8,394.6 L213.0,394.6 L213.2,394.5 L213.5,394.4 L213.7,394.3 L213.9,394.3 L214.1,394.3 L214.4,394.4 L214.6,394.4 L214.8,394.5 L215.1,394.6 L215.3,394.7 L215.5,394.9 L215.7,395.1 L216.0,395.3 L216.2,396.1 L216.2,396.1 L216.0,396.8 L215.7,397.1 L215.5,397.3 L215.3,397.5 L215.1,397.6 L214.8,397.7 L214.6,397.7 L214.4,397.8 L214.1,397.8 L213.9,397.8 L213.7,397.8 L213.5,397.7 L213.2,397.7 L213.0,397.6 L212.8,397.5 L212.6,397.5 L212.3,397.4 L212.1,397.3 L211.9,397.2 L211.6,397.1 L211.4,397.1 L211.2,397.0 L211.0,396.9 L210.7,396.8 L210.5,396.7 L210.3,396.6 L210.1,396.5 L209.8,396.4 L209.6,396.3 L209.4,396.1 Z" fill="none" stroke="#4a4a4a" stroke-width="0.58"/>
<path d="M211.4,396.0 L211.6,395.9 L211.7,395.8 L211.9,395.7 L212.0,395.6 L212.1,395.5 L212.3,395.5 L212.4,395.4 L212.5,395.4 L212.7,395.3 L212.8,395.2 L213.0,395.2 L213.1,395.1 L213.2,395.1 L213.4,395.0 L213.5,395.0 L213.7,394.9 L213.8,394.9 L213.9,394.8 L214.1,394.8 L214.2,394.8 L214.4,394.8 L214.5,394.9 L214.6,394.9 L214.8,394.9 L214.9,395.0 L215.0,395.1 L215.2,395.2 L215.3,395.3 L215.5,395.5 L215.6,396.0 L215.6,396.0 L215.5,396.5 L215.3,396.7 L215.2,396.8 L215.0,396.9 L214.9,397.0 L214.8,397.1 L214.6,397.1 L214.5,397.1 L214.4,397.2 L214.2,397.2 L214.1,397.2 L213.9,397.2 L213.8,397.1 L213.7,397.1 L213.5,397.0 L213.4,397.0 L213.2,396.9 L213.1,396.9 L213.0,396.8 L212.8,396.8 L212.7,396.7 L212.5,396.6 L212.4,396.6 L212.3,396.5 L212.1,396.5 L212.0,396.4 L211.9,396.3 L211.7,396.2 L211.6,396.1 L211.4,396.0 Z" fill="none" stroke="#4a4a4a" stroke-width="0.58"/>
<ellipse cx="177.50" cy="398.00" rx="2.80" ry="2.60" fill="none" stroke="#666" stroke-width="0.5"/>
<ellipse cx="213.00" cy="396.00" rx="9.50" ry="6.50" fill="#2e2e2e" stroke="none" stroke-width="1" transform="rotate(0 213 396)" filter="url(#b1)"/>
<ellipse cx="214.00" cy="392.50" rx="4.50" ry="1.50" fill="#111" stroke="none" stroke-width="1" filter="url(#b1)"/>
<ellipse cx="214.00" cy="399.50" rx="4.50" ry="1.60" fill="#111" stroke="none" stroke-width="1" filter="url(#b1)"/>
<ellipse cx="220.00" cy="395.00" rx="1.50" ry="2.50" fill="#222" stroke="none" stroke-width="1" filter="url(#b1)"/>
<ellipse cx="215.00" cy="396.00" rx="1.60" ry="0.60" fill="#ccc" stroke="none" stroke-width="1" filter="url(#b05)"/>
<path d="M288.4,294.9 C296,289 305,282 316,281.4 C323,281.2 326,285.5 329.4,286 C333,284 336,278 343,278 C349,278 352,284 351.5,290 C351,297 346,301.6 340,301.6 C334,301.6 332,298.5 329.4,298 C324,300 320,302.3 314,302.3 C303,302 294,298 288.4,294.9 Z" fill="none" stroke="#5a5a5a" stroke-width="0.5"/>
<ellipse cx="316.00" cy="291.50" rx="8.00" ry="5.00" fill="#bbb" stroke="none" stroke-width="1" transform="rotate(0 316 291.5)" filter="url(#b15)"/>
<path d="M292.0,293.5 L293.2,292.6 L294.4,291.9 L295.6,291.2 L296.8,290.7 L298.0,290.1 L299.2,289.6 L300.4,289.1 L301.6,288.6 L302.8,288.1 L304.0,287.6 L305.2,287.1 L306.4,286.7 L307.6,286.2 L308.8,285.8 L310.0,285.3 L311.2,284.9 L312.4,284.5 L313.6,284.0 L314.8,283.9 L316.0,284.0 L317.2,284.2 L318.4,284.4 L319.6,284.7 L320.8,285.1 L322.0,285.6 L323.2,286.3 L324.4,287.1 L325.6,288.1 L326.8,289.6 L328.0,293.5 L328.0,293.5 L326.8,297.4 L325.6,298.9 L324.4,299.9 L323.2,300.7 L322.0,301.4 L320.8,301.9 L319.6,302.3 L318.4,302.6 L317.2,302.8 L316.0,303.0 L314.8,303.1 L313.6,303.0 L312.4,302.5 L311.2,302.1 L310.0,301.7 L308.8,301.2 L307.6,300.8 L306.4,300.3 L305.2,299.9 L304.0,299.4 L302.8,298.9 L301.6,298.4 L300.4,297.9 L299.2,297.4 L298.0,296.9 L296.8,296.3 L295.6,295.8 L294.4,295.1 L293.2,294.4 L292.0,293.5 Z" fill="none" stroke="#4a4a4a" stroke-width="0.58"/>
<path d="M297.5,293.0 L298.5,292.3 L299.4,291.7 L300.3,291.2 L301.2,290.8 L302.2,290.4 L303.1,290.0 L304.0,289.6 L304.9,289.2 L305.9,288.8 L306.8,288.4 L307.7,288.1 L308.6,287.7 L309.6,287.3 L310.5,287.0 L311.4,286.7 L312.3,286.3 L313.3,286.0 L314.2,285.7 L315.1,285.6 L316.0,285.6 L317.0,285.8 L317.9,285.9 L318.8,286.2 L319.7,286.5 L320.7,286.9 L321.6,287.4 L322.5,288.0 L323.4,288.8 L324.4,290.0 L325.3,293.0 L325.3,293.0 L324.4,296.0 L323.4,297.2 L322.5,298.0 L321.6,298.6 L320.7,299.1 L319.7,299.5 L318.8,299.8 L317.9,300.1 L317.0,300.2 L316.0,300.4 L315.1,300.4 L314.2,300.3 L313.3,300.0 L312.3,299.7 L311.4,299.3 L310.5,299.0 L309.6,298.6 L308.6,298.3 L307.7,297.9 L306.8,297.6 L305.9,297.2 L304.9,296.8 L304.0,296.4 L303.1,296.0 L302.2,295.6 L301.2,295.2 L300.3,294.7 L299.4,294.3 L298.5,293.7 L297.5,293.0 Z" fill="none" stroke="#4a4a4a" stroke-width="0.58"/>
<path d="M300.4,292.7 L301.2,292.1 L302.0,291.7 L302.8,291.3 L303.5,290.9 L304.3,290.5 L305.1,290.2 L305.9,289.8 L306.7,289.5 L307.5,289.2 L308.2,288.8 L309.0,288.5 L309.8,288.2 L310.6,287.9 L311.4,287.6 L312.1,287.4 L312.9,287.1 L313.7,286.8 L314.5,286.5 L315.3,286.4 L316.1,286.5 L316.8,286.6 L317.6,286.7 L318.4,286.9 L319.2,287.2 L320.0,287.5 L320.8,288.0 L321.5,288.5 L322.3,289.2 L323.1,290.2 L323.9,292.7 L323.9,292.7 L323.1,295.3 L322.3,296.3 L321.5,297.0 L320.8,297.5 L320.0,297.9 L319.2,298.3 L318.4,298.5 L317.6,298.7 L316.8,298.9 L316.1,299.0 L315.3,299.1 L314.5,299.0 L313.7,298.7 L312.9,298.4 L312.1,298.1 L311.4,297.8 L310.6,297.5 L309.8,297.2 L309.0,296.9 L308.2,296.6 L307.5,296.3 L306.7,296.0 L305.9,295.7 L305.1,295.3 L304.3,295.0 L303.5,294.6 L302.8,294.2 L302.0,293.8 L301.2,293.4 L300.4,292.7 Z" fill="none" stroke="#4a4a4a" stroke-width="0.58"/>
<path d="M302.7,292.5 L303.4,292.0 L304.1,291.6 L304.7,291.3 L305.4,290.9 L306.1,290.6 L306.7,290.3 L307.4,290.0 L308.1,289.7 L308.7,289.5 L309.4,289.2 L310.1,288.9 L310.7,288.7 L311.4,288.4 L312.1,288.2 L312.7,287.9 L313.4,287.7 L314.1,287.4 L314.7,287.2 L315.4,287.1 L316.1,287.2 L316.7,287.2 L317.4,287.4 L318.1,287.6 L318.7,287.8 L319.4,288.1 L320.1,288.4 L320.8,288.9 L321.4,289.5 L322.1,290.3 L322.8,292.5 L322.8,292.5 L322.1,294.7 L321.4,295.6 L320.8,296.2 L320.1,296.6 L319.4,297.0 L318.7,297.3 L318.1,297.5 L317.4,297.7 L316.7,297.8 L316.1,297.9 L315.4,297.9 L314.7,297.9 L314.1,297.6 L313.4,297.4 L312.7,297.1 L312.1,296.9 L311.4,296.6 L310.7,296.4 L310.1,296.1 L309.4,295.9 L308.7,295.6 L308.1,295.3 L307.4,295.0 L306.7,294.7 L306.1,294.4 L305.4,294.1 L304.7,293.8 L304.1,293.5 L303.4,293.1 L302.7,292.5 Z" fill="none" stroke="#4a4a4a" stroke-width="0.58"/>
<path d="M304.7,292.3 L305.3,291.9 L305.9,291.6 L306.4,291.3 L307.0,291.0 L307.6,290.7 L308.1,290.4 L308.7,290.2 L309.3,290.0 L309.8,289.7 L310.4,289.5 L311.0,289.3 L311.6,289.0 L312.1,288.8 L312.7,288.6 L313.3,288.4 L313.8,288.2 L314.4,288.0 L315.0,287.8 L315.5,287.7 L316.1,287.8 L316.7,287.8 L317.2,287.9 L317.8,288.1 L318.4,288.3 L318.9,288.5 L319.5,288.8 L320.1,289.2 L320.6,289.7 L321.2,290.5 L321.8,292.3 L321.8,292.3 L321.2,294.2 L320.6,294.9 L320.1,295.5 L319.5,295.8 L318.9,296.2 L318.4,296.4 L317.8,296.6 L317.2,296.7 L316.7,296.9 L316.1,296.9 L315.5,297.0 L315.0,296.9 L314.4,296.7 L313.8,296.5 L313.3,296.3 L312.7,296.1 L312.1,295.9 L311.6,295.6 L311.0,295.4 L310.4,295.2 L309.8,295.0 L309.3,294.7 L308.7,294.5 L308.1,294.2 L307.6,294.0 L307.0,293.7 L306.4,293.4 L305.9,293.1 L305.3,292.8 L304.7,292.3 Z" fill="none" stroke="#4a4a4a" stroke-width="0.58"/>
<path d="M306.6,292.2 L307.0,291.8 L307.5,291.5 L308.0,291.3 L308.5,291.0 L309.0,290.8 L309.4,290.6 L309.9,290.4 L310.4,290.2 L310.9,290.0 L311.3,289.8 L311.8,289.6 L312.3,289.4 L312.8,289.2 L313.2,289.0 L313.7,288.8 L314.2,288.7 L314.7,288.5 L315.2,288.3 L315.6,288.3 L316.1,288.3 L316.6,288.4 L317.1,288.5 L317.5,288.6 L318.0,288.7 L318.5,289.0 L319.0,289.2 L319.4,289.6 L319.9,290.0 L320.4,290.6 L320.9,292.2 L320.9,292.2 L320.4,293.8 L319.9,294.4 L319.4,294.8 L319.0,295.1 L318.5,295.4 L318.0,295.6 L317.5,295.8 L317.1,295.9 L316.6,296.0 L316.1,296.1 L315.6,296.1 L315.2,296.0 L314.7,295.9 L314.2,295.7 L313.7,295.5 L313.2,295.3 L312.8,295.2 L312.3,295.0 L311.8,294.8 L311.3,294.6 L310.9,294.4 L310.4,294.2 L309.9,294.0 L309.4,293.8 L309.0,293.6 L308.5,293.3 L308.0,293.1 L307.5,292.8 L307.0,292.6 L306.6,292.2 Z" fill="none" stroke="#4a4a4a" stroke-width="0.58"/>
<path d="M308.3,292.0 L308.6,291.7 L309.0,291.5 L309.4,291.3 L309.8,291.1 L310.2,290.9 L310.6,290.7 L311.0,290.5 L311.4,290.3 L311.8,290.2 L312.2,290.0 L312.6,289.9 L313.0,289.7 L313.4,289.5 L313.8,289.4 L314.2,289.2 L314.5,289.1 L314.9,289.0 L315.3,288.8 L315.7,288.8 L316.1,288.8 L316.5,288.8 L316.9,288.9 L317.3,289.0 L317.7,289.2 L318.1,289.3 L318.5,289.6 L318.9,289.8 L319.3,290.2 L319.7,290.7 L320.1,292.0 L320.1,292.0 L319.7,293.4 L319.3,293.9 L318.9,294.2 L318.5,294.5 L318.1,294.7 L317.7,294.9 L317.3,295.0 L316.9,295.1 L316.5,295.2 L316.1,295.3 L315.7,295.3 L315.3,295.2 L314.9,295.1 L314.5,295.0 L314.2,294.8 L313.8,294.7 L313.4,294.5 L313.0,294.4 L312.6,294.2 L312.2,294.0 L311.8,293.9 L311.4,293.7 L311.0,293.5 L310.6,293.4 L310.2,293.2 L309.8,293.0 L309.4,292.8 L309.0,292.6 L308.6,292.3 L308.3,292.0 Z" fill="none" stroke="#4a4a4a" stroke-width="0.58"/>
<path d="M309.8,291.9 L310.1,291.6 L310.5,291.4 L310.8,291.3 L311.1,291.1 L311.4,290.9 L311.7,290.8 L312.0,290.7 L312.3,290.5 L312.7,290.4 L313.0,290.3 L313.3,290.1 L313.6,290.0 L313.9,289.9 L314.2,289.7 L314.6,289.6 L314.9,289.5 L315.2,289.4 L315.5,289.3 L315.8,289.2 L316.1,289.3 L316.4,289.3 L316.8,289.4 L317.1,289.4 L317.4,289.6 L317.7,289.7 L318.0,289.9 L318.3,290.1 L318.7,290.4 L319.0,290.8 L319.3,291.9 L319.3,291.9 L319.0,293.0 L318.7,293.4 L318.3,293.7 L318.0,293.9 L317.7,294.1 L317.4,294.2 L317.1,294.3 L316.8,294.4 L316.4,294.5 L316.1,294.5 L315.8,294.5 L315.5,294.5 L315.2,294.4 L314.9,294.3 L314.6,294.1 L314.2,294.0 L313.9,293.9 L313.6,293.8 L313.3,293.6 L313.0,293.5 L312.7,293.4 L312.3,293.3 L312.0,293.1 L311.7,293.0 L311.4,292.8 L311.1,292.7 L310.8,292.5 L310.5,292.3 L310.1,292.1 L309.8,291.9 Z" fill="none" stroke="#4a4a4a" stroke-width="0.58"/>
<path d="M311.3,291.8 L311.6,291.5 L311.8,291.4 L312.0,291.3 L312.3,291.1 L312.5,291.0 L312.8,290.9 L313.0,290.8 L313.2,290.7 L313.5,290.6 L313.7,290.5 L314.0,290.4 L314.2,290.3 L314.5,290.2 L314.7,290.1 L314.9,290.0 L315.2,289.9 L315.4,289.8 L315.7,289.7 L315.9,289.7 L316.1,289.7 L316.4,289.7 L316.6,289.8 L316.9,289.8 L317.1,289.9 L317.3,290.0 L317.6,290.2 L317.8,290.4 L318.1,290.6 L318.3,290.9 L318.6,291.8 L318.6,291.8 L318.3,292.6 L318.1,292.9 L317.8,293.1 L317.6,293.3 L317.3,293.5 L317.1,293.6 L316.9,293.7 L316.6,293.7 L316.4,293.8 L316.1,293.8 L315.9,293.8 L315.7,293.8 L315.4,293.7 L315.2,293.6 L314.9,293.5 L314.7,293.4 L314.5,293.3 L314.2,293.2 L314.0,293.1 L313.7,293.0 L313.5,292.9 L313.2,292.8 L313.0,292.7 L312.8,292.6 L312.5,292.5 L312.3,292.4 L312.0,292.2 L311.8,292.1 L311.6,292.0 L311.3,291.8 Z" fill="none" stroke="#4a4a4a" stroke-width="0.58"/>
<path d="M312.7,291.6 L312.9,291.5 L313.1,291.4 L313.2,291.3 L313.4,291.2 L313.6,291.1 L313.8,291.0 L313.9,290.9 L314.1,290.8 L314.3,290.8 L314.4,290.7 L314.6,290.6 L314.8,290.5 L315.0,290.5 L315.1,290.4 L315.3,290.3 L315.5,290.3 L315.6,290.2 L315.8,290.1 L316.0,290.1 L316.2,290.1 L316.3,290.1 L316.5,290.2 L316.7,290.2 L316.8,290.3 L317.0,290.4 L317.2,290.5 L317.3,290.6 L317.5,290.8 L317.7,291.0 L317.9,291.6 L317.9,291.6 L317.7,292.2 L317.5,292.5 L317.3,292.6 L317.2,292.8 L317.0,292.9 L316.8,293.0 L316.7,293.0 L316.5,293.1 L316.3,293.1 L316.2,293.1 L316.0,293.1 L315.8,293.1 L315.6,293.1 L315.5,293.0 L315.3,292.9 L315.1,292.8 L315.0,292.8 L314.8,292.7 L314.6,292.6 L314.4,292.6 L314.3,292.5 L314.1,292.4 L313.9,292.3 L313.8,292.2 L313.6,292.2 L313.4,292.1 L313.2,292.0 L313.1,291.9 L312.9,291.8 L312.7,291.6 Z" fill="none" stroke="#4a4a4a" stroke-width="0.58"/>
<path d="M314.1,291.5 L314.2,291.4 L314.3,291.3 L314.4,291.3 L314.5,291.2 L314.6,291.1 L314.7,291.1 L314.8,291.0 L314.9,291.0 L315.0,290.9 L315.1,290.9 L315.2,290.8 L315.3,290.8 L315.4,290.7 L315.5,290.7 L315.6,290.7 L315.7,290.6 L315.8,290.6 L316.0,290.5 L316.1,290.5 L316.2,290.5 L316.3,290.5 L316.4,290.5 L316.5,290.6 L316.6,290.6 L316.7,290.7 L316.8,290.7 L316.9,290.8 L317.0,290.9 L317.1,291.1 L317.2,291.5 L317.2,291.5 L317.1,291.9 L317.0,292.1 L316.9,292.2 L316.8,292.3 L316.7,292.3 L316.6,292.4 L316.5,292.4 L316.4,292.5 L316.3,292.5 L316.2,292.5 L316.1,292.5 L316.0,292.5 L315.8,292.4 L315.7,292.4 L315.6,292.3 L315.5,292.3 L315.4,292.3 L315.3,292.2 L315.2,292.2 L315.1,292.1 L315.0,292.1 L314.9,292.0 L314.8,292.0 L314.7,291.9 L314.6,291.9 L314.5,291.8 L314.4,291.7 L314.3,291.7 L314.2,291.6 L314.1,291.5 Z" fill="none" stroke="#4a4a4a" stroke-width="0.58"/>
<ellipse cx="316.50" cy="291.50" rx="6.00" ry="4.20" fill="#555" stroke="none" stroke-width="1" transform="rotate(0 316.5 291.5)" filter="url(#b1)"/>
<ellipse cx="318.00" cy="288.50" rx="2.50" ry="1.20" fill="#333" stroke="none" stroke-width="1" filter="url(#b1)"/>
<ellipse cx="315.00" cy="294.00" rx="2.50" ry="1.20" fill="#444" stroke="none" stroke-width="1" filter="url(#b1)"/>
<ellipse cx="341.50" cy="289.20" rx="8.50" ry="9.50" fill="#bbb" stroke="none" stroke-width="1" transform="rotate(0 341.5 289.2)" filter="url(#b15)"/>
<path d="M331.0,290.0 L331.7,288.8 L332.3,287.9 L333.0,287.1 L333.7,286.4 L334.3,285.6 L335.0,285.0 L335.7,284.3 L336.3,283.6 L337.0,283.0 L337.7,282.4 L338.3,281.8 L339.0,281.2 L339.7,280.6 L340.3,280.1 L341.0,279.5 L341.7,279.5 L342.3,279.6 L343.0,279.7 L343.7,279.9 L344.3,280.1 L345.0,280.4 L345.7,280.7 L346.3,281.1 L347.0,281.6 L347.7,282.2 L348.3,282.9 L349.0,283.7 L349.7,284.8 L350.3,286.2 L351.0,290.0 L351.0,290.0 L350.3,293.8 L349.7,295.2 L349.0,296.3 L348.3,297.1 L347.7,297.8 L347.0,298.4 L346.3,298.9 L345.7,299.3 L345.0,299.6 L344.3,299.9 L343.7,300.1 L343.0,300.3 L342.3,300.4 L341.7,300.5 L341.0,300.5 L340.3,299.9 L339.7,299.4 L339.0,298.8 L338.3,298.2 L337.7,297.6 L337.0,297.0 L336.3,296.4 L335.7,295.7 L335.0,295.0 L334.3,294.4 L333.7,293.6 L333.0,292.9 L332.3,292.1 L331.7,291.2 L331.0,290.0 Z" fill="none" stroke="#4a4a4a" stroke-width="0.58"/>
<path d="M331.8,289.9 L332.4,288.8 L333.0,288.0 L333.6,287.3 L334.3,286.6 L334.9,286.0 L335.5,285.4 L336.1,284.8 L336.7,284.2 L337.3,283.6 L337.9,283.1 L338.5,282.5 L339.1,282.0 L339.7,281.5 L340.4,280.9 L341.0,280.4 L341.6,280.4 L342.2,280.4 L342.8,280.5 L343.4,280.7 L344.0,280.9 L344.6,281.1 L345.2,281.4 L345.9,281.8 L346.5,282.2 L347.1,282.8 L347.7,283.4 L348.3,284.2 L348.9,285.1 L349.5,286.5 L350.1,289.9 L350.1,289.9 L349.5,293.3 L348.9,294.7 L348.3,295.6 L347.7,296.4 L347.1,297.0 L346.5,297.6 L345.9,298.0 L345.2,298.4 L344.6,298.7 L344.0,298.9 L343.4,299.1 L342.8,299.3 L342.2,299.4 L341.6,299.4 L341.0,299.4 L340.4,298.9 L339.7,298.3 L339.1,297.8 L338.5,297.3 L337.9,296.7 L337.3,296.2 L336.7,295.6 L336.1,295.0 L335.5,294.4 L334.9,293.8 L334.3,293.2 L333.6,292.5 L333.0,291.8 L332.4,291.0 L331.8,289.9 Z" fill="none" stroke="#4a4a4a" stroke-width="0.58"/>
<path d="M332.6,289.8 L333.2,288.8 L333.7,288.1 L334.3,287.5 L334.8,286.9 L335.4,286.3 L335.9,285.8 L336.5,285.2 L337.1,284.7 L337.6,284.2 L338.2,283.7 L338.7,283.2 L339.3,282.8 L339.8,282.3 L340.4,281.8 L340.9,281.4 L341.5,281.2 L342.0,281.3 L342.6,281.4 L343.2,281.5 L343.7,281.7 L344.3,281.9 L344.8,282.2 L345.4,282.5 L345.9,282.9 L346.5,283.4 L347.0,283.9 L347.6,284.6 L348.1,285.5 L348.7,286.7 L349.2,289.8 L349.2,289.8 L348.7,292.9 L348.1,294.1 L347.6,295.0 L347.0,295.7 L346.5,296.2 L345.9,296.7 L345.4,297.1 L344.8,297.4 L344.3,297.7 L343.7,297.9 L343.2,298.1 L342.6,298.2 L342.0,298.3 L341.5,298.4 L340.9,298.2 L340.4,297.8 L339.8,297.3 L339.3,296.8 L338.7,296.4 L338.2,295.9 L337.6,295.4 L337.1,294.9 L336.5,294.4 L335.9,293.8 L335.4,293.3 L334.8,292.7 L334.3,292.1 L333.7,291.5 L333.2,290.8 L332.6,289.8 Z" fill="none" stroke="#4a4a4a" stroke-width="0.58"/>
<path d="M333.4,289.7 L333.9,288.9 L334.4,288.2 L334.9,287.7 L335.4,287.1 L335.9,286.6 L336.4,286.1 L336.9,285.7 L337.4,285.2 L337.9,284.8 L338.4,284.4 L338.9,283.9 L339.4,283.5 L339.9,283.1 L340.4,282.7 L340.9,282.3 L341.4,282.1 L341.9,282.1 L342.4,282.2 L342.9,282.3 L343.4,282.5 L343.9,282.6 L344.4,282.9 L344.9,283.2 L345.4,283.5 L345.9,283.9 L346.4,284.4 L346.9,285.1 L347.4,285.8 L347.9,286.9 L348.4,289.7 L348.4,289.7 L347.9,292.5 L347.4,293.6 L346.9,294.3 L346.4,295.0 L345.9,295.5 L345.4,295.9 L344.9,296.2 L344.4,296.5 L343.9,296.8 L343.4,296.9 L342.9,297.1 L342.4,297.2 L341.9,297.3 L341.4,297.3 L340.9,297.1 L340.4,296.7 L339.9,296.3 L339.4,295.9 L338.9,295.5 L338.4,295.0 L337.9,294.6 L337.4,294.2 L336.9,293.7 L336.4,293.3 L335.9,292.8 L335.4,292.3 L334.9,291.7 L334.4,291.2 L333.9,290.5 L333.4,289.7 Z" fill="none" stroke="#4a4a4a" stroke-width="0.58"/>
<path d="M334.2,289.6 L334.7,288.9 L335.1,288.3 L335.6,287.8 L336.0,287.4 L336.5,287.0 L336.9,286.5 L337.3,286.1 L337.8,285.8 L338.2,285.4 L338.7,285.0 L339.1,284.6 L339.6,284.3 L340.0,283.9 L340.4,283.6 L340.9,283.2 L341.3,283.0 L341.8,283.0 L342.2,283.0 L342.6,283.1 L343.1,283.2 L343.5,283.4 L344.0,283.6 L344.4,283.9 L344.9,284.2 L345.3,284.5 L345.7,285.0 L346.2,285.5 L346.6,286.2 L347.1,287.1 L347.5,289.6 L347.5,289.6 L347.1,292.1 L346.6,293.0 L346.2,293.7 L345.7,294.2 L345.3,294.7 L344.9,295.0 L344.4,295.3 L344.0,295.6 L343.5,295.8 L343.1,296.0 L342.6,296.1 L342.2,296.2 L341.8,296.2 L341.3,296.2 L340.9,296.0 L340.4,295.6 L340.0,295.3 L339.6,294.9 L339.1,294.6 L338.7,294.2 L338.2,293.8 L337.8,293.4 L337.3,293.1 L336.9,292.7 L336.5,292.2 L336.0,291.8 L335.6,291.4 L335.1,290.9 L334.7,290.3 L334.2,289.6 Z" fill="none" stroke="#4a4a4a" stroke-width="0.58"/>
<path d="M335.1,289.5 L335.4,288.9 L335.8,288.4 L336.2,288.0 L336.6,287.6 L337.0,287.3 L337.4,286.9 L337.8,286.6 L338.1,286.3 L338.5,285.9 L338.9,285.6 L339.3,285.3 L339.7,285.0 L340.1,284.7 L340.5,284.4 L340.8,284.2 L341.2,283.9 L341.6,283.8 L342.0,283.9 L342.4,283.9 L342.8,284.0 L343.2,284.2 L343.5,284.3 L343.9,284.5 L344.3,284.8 L344.7,285.1 L345.1,285.5 L345.5,286.0 L345.9,286.5 L346.2,287.4 L346.6,289.5 L346.6,289.5 L346.2,291.6 L345.9,292.5 L345.5,293.0 L345.1,293.5 L344.7,293.9 L344.3,294.2 L343.9,294.5 L343.5,294.7 L343.2,294.8 L342.8,295.0 L342.4,295.1 L342.0,295.1 L341.6,295.2 L341.2,295.1 L340.8,294.8 L340.5,294.6 L340.1,294.3 L339.7,294.0 L339.3,293.7 L338.9,293.4 L338.5,293.1 L338.1,292.7 L337.8,292.4 L337.4,292.1 L337.0,291.7 L336.6,291.4 L336.2,291.0 L335.8,290.6 L335.4,290.1 L335.1,289.5 Z" fill="none" stroke="#4a4a4a" stroke-width="0.58"/>
<path d="M335.9,289.4 L336.2,288.9 L336.5,288.5 L336.9,288.2 L337.2,287.9 L337.5,287.6 L337.9,287.3 L338.2,287.0 L338.5,286.8 L338.8,286.5 L339.2,286.3 L339.5,286.0 L339.8,285.8 L340.2,285.5 L340.5,285.3 L340.8,285.1 L341.1,284.8 L341.5,284.7 L341.8,284.7 L342.1,284.7 L342.5,284.8 L342.8,284.9 L343.1,285.1 L343.4,285.2 L343.8,285.4 L344.1,285.7 L344.4,286.0 L344.8,286.4 L345.1,286.9 L345.4,287.6 L345.8,289.4 L345.8,289.4 L345.4,291.2 L345.1,291.9 L344.8,292.4 L344.4,292.8 L344.1,293.1 L343.8,293.4 L343.4,293.6 L343.1,293.7 L342.8,293.9 L342.5,294.0 L342.1,294.1 L341.8,294.1 L341.5,294.1 L341.1,294.0 L340.8,293.7 L340.5,293.5 L340.2,293.3 L339.8,293.0 L339.5,292.8 L339.2,292.5 L338.8,292.3 L338.5,292.0 L338.2,291.8 L337.9,291.5 L337.5,291.2 L337.2,290.9 L336.9,290.6 L336.5,290.3 L336.2,289.9 L335.9,289.4 Z" fill="none" stroke="#4a4a4a" stroke-width="0.58"/>
<path d="M336.7,289.3 L337.0,288.9 L337.2,288.6 L337.5,288.4 L337.8,288.1 L338.1,287.9 L338.3,287.7 L338.6,287.5 L338.9,287.3 L339.1,287.1 L339.4,286.9 L339.7,286.7 L340.0,286.5 L340.2,286.3 L340.5,286.1 L340.8,286.0 L341.1,285.8 L341.3,285.6 L341.6,285.5 L341.9,285.6 L342.1,285.6 L342.4,285.7 L342.7,285.8 L343.0,285.9 L343.2,286.1 L343.5,286.3 L343.8,286.5 L344.1,286.9 L344.3,287.3 L344.6,287.8 L344.9,289.3 L344.9,289.3 L344.6,290.8 L344.3,291.3 L344.1,291.7 L343.8,292.1 L343.5,292.3 L343.2,292.5 L343.0,292.7 L342.7,292.8 L342.4,292.9 L342.1,293.0 L341.9,293.0 L341.6,293.1 L341.3,293.0 L341.1,292.8 L340.8,292.6 L340.5,292.5 L340.2,292.3 L340.0,292.1 L339.7,291.9 L339.4,291.7 L339.1,291.5 L338.9,291.3 L338.6,291.1 L338.3,290.9 L338.1,290.7 L337.8,290.5 L337.5,290.2 L337.2,290.0 L337.0,289.7 L336.7,289.3 Z" fill="none" stroke="#4a4a4a" stroke-width="0.58"/>
<path d="M337.5,289.2 L337.7,288.9 L337.9,288.7 L338.1,288.5 L338.4,288.4 L338.6,288.2 L338.8,288.1 L339.0,287.9 L339.2,287.8 L339.4,287.6 L339.7,287.5 L339.9,287.3 L340.1,287.2 L340.3,287.1 L340.5,287.0 L340.8,286.8 L341.0,286.7 L341.2,286.6 L341.4,286.5 L341.6,286.4 L341.8,286.4 L342.1,286.5 L342.3,286.5 L342.5,286.6 L342.7,286.7 L342.9,286.9 L343.1,287.1 L343.4,287.3 L343.6,287.6 L343.8,288.1 L344.0,289.2 L344.0,289.2 L343.8,290.3 L343.6,290.8 L343.4,291.1 L343.1,291.3 L342.9,291.5 L342.7,291.7 L342.5,291.8 L342.3,291.9 L342.1,291.9 L341.8,292.0 L341.6,292.0 L341.4,291.9 L341.2,291.8 L341.0,291.7 L340.8,291.6 L340.5,291.4 L340.3,291.3 L340.1,291.2 L339.9,291.1 L339.7,290.9 L339.4,290.8 L339.2,290.6 L339.0,290.5 L338.8,290.3 L338.6,290.2 L338.4,290.0 L338.1,289.9 L337.9,289.7 L337.7,289.5 L337.5,289.2 Z" fill="none" stroke="#4a4a4a" stroke-width="0.58"/>
<ellipse cx="341.50" cy="289.20" rx="5.60" ry="6.20" fill="#555" stroke="#1a1a1a" stroke-width="2.0" transform="rotate(-25 341.5 289.2)" filter="url(#b05)"/>
<ellipse cx="341.50" cy="289.20" rx="2.50" ry="3.20" fill="#999" stroke="none" stroke-width="1" transform="rotate(-25 341.5 289.2)" filter="url(#b05)"/>
<ellipse cx="342.00" cy="394.00" rx="12.00" ry="8.00" fill="#c4c4c4" stroke="none" stroke-width="1" transform="rotate(0 342 394)" filter="url(#b15)"/>
<path d="M305.2,398.0 L306.6,395.7 L308.2,394.5 L309.8,393.4 L311.4,392.5 L313.0,391.7 L314.6,390.9 L316.2,390.1 L317.8,389.4 L319.4,388.7 L321.0,388.1 L322.6,387.4 L324.3,386.8 L325.9,386.2 L327.5,385.6 L329.1,385.0 L330.7,384.4 L332.4,383.9 L334.0,383.3 L335.6,382.8 L337.3,382.3 L338.9,382.3 L340.6,382.3 L342.3,382.5 L344.0,382.9 L345.7,383.4 L347.4,384.1 L349.2,385.0 L351.0,386.3 L352.8,388.3 L355.0,393.6 L355.0,393.6 L353.8,399.3 L352.3,401.5 L350.8,403.1 L349.2,404.3 L347.6,405.3 L346.0,406.1 L344.4,406.7 L342.8,407.2 L341.1,407.6 L339.5,407.8 L337.8,407.7 L336.1,407.4 L334.4,407.1 L332.7,406.9 L331.0,406.6 L329.3,406.3 L327.6,406.0 L325.9,405.7 L324.2,405.3 L322.5,405.0 L320.8,404.6 L319.1,404.2 L317.4,403.8 L315.7,403.3 L314.0,402.8 L312.2,402.3 L310.5,401.6 L308.8,400.9 L307.0,400.0 L305.2,398.0 Z" fill="none" stroke="#4a4a4a" stroke-width="0.58"/>
<path d="M313.7,396.7 L314.8,394.9 L316.1,393.9 L317.3,393.1 L318.6,392.4 L319.9,391.7 L321.2,391.1 L322.4,390.5 L323.7,389.9 L325.0,389.4 L326.3,388.8 L327.6,388.3 L328.9,387.8 L330.2,387.4 L331.5,386.9 L332.7,386.4 L334.0,386.0 L335.3,385.5 L336.6,385.1 L337.9,384.6 L339.2,384.3 L340.5,384.3 L341.9,384.3 L343.2,384.5 L344.6,384.7 L345.9,385.1 L347.3,385.7 L348.7,386.4 L350.1,387.5 L351.6,389.0 L353.3,393.2 L353.3,393.2 L352.4,397.7 L351.2,399.5 L350.0,400.7 L348.7,401.7 L347.5,402.5 L346.2,403.1 L344.9,403.6 L343.6,404.0 L342.3,404.3 L341.0,404.5 L339.6,404.4 L338.3,404.2 L336.9,404.0 L335.6,403.8 L334.2,403.5 L332.9,403.3 L331.5,403.1 L330.2,402.8 L328.8,402.5 L327.5,402.3 L326.1,402.0 L324.8,401.7 L323.4,401.3 L322.0,401.0 L320.7,400.6 L319.3,400.1 L317.9,399.6 L316.5,399.0 L315.1,398.3 L313.7,396.7 Z" fill="none" stroke="#4a4a4a" stroke-width="0.58"/>
<path d="M318.1,396.1 L319.1,394.5 L320.2,393.6 L321.2,392.9 L322.3,392.3 L323.5,391.7 L324.6,391.2 L325.7,390.7 L326.8,390.2 L327.9,389.7 L329.0,389.2 L330.1,388.8 L331.2,388.4 L332.4,388.0 L333.5,387.5 L334.6,387.1 L335.7,386.7 L336.9,386.4 L338.0,386.0 L339.1,385.6 L340.2,385.3 L341.4,385.3 L342.5,385.3 L343.7,385.5 L344.9,385.7 L346.1,386.0 L347.3,386.5 L348.5,387.2 L349.7,388.1 L351.0,389.4 L352.5,393.1 L352.5,393.1 L351.6,396.9 L350.6,398.4 L349.6,399.5 L348.5,400.4 L347.4,401.1 L346.3,401.6 L345.2,402.0 L344.0,402.4 L342.9,402.6 L341.8,402.8 L340.6,402.7 L339.4,402.5 L338.2,402.3 L337.1,402.2 L335.9,402.0 L334.7,401.8 L333.6,401.6 L332.4,401.3 L331.2,401.1 L330.0,400.9 L328.9,400.6 L327.7,400.3 L326.5,400.0 L325.3,399.7 L324.1,399.4 L322.9,399.0 L321.7,398.6 L320.5,398.1 L319.3,397.4 L318.1,396.1 Z" fill="none" stroke="#4a4a4a" stroke-width="0.58"/>
<path d="M321.6,395.5 L322.5,394.2 L323.4,393.4 L324.4,392.8 L325.4,392.2 L326.3,391.7 L327.3,391.3 L328.3,390.8 L329.3,390.4 L330.2,390.0 L331.2,389.6 L332.2,389.2 L333.2,388.8 L334.2,388.4 L335.1,388.1 L336.1,387.7 L337.1,387.4 L338.1,387.1 L339.1,386.7 L340.1,386.4 L341.0,386.1 L342.1,386.1 L343.1,386.2 L344.1,386.3 L345.1,386.5 L346.2,386.8 L347.2,387.2 L348.3,387.8 L349.4,388.5 L350.5,389.7 L351.8,392.9 L351.8,392.9 L351.0,396.3 L350.2,397.6 L349.2,398.5 L348.3,399.3 L347.3,399.9 L346.3,400.4 L345.4,400.7 L344.4,401.0 L343.4,401.3 L342.4,401.4 L341.4,401.3 L340.3,401.2 L339.3,401.0 L338.3,400.9 L337.3,400.7 L336.2,400.5 L335.2,400.3 L334.2,400.1 L333.1,399.9 L332.1,399.7 L331.1,399.5 L330.0,399.3 L329.0,399.0 L328.0,398.7 L326.9,398.4 L325.9,398.1 L324.8,397.7 L323.8,397.3 L322.7,396.7 L321.6,395.5 Z" fill="none" stroke="#4a4a4a" stroke-width="0.58"/>
<path d="M324.7,395.1 L325.5,393.9 L326.3,393.2 L327.2,392.7 L328.0,392.2 L328.9,391.8 L329.7,391.3 L330.6,390.9 L331.4,390.6 L332.3,390.2 L333.1,389.9 L334.0,389.5 L334.9,389.2 L335.7,388.9 L336.6,388.6 L337.4,388.2 L338.3,387.9 L339.2,387.7 L340.0,387.4 L340.9,387.1 L341.8,386.9 L342.6,386.8 L343.5,386.9 L344.4,387.0 L345.3,387.2 L346.3,387.4 L347.2,387.8 L348.1,388.3 L349.1,389.0 L350.0,390.0 L351.2,392.8 L351.2,392.8 L350.5,395.7 L349.7,396.9 L348.9,397.7 L348.1,398.3 L347.3,398.9 L346.4,399.3 L345.5,399.6 L344.7,399.9 L343.8,400.1 L342.9,400.2 L342.0,400.1 L341.1,400.0 L340.2,399.9 L339.3,399.7 L338.4,399.6 L337.5,399.4 L336.6,399.3 L335.7,399.1 L334.8,398.9 L333.9,398.7 L333.0,398.5 L332.1,398.3 L331.2,398.1 L330.3,397.9 L329.4,397.6 L328.5,397.3 L327.5,397.0 L326.6,396.6 L325.7,396.1 L324.7,395.1 Z" fill="none" stroke="#4a4a4a" stroke-width="0.58"/>
<path d="M327.5,394.7 L328.2,393.6 L328.9,393.0 L329.7,392.6 L330.4,392.2 L331.1,391.8 L331.9,391.4 L332.6,391.1 L333.4,390.7 L334.1,390.4 L334.9,390.1 L335.6,389.8 L336.4,389.5 L337.1,389.3 L337.9,389.0 L338.6,388.7 L339.4,388.4 L340.1,388.2 L340.9,387.9 L341.6,387.7 L342.4,387.5 L343.2,387.5 L344.0,387.5 L344.7,387.6 L345.5,387.8 L346.3,388.0 L347.1,388.3 L347.9,388.8 L348.8,389.3 L349.6,390.2 L350.6,392.6 L350.6,392.6 L350.1,395.2 L349.4,396.2 L348.7,396.9 L347.9,397.5 L347.2,397.9 L346.5,398.3 L345.7,398.6 L344.9,398.8 L344.2,399.0 L343.4,399.1 L342.6,399.1 L341.9,398.9 L341.1,398.8 L340.3,398.7 L339.5,398.6 L338.7,398.4 L337.9,398.3 L337.1,398.2 L336.3,398.0 L335.5,397.9 L334.8,397.7 L334.0,397.5 L333.2,397.3 L332.4,397.1 L331.6,396.9 L330.8,396.6 L330.0,396.3 L329.2,396.0 L328.4,395.6 L327.5,394.7 Z" fill="none" stroke="#4a4a4a" stroke-width="0.58"/>
<path d="M330.1,394.3 L330.7,393.4 L331.3,392.9 L331.9,392.5 L332.6,392.1 L333.2,391.8 L333.9,391.5 L334.5,391.2 L335.2,390.9 L335.8,390.6 L336.5,390.4 L337.1,390.1 L337.8,389.8 L338.4,389.6 L339.1,389.4 L339.7,389.1 L340.4,388.9 L341.0,388.7 L341.7,388.5 L342.3,388.3 L343.0,388.1 L343.7,388.1 L344.3,388.1 L345.0,388.2 L345.7,388.3 L346.4,388.5 L347.1,388.8 L347.8,389.2 L348.5,389.7 L349.3,390.4 L350.1,392.5 L350.1,392.5 L349.6,394.7 L349.0,395.6 L348.4,396.2 L347.8,396.7 L347.1,397.1 L346.5,397.4 L345.9,397.6 L345.2,397.8 L344.5,398.0 L343.9,398.1 L343.2,398.1 L342.5,398.0 L341.8,397.9 L341.2,397.8 L340.5,397.7 L339.8,397.5 L339.1,397.4 L338.4,397.3 L337.7,397.2 L337.1,397.0 L336.4,396.9 L335.7,396.7 L335.0,396.6 L334.3,396.4 L333.6,396.2 L332.9,396.0 L332.2,395.7 L331.5,395.4 L330.8,395.1 L330.1,394.3 Z" fill="none" stroke="#4a4a4a" stroke-width="0.58"/>
<path d="M332.5,393.9 L333.0,393.2 L333.5,392.7 L334.1,392.4 L334.6,392.1 L335.2,391.8 L335.7,391.5 L336.3,391.3 L336.9,391.0 L337.4,390.8 L338.0,390.6 L338.5,390.4 L339.1,390.1 L339.6,389.9 L340.2,389.7 L340.8,389.5 L341.3,389.3 L341.9,389.2 L342.4,389.0 L343.0,388.8 L343.6,388.7 L344.1,388.7 L344.7,388.7 L345.3,388.8 L345.9,388.9 L346.5,389.0 L347.1,389.3 L347.7,389.6 L348.3,390.0 L348.9,390.7 L349.6,392.4 L349.6,392.4 L349.2,394.3 L348.7,395.0 L348.2,395.5 L347.6,396.0 L347.1,396.3 L346.5,396.6 L346.0,396.8 L345.4,396.9 L344.9,397.1 L344.3,397.2 L343.7,397.1 L343.1,397.1 L342.6,397.0 L342.0,396.9 L341.4,396.8 L340.8,396.7 L340.2,396.6 L339.6,396.5 L339.0,396.4 L338.5,396.3 L337.9,396.1 L337.3,396.0 L336.7,395.9 L336.1,395.7 L335.5,395.5 L334.9,395.4 L334.3,395.1 L333.7,394.9 L333.1,394.6 L332.5,393.9 Z" fill="none" stroke="#4a4a4a" stroke-width="0.58"/>
<path d="M334.8,393.6 L335.2,392.9 L335.7,392.6 L336.1,392.3 L336.6,392.0 L337.0,391.8 L337.5,391.6 L338.0,391.4 L338.4,391.2 L338.9,391.0 L339.4,390.8 L339.8,390.6 L340.3,390.4 L340.8,390.3 L341.3,390.1 L341.7,389.9 L342.2,389.8 L342.7,389.6 L343.1,389.4 L343.6,389.3 L344.1,389.2 L344.6,389.2 L345.1,389.2 L345.5,389.3 L346.0,389.4 L346.5,389.5 L347.0,389.7 L347.5,390.0 L348.1,390.3 L348.6,390.9 L349.2,392.3 L349.2,392.3 L348.8,393.9 L348.4,394.5 L348.0,394.9 L347.5,395.3 L347.1,395.5 L346.6,395.8 L346.1,395.9 L345.7,396.1 L345.2,396.2 L344.7,396.3 L344.2,396.3 L343.7,396.2 L343.2,396.1 L342.7,396.0 L342.3,396.0 L341.8,395.9 L341.3,395.8 L340.8,395.7 L340.3,395.6 L339.8,395.5 L339.3,395.4 L338.8,395.3 L338.3,395.2 L337.8,395.1 L337.3,394.9 L336.8,394.8 L336.3,394.6 L335.8,394.4 L335.3,394.1 L334.8,393.6 Z" fill="none" stroke="#4a4a4a" stroke-width="0.58"/>
<path d="M337.0,393.3 L337.3,392.7 L337.7,392.5 L338.1,392.2 L338.4,392.0 L338.8,391.8 L339.2,391.6 L339.6,391.5 L340.0,391.3 L340.3,391.1 L340.7,391.0 L341.1,390.8 L341.5,390.7 L341.9,390.6 L342.3,390.4 L342.6,390.3 L343.0,390.1 L343.4,390.0 L343.8,389.9 L344.2,389.8 L344.6,389.7 L345.0,389.7 L345.4,389.7 L345.8,389.8 L346.2,389.9 L346.6,390.0 L347.0,390.1 L347.4,390.3 L347.8,390.6 L348.3,391.0 L348.8,392.2 L348.8,392.2 L348.5,393.5 L348.1,394.0 L347.8,394.3 L347.4,394.6 L347.0,394.8 L346.6,395.0 L346.2,395.1 L345.9,395.3 L345.5,395.4 L345.1,395.4 L344.7,395.4 L344.3,395.4 L343.9,395.3 L343.5,395.3 L343.1,395.2 L342.7,395.1 L342.3,395.1 L341.9,395.0 L341.5,394.9 L341.1,394.8 L340.7,394.7 L340.2,394.7 L339.8,394.6 L339.4,394.5 L339.0,394.3 L338.6,394.2 L338.2,394.1 L337.8,393.9 L337.4,393.7 L337.0,393.3 Z" fill="none" stroke="#4a4a4a" stroke-width="0.58"/>
<path d="M339.0,392.9 L339.3,392.5 L339.6,392.3 L339.9,392.1 L340.2,392.0 L340.5,391.8 L340.8,391.7 L341.1,391.5 L341.4,391.4 L341.7,391.3 L342.0,391.2 L342.3,391.1 L342.6,390.9 L342.9,390.8 L343.2,390.7 L343.5,390.6 L343.8,390.5 L344.1,390.4 L344.4,390.3 L344.7,390.2 L345.1,390.2 L345.4,390.2 L345.7,390.2 L346.0,390.2 L346.3,390.3 L346.6,390.4 L347.0,390.5 L347.3,390.7 L347.6,390.9 L348.0,391.2 L348.4,392.1 L348.4,392.1 L348.1,393.1 L347.9,393.5 L347.6,393.7 L347.3,394.0 L347.0,394.1 L346.7,394.3 L346.4,394.4 L346.1,394.5 L345.8,394.6 L345.4,394.6 L345.1,394.6 L344.8,394.6 L344.5,394.5 L344.2,394.5 L343.9,394.4 L343.5,394.4 L343.2,394.3 L342.9,394.3 L342.6,394.2 L342.3,394.2 L342.0,394.1 L341.6,394.0 L341.3,394.0 L341.0,393.9 L340.7,393.8 L340.3,393.7 L340.0,393.6 L339.7,393.5 L339.4,393.3 L339.0,392.9 Z" fill="none" stroke="#4a4a4a" stroke-width="0.58"/>
<path d="M341.0,392.6 L341.2,392.4 L341.4,392.2 L341.7,392.1 L341.9,391.9 L342.1,391.8 L342.3,391.7 L342.6,391.6 L342.8,391.5 L343.0,391.4 L343.2,391.4 L343.5,391.3 L343.7,391.2 L343.9,391.1 L344.1,391.0 L344.4,391.0 L344.6,390.9 L344.8,390.8 L345.1,390.7 L345.3,390.7 L345.5,390.7 L345.8,390.7 L346.0,390.7 L346.2,390.7 L346.5,390.7 L346.7,390.8 L346.9,390.9 L347.2,391.0 L347.4,391.2 L347.7,391.4 L348.0,392.0 L348.0,392.0 L347.8,392.7 L347.6,393.0 L347.4,393.2 L347.2,393.3 L346.9,393.5 L346.7,393.6 L346.5,393.7 L346.3,393.7 L346.0,393.8 L345.8,393.8 L345.6,393.9 L345.3,393.8 L345.1,393.8 L344.9,393.8 L344.6,393.7 L344.4,393.7 L344.1,393.7 L343.9,393.6 L343.7,393.6 L343.4,393.5 L343.2,393.5 L343.0,393.4 L342.7,393.4 L342.5,393.3 L342.2,393.3 L342.0,393.2 L341.8,393.1 L341.5,393.0 L341.3,392.9 L341.0,392.6 Z" fill="none" stroke="#4a4a4a" stroke-width="0.58"/>
<path d="M342.9,392.4 L343.1,392.2 L343.2,392.1 L343.4,392.0 L343.5,391.9 L343.7,391.8 L343.8,391.8 L344.0,391.7 L344.1,391.7 L344.3,391.6 L344.4,391.5 L344.6,391.5 L344.7,391.4 L344.9,391.4 L345.0,391.3 L345.2,391.3 L345.3,391.2 L345.5,391.2 L345.7,391.1 L345.8,391.1 L346.0,391.1 L346.1,391.1 L346.3,391.1 L346.4,391.1 L346.6,391.2 L346.8,391.2 L346.9,391.3 L347.1,391.3 L347.2,391.4 L347.4,391.6 L347.6,392.0 L347.6,392.0 L347.5,392.4 L347.3,392.5 L347.2,392.7 L347.0,392.8 L346.9,392.8 L346.7,392.9 L346.6,393.0 L346.4,393.0 L346.3,393.0 L346.1,393.1 L346.0,393.1 L345.8,393.1 L345.7,393.1 L345.5,393.1 L345.3,393.0 L345.2,393.0 L345.0,393.0 L344.9,393.0 L344.7,392.9 L344.6,392.9 L344.4,392.9 L344.2,392.9 L344.1,392.8 L343.9,392.8 L343.8,392.7 L343.6,392.7 L343.4,392.7 L343.3,392.6 L343.1,392.5 L342.9,392.4 Z" fill="none" stroke="#4a4a4a" stroke-width="0.58"/>
<ellipse cx="344.00" cy="393.20" rx="9.50" ry="6.20" fill="#2e2e2e" stroke="none" stroke-width="1" transform="rotate(0 344 393.2)" filter="url(#b1)"/>
<ellipse cx="345.00" cy="390.00" rx="4.50" ry="1.50" fill="#111" stroke="none" stroke-width="1" filter="url(#b1)"/>
<ellipse cx="346.00" cy="396.80" rx="5.00" ry="1.60" fill="#111" stroke="none" stroke-width="1" filter="url(#b1)"/>
<ellipse cx="350.00" cy="393.00" rx="1.50" ry="2.50" fill="#222" stroke="none" stroke-width="1" filter="url(#b1)"/>
<ellipse cx="347.50" cy="393.30" rx="1.70" ry="0.60" fill="#ccc" stroke="none" stroke-width="1" filter="url(#b05)"/>
<ellipse cx="424.00" cy="290.50" rx="13.00" ry="9.00" fill="#c4c4c4" stroke="none" stroke-width="1" transform="rotate(0 424 290.5)" filter="url(#b15)"/>
<path d="M396.1,293.5 L397.5,290.7 L399.1,289.4 L400.6,288.3 L402.2,287.3 L403.8,286.5 L405.4,285.7 L407.0,284.9 L408.6,284.2 L410.2,283.6 L411.8,282.9 L413.4,282.3 L415.0,281.7 L416.6,281.1 L418.2,280.6 L419.8,280.0 L421.4,279.5 L423.0,279.2 L424.7,279.1 L426.3,279.1 L428.0,279.2 L429.6,279.4 L431.3,279.7 L433.0,280.0 L434.6,280.5 L436.3,281.0 L438.0,281.7 L439.7,282.6 L441.4,283.8 L443.2,285.5 L445.2,290.0 L445.2,290.0 L443.8,294.8 L442.3,296.7 L440.8,298.2 L439.2,299.3 L437.7,300.2 L436.1,301.0 L434.5,301.7 L432.9,302.2 L431.3,302.7 L429.6,303.1 L428.0,303.5 L426.4,303.7 L424.8,303.9 L423.1,303.8 L421.4,303.5 L419.8,303.2 L418.1,302.8 L416.4,302.5 L414.8,302.1 L413.1,301.7 L411.4,301.3 L409.7,300.9 L408.1,300.4 L406.4,299.9 L404.7,299.3 L403.0,298.7 L401.3,298.0 L399.6,297.1 L397.9,296.0 L396.1,293.5 Z" fill="none" stroke="#4a4a4a" stroke-width="0.58"/>
<path d="M402.3,292.7 L403.4,290.5 L404.7,289.4 L405.9,288.5 L407.2,287.8 L408.4,287.1 L409.7,286.5 L410.9,285.9 L412.2,285.3 L413.5,284.8 L414.7,284.3 L416.0,283.8 L417.3,283.3 L418.6,282.8 L419.8,282.4 L421.1,281.9 L422.4,281.5 L423.7,281.3 L425.0,281.2 L426.3,281.2 L427.6,281.3 L428.9,281.5 L430.2,281.7 L431.6,281.9 L432.9,282.3 L434.2,282.7 L435.6,283.3 L436.9,284.0 L438.3,285.0 L439.7,286.3 L441.2,290.0 L441.2,290.0 L440.2,293.8 L439.0,295.3 L437.8,296.4 L436.5,297.3 L435.3,298.1 L434.0,298.7 L432.8,299.2 L431.5,299.7 L430.2,300.1 L428.9,300.4 L427.6,300.7 L426.3,300.9 L425.1,301.0 L423.7,300.9 L422.4,300.7 L421.1,300.4 L419.8,300.2 L418.4,299.9 L417.1,299.6 L415.8,299.3 L414.5,298.9 L413.1,298.6 L411.8,298.2 L410.5,297.8 L409.1,297.3 L407.8,296.8 L406.5,296.3 L405.1,295.6 L403.7,294.7 L402.3,292.7 Z" fill="none" stroke="#4a4a4a" stroke-width="0.58"/>
<path d="M405.5,292.3 L406.5,290.4 L407.5,289.4 L408.6,288.7 L409.7,288.0 L410.8,287.4 L411.9,286.9 L413.0,286.4 L414.1,285.9 L415.2,285.4 L416.3,285.0 L417.4,284.5 L418.5,284.1 L419.6,283.7 L420.7,283.3 L421.8,282.9 L422.9,282.6 L424.0,282.3 L425.1,282.3 L426.3,282.3 L427.4,282.4 L428.5,282.5 L429.7,282.7 L430.8,282.9 L432.0,283.2 L433.1,283.6 L434.3,284.1 L435.5,284.7 L436.7,285.6 L437.9,286.7 L439.2,289.9 L439.2,289.9 L438.3,293.2 L437.3,294.6 L436.2,295.6 L435.2,296.3 L434.1,297.0 L433.0,297.5 L431.9,298.0 L430.8,298.4 L429.7,298.7 L428.6,299.0 L427.4,299.2 L426.3,299.4 L425.2,299.5 L424.1,299.4 L422.9,299.2 L421.8,299.0 L420.6,298.8 L419.5,298.5 L418.3,298.3 L417.2,298.0 L416.0,297.7 L414.9,297.4 L413.7,297.1 L412.6,296.7 L411.4,296.3 L410.3,295.9 L409.1,295.4 L407.9,294.8 L406.7,294.0 L405.5,292.3 Z" fill="none" stroke="#4a4a4a" stroke-width="0.58"/>
<path d="M408.1,291.9 L408.9,290.3 L409.9,289.4 L410.8,288.8 L411.8,288.2 L412.7,287.7 L413.7,287.2 L414.6,286.8 L415.6,286.3 L416.6,285.9 L417.5,285.5 L418.5,285.2 L419.4,284.8 L420.4,284.4 L421.4,284.1 L422.3,283.8 L423.3,283.4 L424.3,283.2 L425.3,283.2 L426.3,283.2 L427.2,283.3 L428.2,283.4 L429.2,283.5 L430.2,283.7 L431.3,284.0 L432.3,284.3 L433.3,284.8 L434.3,285.3 L435.4,286.0 L436.4,287.1 L437.6,289.9 L437.6,289.9 L436.8,292.8 L435.9,294.0 L435.0,294.8 L434.0,295.5 L433.1,296.1 L432.1,296.6 L431.2,297.0 L430.2,297.3 L429.2,297.6 L428.3,297.9 L427.3,298.1 L426.3,298.2 L425.3,298.3 L424.3,298.2 L423.3,298.0 L422.3,297.9 L421.3,297.6 L420.3,297.4 L419.3,297.2 L418.3,297.0 L417.3,296.7 L416.3,296.4 L415.3,296.2 L414.3,295.8 L413.3,295.5 L412.3,295.1 L411.2,294.7 L410.2,294.2 L409.2,293.5 L408.1,291.9 Z" fill="none" stroke="#4a4a4a" stroke-width="0.58"/>
<path d="M410.3,291.6 L411.1,290.2 L411.9,289.5 L412.7,288.9 L413.6,288.4 L414.4,287.9 L415.2,287.5 L416.1,287.1 L416.9,286.7 L417.8,286.4 L418.6,286.0 L419.4,285.7 L420.3,285.4 L421.1,285.1 L422.0,284.8 L422.8,284.5 L423.7,284.2 L424.5,284.0 L425.4,284.0 L426.2,284.0 L427.1,284.0 L428.0,284.1 L428.9,284.2 L429.7,284.4 L430.6,284.7 L431.5,285.0 L432.4,285.3 L433.3,285.8 L434.2,286.5 L435.1,287.4 L436.2,289.8 L436.2,289.8 L435.5,292.4 L434.7,293.5 L433.9,294.2 L433.1,294.8 L432.2,295.3 L431.4,295.7 L430.6,296.1 L429.7,296.4 L428.9,296.7 L428.0,296.9 L427.2,297.0 L426.3,297.2 L425.4,297.3 L424.6,297.2 L423.7,297.0 L422.8,296.8 L421.9,296.7 L421.1,296.5 L420.2,296.3 L419.3,296.1 L418.4,295.8 L417.5,295.6 L416.7,295.4 L415.8,295.1 L414.9,294.8 L414.0,294.4 L413.1,294.1 L412.2,293.6 L411.3,293.0 L410.3,291.6 Z" fill="none" stroke="#4a4a4a" stroke-width="0.58"/>
<path d="M412.4,291.4 L413.0,290.1 L413.8,289.5 L414.5,289.0 L415.2,288.5 L415.9,288.1 L416.6,287.8 L417.4,287.4 L418.1,287.1 L418.8,286.8 L419.6,286.5 L420.3,286.2 L421.0,285.9 L421.8,285.6 L422.5,285.4 L423.2,285.1 L424.0,284.9 L424.7,284.7 L425.5,284.6 L426.2,284.7 L427.0,284.7 L427.7,284.8 L428.5,284.9 L429.3,285.1 L430.0,285.3 L430.8,285.5 L431.6,285.9 L432.4,286.3 L433.2,286.8 L434.0,287.7 L434.9,289.8 L434.9,289.8 L434.3,292.1 L433.6,293.0 L432.9,293.6 L432.2,294.2 L431.5,294.6 L430.7,295.0 L430.0,295.3 L429.3,295.6 L428.5,295.8 L427.8,296.0 L427.0,296.1 L426.3,296.2 L425.5,296.3 L424.8,296.2 L424.0,296.1 L423.3,295.9 L422.5,295.8 L421.7,295.6 L421.0,295.4 L420.2,295.3 L419.4,295.1 L418.7,294.9 L417.9,294.6 L417.1,294.4 L416.3,294.1 L415.6,293.8 L414.8,293.5 L414.0,293.1 L413.2,292.6 L412.4,291.4 Z" fill="none" stroke="#4a4a4a" stroke-width="0.58"/>
<path d="M414.3,291.1 L414.8,290.0 L415.4,289.5 L416.1,289.0 L416.7,288.7 L417.3,288.3 L417.9,288.0 L418.6,287.7 L419.2,287.4 L419.8,287.1 L420.5,286.9 L421.1,286.6 L421.7,286.4 L422.4,286.1 L423.0,285.9 L423.6,285.7 L424.3,285.5 L424.9,285.3 L425.6,285.3 L426.2,285.3 L426.9,285.3 L427.5,285.4 L428.2,285.5 L428.9,285.6 L429.5,285.8 L430.2,286.0 L430.9,286.3 L431.5,286.7 L432.2,287.2 L432.9,287.9 L433.7,289.8 L433.7,289.8 L433.2,291.8 L432.6,292.6 L432.0,293.1 L431.4,293.6 L430.7,294.0 L430.1,294.3 L429.5,294.6 L428.8,294.8 L428.2,295.0 L427.6,295.1 L426.9,295.3 L426.3,295.4 L425.6,295.4 L425.0,295.4 L424.3,295.2 L423.7,295.1 L423.0,295.0 L422.3,294.8 L421.7,294.7 L421.0,294.5 L420.3,294.3 L419.7,294.2 L419.0,294.0 L418.4,293.8 L417.7,293.5 L417.0,293.3 L416.3,293.0 L415.7,292.6 L415.0,292.2 L414.3,291.1 Z" fill="none" stroke="#4a4a4a" stroke-width="0.58"/>
<path d="M416.0,290.9 L416.5,290.0 L417.0,289.5 L417.6,289.1 L418.1,288.8 L418.6,288.5 L419.2,288.2 L419.7,288.0 L420.2,287.7 L420.8,287.5 L421.3,287.3 L421.9,287.0 L422.4,286.8 L422.9,286.6 L423.5,286.4 L424.0,286.2 L424.6,286.1 L425.1,285.9 L425.7,285.9 L426.2,285.9 L426.8,285.9 L427.3,286.0 L427.9,286.1 L428.5,286.2 L429.0,286.3 L429.6,286.5 L430.2,286.8 L430.7,287.1 L431.3,287.5 L431.9,288.1 L432.6,289.8 L432.6,289.8 L432.2,291.5 L431.6,292.1 L431.1,292.6 L430.6,293.0 L430.1,293.4 L429.5,293.6 L429.0,293.9 L428.5,294.1 L427.9,294.2 L427.4,294.4 L426.8,294.5 L426.3,294.6 L425.7,294.6 L425.2,294.5 L424.6,294.4 L424.0,294.3 L423.5,294.2 L422.9,294.1 L422.3,293.9 L421.8,293.8 L421.2,293.7 L420.6,293.5 L420.1,293.3 L419.5,293.2 L418.9,293.0 L418.4,292.7 L417.8,292.5 L417.2,292.2 L416.6,291.8 L416.0,290.9 Z" fill="none" stroke="#4a4a4a" stroke-width="0.58"/>
<path d="M417.7,290.7 L418.1,289.9 L418.5,289.5 L419.0,289.2 L419.4,288.9 L419.9,288.7 L420.3,288.4 L420.8,288.2 L421.2,288.0 L421.7,287.8 L422.1,287.6 L422.6,287.4 L423.0,287.3 L423.5,287.1 L423.9,286.9 L424.4,286.8 L424.8,286.6 L425.3,286.5 L425.7,286.4 L426.2,286.4 L426.7,286.5 L427.1,286.5 L427.6,286.6 L428.1,286.7 L428.6,286.8 L429.0,287.0 L429.5,287.2 L430.0,287.5 L430.5,287.8 L431.0,288.4 L431.5,289.7 L431.5,289.7 L431.2,291.2 L430.8,291.8 L430.3,292.2 L429.9,292.5 L429.4,292.8 L429.0,293.0 L428.5,293.2 L428.1,293.4 L427.6,293.5 L427.2,293.6 L426.7,293.7 L426.3,293.8 L425.8,293.8 L425.3,293.8 L424.9,293.7 L424.4,293.6 L423.9,293.5 L423.4,293.4 L423.0,293.3 L422.5,293.1 L422.0,293.0 L421.6,292.9 L421.1,292.7 L420.6,292.6 L420.1,292.4 L419.7,292.2 L419.2,292.0 L418.7,291.8 L418.2,291.5 L417.7,290.7 Z" fill="none" stroke="#4a4a4a" stroke-width="0.58"/>
<path d="M419.3,290.5 L419.6,289.8 L420.0,289.5 L420.3,289.3 L420.7,289.0 L421.0,288.8 L421.4,288.6 L421.8,288.4 L422.1,288.3 L422.5,288.1 L422.9,288.0 L423.2,287.8 L423.6,287.7 L424.0,287.5 L424.3,287.4 L424.7,287.3 L425.1,287.1 L425.4,287.0 L425.8,287.0 L426.2,287.0 L426.6,287.0 L427.0,287.0 L427.3,287.1 L427.7,287.2 L428.1,287.3 L428.5,287.4 L428.9,287.6 L429.3,287.8 L429.7,288.1 L430.1,288.6 L430.5,289.7 L430.5,289.7 L430.3,290.9 L429.9,291.4 L429.6,291.7 L429.2,292.0 L428.8,292.3 L428.5,292.4 L428.1,292.6 L427.7,292.7 L427.4,292.9 L427.0,292.9 L426.6,293.0 L426.2,293.1 L425.9,293.1 L425.5,293.0 L425.1,292.9 L424.7,292.9 L424.3,292.8 L424.0,292.7 L423.6,292.6 L423.2,292.5 L422.8,292.4 L422.4,292.3 L422.0,292.2 L421.6,292.1 L421.3,291.9 L420.9,291.8 L420.5,291.6 L420.1,291.4 L419.7,291.1 L419.3,290.5 Z" fill="none" stroke="#4a4a4a" stroke-width="0.58"/>
<path d="M420.8,290.3 L421.0,289.8 L421.3,289.5 L421.6,289.3 L421.9,289.1 L422.2,289.0 L422.4,288.8 L422.7,288.7 L423.0,288.5 L423.3,288.4 L423.6,288.3 L423.9,288.2 L424.2,288.1 L424.5,288.0 L424.7,287.8 L425.0,287.7 L425.3,287.6 L425.6,287.5 L425.9,287.5 L426.2,287.5 L426.5,287.5 L426.8,287.5 L427.1,287.6 L427.4,287.7 L427.7,287.7 L428.0,287.9 L428.3,288.0 L428.6,288.2 L428.9,288.4 L429.2,288.8 L429.6,289.7 L429.6,289.7 L429.4,290.7 L429.1,291.1 L428.8,291.3 L428.5,291.6 L428.3,291.7 L428.0,291.9 L427.7,292.0 L427.4,292.1 L427.1,292.2 L426.8,292.3 L426.5,292.3 L426.2,292.4 L425.9,292.4 L425.6,292.3 L425.3,292.3 L425.0,292.2 L424.7,292.1 L424.4,292.1 L424.1,292.0 L423.8,291.9 L423.5,291.8 L423.2,291.7 L422.9,291.7 L422.6,291.5 L422.3,291.4 L422.0,291.3 L421.7,291.2 L421.4,291.0 L421.1,290.8 L420.8,290.3 Z" fill="none" stroke="#4a4a4a" stroke-width="0.58"/>
<path d="M422.2,290.1 L422.4,289.7 L422.6,289.5 L422.8,289.4 L423.0,289.2 L423.2,289.1 L423.5,289.0 L423.7,288.9 L423.9,288.8 L424.1,288.7 L424.3,288.6 L424.5,288.5 L424.7,288.4 L424.9,288.4 L425.1,288.3 L425.3,288.2 L425.5,288.1 L425.8,288.0 L426.0,288.0 L426.2,288.0 L426.4,288.0 L426.6,288.0 L426.8,288.0 L427.1,288.1 L427.3,288.2 L427.5,288.3 L427.7,288.4 L427.9,288.5 L428.2,288.7 L428.4,289.0 L428.7,289.7 L428.7,289.7 L428.5,290.4 L428.3,290.7 L428.1,290.9 L427.9,291.1 L427.7,291.2 L427.5,291.4 L427.3,291.5 L427.1,291.5 L426.9,291.6 L426.7,291.6 L426.4,291.7 L426.2,291.7 L426.0,291.7 L425.8,291.6 L425.6,291.6 L425.4,291.5 L425.1,291.5 L424.9,291.4 L424.7,291.4 L424.5,291.3 L424.3,291.3 L424.0,291.2 L423.8,291.1 L423.6,291.1 L423.4,291.0 L423.2,290.9 L422.9,290.8 L422.7,290.7 L422.5,290.5 L422.2,290.1 Z" fill="none" stroke="#4a4a4a" stroke-width="0.58"/>
<path d="M423.6,289.9 L423.8,289.7 L423.9,289.5 L424.0,289.4 L424.2,289.3 L424.3,289.3 L424.4,289.2 L424.6,289.1 L424.7,289.0 L424.8,289.0 L425.0,288.9 L425.1,288.9 L425.2,288.8 L425.4,288.7 L425.5,288.7 L425.6,288.6 L425.8,288.6 L425.9,288.5 L426.0,288.5 L426.2,288.5 L426.3,288.5 L426.5,288.5 L426.6,288.5 L426.7,288.5 L426.9,288.6 L427.0,288.6 L427.2,288.7 L427.3,288.8 L427.5,288.9 L427.6,289.1 L427.8,289.7 L427.8,289.7 L427.7,290.2 L427.6,290.4 L427.4,290.6 L427.3,290.7 L427.2,290.8 L427.0,290.8 L426.9,290.9 L426.8,291.0 L426.6,291.0 L426.5,291.0 L426.4,291.1 L426.2,291.0 L426.1,291.0 L425.9,291.0 L425.8,291.0 L425.7,290.9 L425.5,290.9 L425.4,290.8 L425.2,290.8 L425.1,290.8 L424.9,290.7 L424.8,290.7 L424.7,290.6 L424.5,290.6 L424.4,290.5 L424.2,290.5 L424.1,290.4 L423.9,290.3 L423.8,290.2 L423.6,289.9 Z" fill="none" stroke="#4a4a4a" stroke-width="0.58"/>
<ellipse cx="426.00" cy="290.20" rx="9.00" ry="7.50" fill="#2e2e2e" stroke="none" stroke-width="1" transform="rotate(0 426 290.2)" filter="url(#b1)"/>
<ellipse cx="426.00" cy="286.00" rx="3.00" ry="2.20" fill="#111" stroke="none" stroke-width="1" filter="url(#b1)"/>
<ellipse cx="425.50" cy="294.80" rx="3.00" ry="2.20" fill="#111" stroke="none" stroke-width="1" filter="url(#b1)"/>
<ellipse cx="427.00" cy="290.60" rx="1.40" ry="0.90" fill="#ccc" stroke="none" stroke-width="1" filter="url(#b05)"/>
<ellipse cx="427.00" cy="394.50" rx="14.00" ry="10.00" fill="#c4c4c4" stroke="none" stroke-width="1" transform="rotate(0 427 394.5)" filter="url(#b15)"/>
<path d="M394.0,396.6 L395.7,393.9 L397.3,392.6 L399.0,391.6 L400.7,390.7 L402.5,389.8 L404.2,389.1 L405.9,388.4 L407.6,387.7 L409.3,387.1 L411.0,386.5 L412.8,385.9 L414.5,385.3 L416.2,384.8 L417.9,384.2 L419.7,383.7 L421.4,383.2 L423.1,382.7 L424.8,382.2 L426.6,382.1 L428.3,382.1 L430.1,382.2 L431.9,382.4 L433.6,382.8 L435.4,383.2 L437.2,383.8 L439.0,384.6 L440.8,385.5 L442.6,386.9 L444.5,388.7 L446.5,393.8 L446.5,393.8 L445.0,399.1 L443.4,401.1 L441.7,402.6 L440.0,403.8 L438.3,404.7 L436.6,405.5 L434.9,406.2 L433.1,406.7 L431.4,407.1 L429.7,407.4 L427.9,407.6 L426.2,407.6 L424.4,407.3 L422.6,407.0 L420.9,406.6 L419.1,406.3 L417.3,406.0 L415.5,405.6 L413.8,405.2 L412.0,404.8 L410.2,404.4 L408.5,403.9 L406.7,403.5 L404.9,402.9 L403.1,402.4 L401.3,401.7 L399.5,401.0 L397.7,400.2 L395.9,399.1 L394.0,396.6 Z" fill="none" stroke="#4a4a4a" stroke-width="0.58"/>
<path d="M401.3,396.0 L402.6,393.8 L403.9,392.8 L405.3,392.0 L406.6,391.2 L408.0,390.6 L409.4,390.0 L410.7,389.4 L412.1,388.9 L413.4,388.4 L414.8,387.9 L416.2,387.4 L417.5,387.0 L418.9,386.6 L420.3,386.1 L421.6,385.7 L423.0,385.3 L424.4,384.9 L425.7,384.5 L427.1,384.4 L428.5,384.4 L429.9,384.5 L431.3,384.7 L432.7,384.9 L434.1,385.3 L435.5,385.8 L436.9,386.4 L438.4,387.2 L439.8,388.2 L441.3,389.7 L442.9,393.8 L442.9,393.8 L441.7,398.0 L440.4,399.6 L439.1,400.8 L437.7,401.7 L436.4,402.5 L435.0,403.1 L433.7,403.6 L432.3,404.0 L430.9,404.3 L429.6,404.6 L428.2,404.8 L426.8,404.8 L425.4,404.5 L424.0,404.3 L422.6,404.0 L421.2,403.7 L419.8,403.5 L418.4,403.2 L417.0,402.9 L415.6,402.5 L414.2,402.2 L412.7,401.8 L411.3,401.5 L409.9,401.0 L408.5,400.6 L407.1,400.1 L405.7,399.5 L404.3,398.8 L402.8,397.9 L401.3,396.0 Z" fill="none" stroke="#4a4a4a" stroke-width="0.58"/>
<path d="M405.1,395.6 L406.2,393.8 L407.3,392.9 L408.5,392.2 L409.7,391.5 L410.8,391.0 L412.0,390.5 L413.2,390.0 L414.4,389.5 L415.6,389.1 L416.7,388.7 L417.9,388.2 L419.1,387.9 L420.3,387.5 L421.5,387.1 L422.6,386.8 L423.8,386.4 L425.0,386.1 L426.2,385.7 L427.4,385.6 L428.6,385.6 L429.8,385.7 L431.0,385.9 L432.2,386.1 L433.4,386.4 L434.7,386.8 L435.9,387.3 L437.1,388.0 L438.4,388.9 L439.7,390.2 L441.0,393.8 L441.0,393.8 L440.0,397.4 L438.9,398.8 L437.8,399.9 L436.6,400.7 L435.4,401.3 L434.3,401.9 L433.1,402.3 L431.9,402.7 L430.7,402.9 L429.5,403.2 L428.3,403.3 L427.1,403.3 L425.9,403.1 L424.7,402.9 L423.5,402.6 L422.3,402.4 L421.0,402.2 L419.8,401.9 L418.6,401.6 L417.4,401.4 L416.2,401.1 L415.0,400.8 L413.7,400.4 L412.5,400.1 L411.3,399.7 L410.1,399.2 L408.9,398.7 L407.6,398.1 L406.4,397.4 L405.1,395.6 Z" fill="none" stroke="#4a4a4a" stroke-width="0.58"/>
<path d="M408.1,395.4 L409.1,393.8 L410.1,393.0 L411.1,392.3 L412.1,391.8 L413.2,391.3 L414.2,390.8 L415.2,390.4 L416.2,390.0 L417.3,389.6 L418.3,389.3 L419.3,388.9 L420.4,388.6 L421.4,388.2 L422.4,387.9 L423.5,387.6 L424.5,387.3 L425.5,387.0 L426.6,386.7 L427.6,386.6 L428.7,386.6 L429.7,386.7 L430.8,386.8 L431.8,387.0 L432.9,387.3 L434.0,387.6 L435.0,388.1 L436.1,388.7 L437.2,389.5 L438.3,390.6 L439.5,393.7 L439.5,393.7 L438.7,396.9 L437.7,398.2 L436.7,399.1 L435.7,399.8 L434.6,400.4 L433.6,400.9 L432.6,401.3 L431.5,401.6 L430.5,401.8 L429.5,402.0 L428.4,402.1 L427.4,402.1 L426.3,401.9 L425.3,401.7 L424.2,401.5 L423.1,401.3 L422.1,401.1 L421.0,400.9 L420.0,400.7 L418.9,400.4 L417.8,400.2 L416.8,399.9 L415.7,399.6 L414.6,399.3 L413.6,398.9 L412.5,398.5 L411.4,398.1 L410.3,397.6 L409.3,396.9 L408.1,395.4 Z" fill="none" stroke="#4a4a4a" stroke-width="0.58"/>
<path d="M410.8,395.2 L411.6,393.7 L412.5,393.0 L413.4,392.5 L414.3,392.0 L415.2,391.6 L416.1,391.2 L417.0,390.8 L417.9,390.4 L418.8,390.1 L419.7,389.8 L420.6,389.5 L421.5,389.2 L422.4,388.9 L423.3,388.6 L424.2,388.3 L425.1,388.0 L426.0,387.8 L426.9,387.5 L427.8,387.4 L428.7,387.4 L429.6,387.5 L430.6,387.6 L431.5,387.8 L432.4,388.0 L433.4,388.4 L434.3,388.8 L435.2,389.3 L436.2,390.0 L437.2,391.0 L438.2,393.7 L438.2,393.7 L437.5,396.5 L436.6,397.6 L435.7,398.4 L434.8,399.1 L434.0,399.6 L433.1,400.0 L432.2,400.3 L431.3,400.6 L430.3,400.8 L429.4,401.0 L428.5,401.1 L427.6,401.1 L426.7,400.9 L425.8,400.8 L424.8,400.6 L423.9,400.4 L423.0,400.2 L422.0,400.0 L421.1,399.8 L420.2,399.6 L419.3,399.4 L418.3,399.1 L417.4,398.9 L416.5,398.6 L415.5,398.3 L414.6,397.9 L413.7,397.6 L412.7,397.1 L411.8,396.5 L410.8,395.2 Z" fill="none" stroke="#4a4a4a" stroke-width="0.58"/>
<path d="M413.2,395.0 L413.9,393.7 L414.7,393.1 L415.4,392.6 L416.2,392.2 L417.0,391.8 L417.8,391.5 L418.6,391.1 L419.3,390.8 L420.1,390.5 L420.9,390.3 L421.7,390.0 L422.5,389.7 L423.3,389.5 L424.0,389.2 L424.8,389.0 L425.6,388.7 L426.4,388.5 L427.2,388.3 L428.0,388.2 L428.8,388.2 L429.6,388.3 L430.4,388.4 L431.2,388.5 L432.0,388.7 L432.8,389.0 L433.6,389.4 L434.5,389.8 L435.3,390.4 L436.1,391.3 L437.1,393.7 L437.1,393.7 L436.4,396.2 L435.6,397.1 L434.9,397.8 L434.1,398.4 L433.3,398.8 L432.6,399.2 L431.8,399.5 L431.0,399.7 L430.2,399.9 L429.4,400.1 L428.6,400.2 L427.8,400.2 L427.0,400.0 L426.2,399.9 L425.4,399.7 L424.6,399.6 L423.8,399.4 L423.0,399.2 L422.2,399.0 L421.4,398.8 L420.5,398.6 L419.7,398.4 L418.9,398.2 L418.1,398.0 L417.3,397.7 L416.5,397.4 L415.7,397.1 L414.9,396.7 L414.0,396.1 L413.2,395.0 Z" fill="none" stroke="#4a4a4a" stroke-width="0.58"/>
<path d="M415.4,394.8 L416.0,393.7 L416.7,393.2 L417.3,392.7 L418.0,392.4 L418.7,392.1 L419.4,391.7 L420.0,391.5 L420.7,391.2 L421.4,390.9 L422.0,390.7 L422.7,390.5 L423.4,390.2 L424.1,390.0 L424.8,389.8 L425.4,389.6 L426.1,389.4 L426.8,389.2 L427.5,389.0 L428.1,388.9 L428.8,388.9 L429.5,389.0 L430.2,389.1 L430.9,389.2 L431.6,389.4 L432.3,389.6 L433.0,389.9 L433.7,390.3 L434.4,390.9 L435.2,391.6 L436.0,393.7 L436.0,393.7 L435.4,395.8 L434.7,396.7 L434.1,397.3 L433.4,397.8 L432.8,398.2 L432.1,398.5 L431.4,398.7 L430.7,398.9 L430.1,399.1 L429.4,399.2 L428.7,399.3 L428.0,399.3 L427.3,399.2 L426.6,399.0 L425.9,398.9 L425.2,398.8 L424.5,398.6 L423.8,398.5 L423.1,398.3 L422.4,398.2 L421.7,398.0 L421.0,397.8 L420.3,397.6 L419.6,397.4 L418.9,397.2 L418.2,396.9 L417.5,396.6 L416.8,396.2 L416.1,395.8 L415.4,394.8 Z" fill="none" stroke="#4a4a4a" stroke-width="0.58"/>
<path d="M417.5,394.6 L418.0,393.7 L418.5,393.2 L419.1,392.9 L419.7,392.6 L420.3,392.3 L420.8,392.0 L421.4,391.8 L422.0,391.5 L422.5,391.3 L423.1,391.1 L423.7,390.9 L424.3,390.7 L424.8,390.5 L425.4,390.3 L426.0,390.1 L426.6,390.0 L427.1,389.8 L427.7,389.6 L428.3,389.6 L428.9,389.6 L429.5,389.6 L430.1,389.7 L430.6,389.8 L431.2,390.0 L431.8,390.2 L432.4,390.4 L433.0,390.8 L433.6,391.3 L434.3,391.9 L434.9,393.7 L434.9,393.7 L434.5,395.5 L433.9,396.3 L433.4,396.8 L432.8,397.2 L432.2,397.5 L431.7,397.8 L431.1,398.0 L430.5,398.2 L429.9,398.3 L429.3,398.4 L428.8,398.5 L428.2,398.5 L427.6,398.4 L427.0,398.3 L426.4,398.2 L425.8,398.0 L425.2,397.9 L424.6,397.8 L424.0,397.7 L423.5,397.5 L422.9,397.4 L422.3,397.2 L421.7,397.0 L421.1,396.8 L420.5,396.6 L419.9,396.4 L419.3,396.2 L418.7,395.9 L418.1,395.5 L417.5,394.6 Z" fill="none" stroke="#4a4a4a" stroke-width="0.58"/>
<path d="M419.4,394.4 L419.9,393.7 L420.3,393.3 L420.8,393.0 L421.3,392.7 L421.7,392.5 L422.2,392.2 L422.7,392.0 L423.2,391.8 L423.6,391.7 L424.1,391.5 L424.6,391.3 L425.1,391.1 L425.6,391.0 L426.0,390.8 L426.5,390.7 L427.0,390.5 L427.5,390.4 L428.0,390.2 L428.4,390.2 L428.9,390.2 L429.4,390.2 L429.9,390.3 L430.4,390.4 L430.9,390.5 L431.4,390.7 L431.9,390.9 L432.4,391.2 L432.9,391.6 L433.4,392.2 L434.0,393.7 L434.0,393.7 L433.6,395.2 L433.1,395.8 L432.7,396.3 L432.2,396.6 L431.7,396.9 L431.2,397.1 L430.8,397.3 L430.3,397.5 L429.8,397.6 L429.3,397.7 L428.8,397.7 L428.3,397.7 L427.9,397.6 L427.4,397.5 L426.9,397.4 L426.4,397.3 L425.9,397.2 L425.4,397.1 L424.9,397.0 L424.4,396.9 L423.9,396.8 L423.4,396.6 L422.9,396.5 L422.4,396.3 L421.9,396.2 L421.4,396.0 L420.9,395.8 L420.4,395.5 L419.9,395.2 L419.4,394.4 Z" fill="none" stroke="#4a4a4a" stroke-width="0.58"/>
<path d="M421.3,394.3 L421.6,393.6 L422.0,393.3 L422.4,393.1 L422.8,392.9 L423.1,392.7 L423.5,392.5 L423.9,392.3 L424.3,392.2 L424.7,392.0 L425.1,391.9 L425.5,391.7 L425.9,391.6 L426.2,391.4 L426.6,391.3 L427.0,391.2 L427.4,391.1 L427.8,390.9 L428.2,390.8 L428.6,390.8 L429.0,390.8 L429.4,390.8 L429.8,390.9 L430.2,391.0 L430.6,391.1 L431.0,391.2 L431.4,391.4 L431.8,391.6 L432.2,392.0 L432.6,392.4 L433.1,393.7 L433.1,393.7 L432.7,395.0 L432.4,395.5 L432.0,395.8 L431.6,396.1 L431.2,396.3 L430.9,396.5 L430.5,396.7 L430.1,396.8 L429.7,396.9 L429.3,397.0 L428.9,397.0 L428.5,397.0 L428.1,396.9 L427.7,396.9 L427.3,396.8 L426.9,396.7 L426.5,396.6 L426.1,396.5 L425.7,396.4 L425.3,396.3 L424.9,396.2 L424.5,396.1 L424.1,396.0 L423.7,395.9 L423.3,395.7 L422.9,395.6 L422.5,395.4 L422.1,395.2 L421.7,394.9 L421.3,394.3 Z" fill="none" stroke="#4a4a4a" stroke-width="0.58"/>
<path d="M423.0,394.1 L423.3,393.6 L423.6,393.4 L423.9,393.2 L424.2,393.0 L424.5,392.8 L424.8,392.7 L425.1,392.6 L425.4,392.4 L425.7,392.3 L426.0,392.2 L426.3,392.1 L426.6,392.0 L426.9,391.9 L427.2,391.8 L427.5,391.7 L427.8,391.6 L428.1,391.5 L428.4,391.4 L428.7,391.4 L429.0,391.4 L429.3,391.4 L429.6,391.4 L429.9,391.5 L430.2,391.6 L430.6,391.7 L430.9,391.9 L431.2,392.0 L431.5,392.3 L431.8,392.7 L432.2,393.7 L432.2,393.7 L431.9,394.7 L431.7,395.1 L431.4,395.4 L431.1,395.6 L430.8,395.8 L430.5,395.9 L430.2,396.1 L429.9,396.2 L429.6,396.2 L429.3,396.3 L429.0,396.3 L428.7,396.3 L428.4,396.3 L428.0,396.2 L427.7,396.1 L427.4,396.1 L427.1,396.0 L426.8,395.9 L426.5,395.8 L426.2,395.8 L425.9,395.7 L425.6,395.6 L425.3,395.5 L424.9,395.4 L424.6,395.3 L424.3,395.2 L424.0,395.0 L423.7,394.8 L423.4,394.6 L423.0,394.1 Z" fill="none" stroke="#4a4a4a" stroke-width="0.58"/>
<path d="M424.7,394.0 L424.9,393.6 L425.2,393.4 L425.4,393.3 L425.6,393.1 L425.8,393.0 L426.0,392.9 L426.2,392.8 L426.4,392.7 L426.7,392.6 L426.9,392.5 L427.1,392.5 L427.3,392.4 L427.5,392.3 L427.7,392.2 L428.0,392.1 L428.2,392.1 L428.4,392.0 L428.6,391.9 L428.8,391.9 L429.1,391.9 L429.3,391.9 L429.5,392.0 L429.7,392.0 L429.9,392.1 L430.2,392.2 L430.4,392.3 L430.6,392.4 L430.9,392.6 L431.1,392.9 L431.4,393.7 L431.4,393.7 L431.2,394.4 L431.0,394.7 L430.8,395.0 L430.5,395.1 L430.3,395.3 L430.1,395.4 L429.9,395.5 L429.7,395.5 L429.5,395.6 L429.2,395.6 L429.0,395.7 L428.8,395.7 L428.6,395.6 L428.4,395.6 L428.1,395.5 L427.9,395.5 L427.7,395.4 L427.5,395.4 L427.2,395.3 L427.0,395.2 L426.8,395.2 L426.6,395.1 L426.3,395.0 L426.1,394.9 L425.9,394.9 L425.7,394.8 L425.4,394.7 L425.2,394.5 L425.0,394.4 L424.7,394.0 Z" fill="none" stroke="#4a4a4a" stroke-width="0.58"/>
<path d="M426.4,393.9 L426.5,393.6 L426.6,393.5 L426.8,393.4 L426.9,393.3 L427.0,393.2 L427.2,393.1 L427.3,393.1 L427.5,393.0 L427.6,392.9 L427.7,392.9 L427.9,392.8 L428.0,392.8 L428.1,392.7 L428.3,392.6 L428.4,392.6 L428.5,392.5 L428.7,392.5 L428.8,392.5 L429.0,392.4 L429.1,392.4 L429.2,392.4 L429.4,392.5 L429.5,392.5 L429.7,392.6 L429.8,392.6 L429.9,392.7 L430.1,392.8 L430.2,392.9 L430.4,393.1 L430.5,393.6 L430.5,393.6 L430.4,394.2 L430.3,394.4 L430.2,394.5 L430.0,394.7 L429.9,394.8 L429.8,394.8 L429.6,394.9 L429.5,394.9 L429.4,395.0 L429.2,395.0 L429.1,395.0 L428.9,395.0 L428.8,395.0 L428.7,394.9 L428.5,394.9 L428.4,394.9 L428.2,394.8 L428.1,394.8 L428.0,394.8 L427.8,394.7 L427.7,394.7 L427.5,394.6 L427.4,394.6 L427.3,394.5 L427.1,394.5 L427.0,394.4 L426.8,394.3 L426.7,394.2 L426.5,394.1 L426.4,393.9 Z" fill="none" stroke="#4a4a4a" stroke-width="0.58"/>
<ellipse cx="429.00" cy="394.20" rx="9.50" ry="8.00" fill="#2e2e2e" stroke="none" stroke-width="1" transform="rotate(0 429 394.2)" filter="url(#b1)"/>
<ellipse cx="429.00" cy="389.50" rx="3.00" ry="2.20" fill="#111" stroke="none" stroke-width="1" filter="url(#b1)"/>
<ellipse cx="428.50" cy="399.00" rx="3.00" ry="2.20" fill="#111" stroke="none" stroke-width="1" filter="url(#b1)"/>
<ellipse cx="430.00" cy="394.50" rx="1.50" ry="0.90" fill="#ccc" stroke="none" stroke-width="1" filter="url(#b05)"/>
<circle cx="96.9" cy="295.6" r="0.51" fill="#aaa"/>
<circle cx="113.4" cy="295.7" r="0.44" fill="#aaa"/>
<circle cx="113.3" cy="295.1" r="0.36" fill="#aaa"/>
<circle cx="95.8" cy="293.8" r="0.37" fill="#aaa"/>
<circle cx="80.0" cy="297.3" r="0.38" fill="#aaa"/>
<circle cx="102.8" cy="299.9" r="0.59" fill="#aaa"/>
<circle cx="89.3" cy="290.7" r="0.59" fill="#aaa"/>
<circle cx="122.7" cy="295.9" r="0.42" fill="#aaa"/>
<circle cx="103.7" cy="295.0" r="0.43" fill="#aaa"/>
<circle cx="103.1" cy="290.1" r="0.50" fill="#aaa"/>
<circle cx="92.6" cy="289.3" r="0.49" fill="#aaa"/>
<circle cx="103.9" cy="293.7" r="0.40" fill="#aaa"/>
<circle cx="94.6" cy="288.2" r="0.43" fill="#aaa"/>
<circle cx="88.7" cy="290.2" r="0.42" fill="#aaa"/>
<circle cx="105.1" cy="285.6" r="0.41" fill="#aaa"/>
<circle cx="86.9" cy="290.2" r="0.57" fill="#aaa"/>
<circle cx="98.7" cy="288.9" r="0.60" fill="#aaa"/>
<circle cx="109.2" cy="296.5" r="0.54" fill="#aaa"/>
<circle cx="108.0" cy="297.7" r="0.36" fill="#aaa"/>
<circle cx="90.0" cy="285.6" r="0.49" fill="#aaa"/>
<circle cx="107.4" cy="289.9" r="0.52" fill="#aaa"/>
<circle cx="86.9" cy="289.3" r="0.46" fill="#aaa"/>
<circle cx="115.5" cy="282.8" r="0.47" fill="#aaa"/>
<circle cx="97.8" cy="291.5" r="0.53" fill="#aaa"/>
<circle cx="77.2" cy="280.4" r="0.56" fill="#aaa"/>
<circle cx="97.0" cy="403.8" r="0.52" fill="#aaa"/>
<circle cx="115.4" cy="398.9" r="0.39" fill="#aaa"/>
<circle cx="103.6" cy="399.4" r="0.54" fill="#aaa"/>
<circle cx="107.3" cy="401.3" r="0.45" fill="#aaa"/>
<circle cx="104.0" cy="396.2" r="0.46" fill="#aaa"/>
<circle cx="72.4" cy="394.2" r="0.55" fill="#aaa"/>
<circle cx="107.4" cy="394.3" r="0.45" fill="#aaa"/>
<circle cx="81.6" cy="407.7" r="0.59" fill="#aaa"/>
<circle cx="105.1" cy="401.0" r="0.41" fill="#aaa"/>
<circle cx="101.7" cy="404.9" r="0.50" fill="#aaa"/>
<circle cx="99.9" cy="398.5" r="0.45" fill="#aaa"/>
<circle cx="87.7" cy="403.7" r="0.59" fill="#aaa"/>
<circle cx="93.8" cy="391.3" r="0.50" fill="#aaa"/>
<circle cx="97.9" cy="396.2" r="0.57" fill="#aaa"/>
<circle cx="105.3" cy="386.0" r="0.55" fill="#aaa"/>
<circle cx="89.0" cy="401.8" r="0.38" fill="#aaa"/>
<circle cx="96.7" cy="396.4" r="0.37" fill="#aaa"/>
<circle cx="102.1" cy="401.5" r="0.44" fill="#aaa"/>
<circle cx="100.3" cy="398.0" r="0.39" fill="#aaa"/>
<circle cx="110.7" cy="401.4" r="0.36" fill="#aaa"/>
<circle cx="113.6" cy="392.1" r="0.39" fill="#aaa"/>
<circle cx="99.8" cy="403.5" r="0.44" fill="#aaa"/>
<circle cx="119.5" cy="406.1" r="0.60" fill="#aaa"/>
<circle cx="84.3" cy="399.5" r="0.37" fill="#aaa"/>
<circle cx="110.3" cy="401.3" r="0.42" fill="#aaa"/>
<circle cx="103.9" cy="394.9" r="0.36" fill="#aaa"/>
<circle cx="116.4" cy="395.8" r="0.39" fill="#aaa"/>
<circle cx="96.8" cy="397.6" r="0.48" fill="#aaa"/>
<circle cx="127.7" cy="396.4" r="0.52" fill="#aaa"/>
<circle cx="99.1" cy="403.7" r="0.39" fill="#aaa"/>
<circle cx="197.4" cy="280.2" r="0.54" fill="#aaa"/>
<circle cx="190.2" cy="295.0" r="0.55" fill="#aaa"/>
<circle cx="222.3" cy="288.5" r="0.55" fill="#aaa"/>
<circle cx="204.6" cy="278.1" r="0.41" fill="#aaa"/>
<circle cx="182.0" cy="289.2" r="0.36" fill="#aaa"/>
<circle cx="206.2" cy="291.1" r="0.41" fill="#aaa"/>
<circle cx="182.6" cy="271.3" r="0.46" fill="#aaa"/>
<circle cx="233.4" cy="280.8" r="0.59" fill="#aaa"/>
<circle cx="188.5" cy="294.2" r="0.41" fill="#aaa"/>
<circle cx="198.1" cy="295.1" r="0.51" fill="#aaa"/>
<circle cx="216.7" cy="281.0" r="0.47" fill="#aaa"/>
<circle cx="180.6" cy="278.2" r="0.37" fill="#aaa"/>
<circle cx="178.6" cy="275.2" r="0.55" fill="#aaa"/>
<circle cx="195.0" cy="280.9" r="0.39" fill="#aaa"/>
<circle cx="198.1" cy="283.0" r="0.55" fill="#aaa"/>
<circle cx="201.9" cy="395.6" r="0.45" fill="#aaa"/>
<circle cx="208.2" cy="392.8" r="0.39" fill="#aaa"/>
<circle cx="194.8" cy="400.3" r="0.58" fill="#aaa"/>
<circle cx="192.3" cy="392.8" r="0.56" fill="#aaa"/>
<circle cx="207.4" cy="395.6" r="0.44" fill="#aaa"/>
<circle cx="183.9" cy="395.7" r="0.35" fill="#aaa"/>
<circle cx="207.1" cy="394.9" r="0.48" fill="#aaa"/>
<circle cx="201.7" cy="393.5" r="0.57" fill="#aaa"/>
<circle cx="193.8" cy="392.1" r="0.41" fill="#aaa"/>
<circle cx="187.6" cy="402.7" r="0.50" fill="#aaa"/>
<circle cx="189.3" cy="405.3" r="0.38" fill="#aaa"/>
<circle cx="199.5" cy="393.0" r="0.46" fill="#aaa"/>
<circle cx="167.5" cy="388.3" r="0.46" fill="#aaa"/>
<circle cx="202.3" cy="392.3" r="0.48" fill="#aaa"/>
<circle cx="187.7" cy="396.8" r="0.46" fill="#aaa"/>
<circle cx="300.4" cy="290.6" r="0.55" fill="#aaa"/>
<circle cx="305.3" cy="297.0" r="0.53" fill="#aaa"/>
<circle cx="291.7" cy="287.8" r="0.48" fill="#aaa"/>
<circle cx="283.5" cy="285.8" r="0.38" fill="#aaa"/>
<circle cx="293.0" cy="288.0" r="0.42" fill="#aaa"/>
<circle cx="301.7" cy="281.7" r="0.49" fill="#aaa"/>
<circle cx="301.4" cy="274.6" r="0.46" fill="#aaa"/>
<circle cx="291.0" cy="284.6" r="0.48" fill="#aaa"/>
<circle cx="296.1" cy="282.8" r="0.48" fill="#aaa"/>
<circle cx="276.4" cy="292.3" r="0.52" fill="#aaa"/>
<circle cx="317.0" cy="278.3" r="0.41" fill="#aaa"/>
<circle cx="277.7" cy="283.9" r="0.56" fill="#aaa"/>
<circle cx="303.3" cy="292.7" r="0.46" fill="#aaa"/>
<circle cx="306.7" cy="292.3" r="0.37" fill="#aaa"/>
<circle cx="291.5" cy="279.3" r="0.57" fill="#aaa"/>
<circle cx="309.0" cy="299.2" r="0.52" fill="#aaa"/>
<circle cx="312.9" cy="301.3" r="0.59" fill="#aaa"/>
<circle cx="304.7" cy="307.0" r="0.45" fill="#aaa"/>
<circle cx="269.8" cy="291.7" r="0.56" fill="#aaa"/>
<circle cx="305.6" cy="296.3" r="0.48" fill="#aaa"/>
<circle cx="294.5" cy="402.5" r="0.43" fill="#aaa"/>
<circle cx="297.7" cy="396.4" r="0.49" fill="#aaa"/>
<circle cx="296.2" cy="398.6" r="0.43" fill="#aaa"/>
<circle cx="289.5" cy="391.3" r="0.37" fill="#aaa"/>
<circle cx="315.5" cy="396.7" r="0.59" fill="#aaa"/>
<circle cx="304.2" cy="401.8" r="0.36" fill="#aaa"/>
<circle cx="299.4" cy="391.8" r="0.38" fill="#aaa"/>
<circle cx="278.6" cy="406.3" r="0.55" fill="#aaa"/>
<circle cx="297.7" cy="402.5" r="0.58" fill="#aaa"/>
<circle cx="284.0" cy="392.7" r="0.37" fill="#aaa"/>
<circle cx="312.3" cy="402.3" r="0.46" fill="#aaa"/>
<circle cx="319.2" cy="406.3" r="0.51" fill="#aaa"/>
<circle cx="299.3" cy="394.8" r="0.56" fill="#aaa"/>
<circle cx="316.2" cy="404.5" r="0.46" fill="#aaa"/>
<circle cx="291.3" cy="406.6" r="0.58" fill="#aaa"/>
<circle cx="297.4" cy="402.2" r="0.48" fill="#aaa"/>
<circle cx="298.3" cy="401.8" r="0.39" fill="#aaa"/>
<circle cx="304.4" cy="399.7" r="0.43" fill="#aaa"/>
<circle cx="292.3" cy="410.7" r="0.42" fill="#aaa"/>
<circle cx="291.7" cy="398.0" r="0.44" fill="#aaa"/>
<circle cx="305.5" cy="398.7" r="0.35" fill="#aaa"/>
<circle cx="296.7" cy="387.9" r="0.40" fill="#aaa"/>
<circle cx="274.9" cy="401.0" r="0.38" fill="#aaa"/>
<circle cx="302.5" cy="390.3" r="0.47" fill="#aaa"/>
<circle cx="303.1" cy="391.1" r="0.48" fill="#aaa"/>
<circle cx="287.2" cy="377.0" r="0.44" fill="#aaa"/>
<circle cx="305.7" cy="387.1" r="0.51" fill="#aaa"/>
<circle cx="290.4" cy="402.2" r="0.36" fill="#aaa"/>
<circle cx="300.6" cy="400.2" r="0.54" fill="#aaa"/>
<circle cx="297.8" cy="402.8" r="0.37" fill="#aaa"/>
<circle cx="309.0" cy="384.4" r="0.52" fill="#aaa"/>
<circle cx="296.5" cy="403.8" r="0.42" fill="#aaa"/>
<circle cx="292.3" cy="399.2" r="0.46" fill="#aaa"/>
<circle cx="295.9" cy="418.4" r="0.59" fill="#aaa"/>
<circle cx="290.8" cy="396.3" r="0.59" fill="#aaa"/>
<circle cx="401.6" cy="298.1" r="0.35" fill="#aaa"/>
<circle cx="396.7" cy="297.4" r="0.48" fill="#aaa"/>
<circle cx="408.6" cy="299.9" r="0.35" fill="#aaa"/>
<circle cx="404.6" cy="295.0" r="0.45" fill="#aaa"/>
<circle cx="407.1" cy="292.4" r="0.43" fill="#aaa"/>
<circle cx="406.4" cy="301.2" r="0.48" fill="#aaa"/>
<circle cx="405.0" cy="281.8" r="0.53" fill="#aaa"/>
<circle cx="412.2" cy="287.2" r="0.43" fill="#aaa"/>
<circle cx="410.7" cy="291.6" r="0.53" fill="#aaa"/>
<circle cx="403.1" cy="290.4" r="0.56" fill="#aaa"/>
<circle cx="415.9" cy="285.8" r="0.53" fill="#aaa"/>
<circle cx="407.1" cy="288.5" r="0.48" fill="#aaa"/>
<circle cx="386.0" cy="291.6" r="0.55" fill="#aaa"/>
<circle cx="411.1" cy="283.8" r="0.57" fill="#aaa"/>
<circle cx="398.7" cy="282.2" r="0.41" fill="#aaa"/>
<circle cx="405.2" cy="397.7" r="0.44" fill="#aaa"/>
<circle cx="415.0" cy="405.2" r="0.49" fill="#aaa"/>
<circle cx="390.3" cy="389.9" r="0.52" fill="#aaa"/>
<circle cx="399.2" cy="397.0" r="0.55" fill="#aaa"/>
<circle cx="399.9" cy="388.7" r="0.48" fill="#aaa"/>
<circle cx="398.0" cy="394.8" r="0.53" fill="#aaa"/>
<circle cx="399.9" cy="399.8" r="0.42" fill="#aaa"/>
<circle cx="399.1" cy="392.3" r="0.53" fill="#aaa"/>
<circle cx="411.5" cy="395.8" r="0.45" fill="#aaa"/>
<circle cx="385.0" cy="398.4" r="0.54" fill="#aaa"/>
<circle cx="389.4" cy="390.3" r="0.37" fill="#aaa"/>
<circle cx="404.6" cy="401.3" r="0.54" fill="#aaa"/>
<circle cx="395.7" cy="405.5" r="0.35" fill="#aaa"/>
<circle cx="407.3" cy="399.1" r="0.52" fill="#aaa"/>
<circle cx="394.7" cy="387.2" r="0.42" fill="#aaa"/>
<circle cx="388.9" cy="396.2" r="0.47" fill="#aaa"/>
<circle cx="415.6" cy="407.0" r="0.40" fill="#aaa"/>
<circle cx="423.2" cy="394.7" r="0.35" fill="#aaa"/>
<circle cx="382.1" cy="400.3" r="0.59" fill="#aaa"/>
<circle cx="392.5" cy="398.7" r="0.40" fill="#aaa"/>
<text x="1.80" y="478.80" font-size="13" text-anchor="start" font-weight="bold" fill="#111">D</text>
<line x1="40.40" y1="488.80" x2="40.40" y2="632.90" stroke="#333" stroke-width="1.1"/>
<line x1="37.00" y1="632.90" x2="257.80" y2="632.90" stroke="#333" stroke-width="1.1"/>
<line x1="37.20" y1="488.81" x2="40.40" y2="488.81" stroke="#333" stroke-width="1.1"/>
<text x="36.00" y="491.71" font-size="8" text-anchor="end" font-weight="normal" fill="#222">1000</text>
<line x1="37.20" y1="536.84" x2="40.40" y2="536.84" stroke="#333" stroke-width="1.1"/>
<text x="36.00" y="539.74" font-size="8" text-anchor="end" font-weight="normal" fill="#222">100</text>
<line x1="37.20" y1="584.87" x2="40.40" y2="584.87" stroke="#333" stroke-width="1.1"/>
<text x="36.00" y="587.77" font-size="8" text-anchor="end" font-weight="normal" fill="#222">10</text>
<line x1="37.20" y1="632.90" x2="40.40" y2="632.90" stroke="#333" stroke-width="1.1"/>
<text x="36.00" y="635.80" font-size="8" text-anchor="end" font-weight="normal" fill="#222">1</text>
<line x1="38.80" y1="603.98" x2="40.40" y2="603.98" stroke="#444" stroke-width="1.0"/>
<line x1="38.80" y1="595.53" x2="40.40" y2="595.53" stroke="#444" stroke-width="1.0"/>
<line x1="38.80" y1="589.52" x2="40.40" y2="589.52" stroke="#444" stroke-width="1.0"/>
<line x1="38.80" y1="555.95" x2="40.40" y2="555.95" stroke="#444" stroke-width="1.0"/>
<line x1="38.80" y1="547.50" x2="40.40" y2="547.50" stroke="#444" stroke-width="1.0"/>
<line x1="38.80" y1="541.49" x2="40.40" y2="541.49" stroke="#444" stroke-width="1.0"/>
<line x1="38.80" y1="507.92" x2="40.40" y2="507.92" stroke="#444" stroke-width="1.0"/>
<line x1="38.80" y1="499.47" x2="40.40" y2="499.47" stroke="#444" stroke-width="1.0"/>
<line x1="38.80" y1="493.46" x2="40.40" y2="493.46" stroke="#444" stroke-width="1.0"/>
<text x="19.40" y="556.60" font-size="11.4" text-anchor="middle" font-weight="normal" fill="#222" transform="rotate(-90 19.4 556.6)">Stimulation Index</text>
<line x1="95.50" y1="632.90" x2="95.50" y2="636.00" stroke="#333" stroke-width="1.0"/>
<line x1="60.62" y1="574.60" x2="60.62" y2="584.40" stroke="#333" stroke-width="1.1"/>
<line x1="57.52" y1="574.60" x2="63.73" y2="574.60" stroke="#333" stroke-width="1.1"/>
<rect x="52.73" y="584.40" width="15.80" height="48.50" fill="url(#chkD)" stroke="#222" stroke-width="1.0"/>
<line x1="83.88" y1="626.50" x2="83.88" y2="630.80" stroke="#333" stroke-width="1.1"/>
<line x1="80.78" y1="626.50" x2="86.97" y2="626.50" stroke="#333" stroke-width="1.1"/>
<rect x="75.97" y="630.80" width="15.80" height="2.10" fill="#e3e3e3" stroke="#222" stroke-width="1.0"/>
<line x1="107.12" y1="581.30" x2="107.12" y2="594.20" stroke="#333" stroke-width="1.1"/>
<line x1="104.03" y1="581.30" x2="110.22" y2="581.30" stroke="#333" stroke-width="1.1"/>
<rect x="99.22" y="594.20" width="15.80" height="38.70" fill="#1a1a1a" stroke="#222" stroke-width="1.0"/>
<line x1="130.38" y1="600.80" x2="130.38" y2="612.70" stroke="#333" stroke-width="1.1"/>
<line x1="127.28" y1="600.80" x2="133.47" y2="600.80" stroke="#333" stroke-width="1.1"/>
<rect x="122.47" y="612.70" width="15.80" height="20.20" fill="#fff" stroke="#222" stroke-width="1.0"/>
<line x1="203.60" y1="632.90" x2="203.60" y2="636.00" stroke="#333" stroke-width="1.0"/>
<line x1="168.72" y1="522.90" x2="168.72" y2="527.10" stroke="#333" stroke-width="1.1"/>
<line x1="165.62" y1="522.90" x2="171.82" y2="522.90" stroke="#333" stroke-width="1.1"/>
<rect x="160.82" y="527.10" width="15.80" height="105.80" fill="url(#chkD)" stroke="#222" stroke-width="1.0"/>
<line x1="191.97" y1="520.70" x2="191.97" y2="526.70" stroke="#333" stroke-width="1.1"/>
<line x1="188.88" y1="520.70" x2="195.07" y2="520.70" stroke="#333" stroke-width="1.1"/>
<rect x="184.07" y="526.70" width="15.80" height="106.20" fill="#e3e3e3" stroke="#222" stroke-width="1.0"/>
<line x1="215.22" y1="515.50" x2="215.22" y2="522.90" stroke="#333" stroke-width="1.1"/>
<line x1="212.12" y1="515.50" x2="218.32" y2="515.50" stroke="#333" stroke-width="1.1"/>
<rect x="207.32" y="522.90" width="15.80" height="110.00" fill="#1a1a1a" stroke="#222" stroke-width="1.0"/>
<line x1="238.47" y1="510.20" x2="238.47" y2="519.70" stroke="#333" stroke-width="1.1"/>
<line x1="235.38" y1="510.20" x2="241.57" y2="510.20" stroke="#333" stroke-width="1.1"/>
<rect x="230.57" y="519.70" width="15.80" height="113.20" fill="#fff" stroke="#222" stroke-width="1.0"/>
<text x="91.80" y="648.80" font-size="11" text-anchor="middle" font-weight="normal" fill="#222"><tspan font-family="Liberation Serif" font-size="12">α</tspan>CD3</text>
<text x="201.00" y="649.30" font-size="11" text-anchor="middle" font-weight="normal" fill="#222">PMA/Ion</text>
<line x1="83.10" y1="576.20" x2="104.20" y2="576.20" stroke="#333" stroke-width="1.1"/>
<text x="93.80" y="580.30" font-size="14" text-anchor="middle" font-weight="bold" fill="#1a1a1a">*</text>
<line x1="83.10" y1="565.40" x2="131.90" y2="565.40" stroke="#333" stroke-width="1.1"/>
<text x="106.50" y="563.60" font-size="8.5" text-anchor="middle" font-weight="normal" fill="#222">NS</text>
<rect x="48.60" y="488.90" width="16.30" height="5.50" fill="url(#chkD)" stroke="#222" stroke-width="0.9"/>
<text x="67.30" y="495.20" font-size="9.1" text-anchor="start" font-weight="normal" fill="#222">WT Mock</text>
<rect x="48.60" y="501.45" width="16.30" height="5.50" fill="#e3e3e3" stroke="#222" stroke-width="0.9"/>
<text x="67.30" y="507.75" font-size="9.1" text-anchor="start" font-weight="normal" fill="#222">KO Mock</text>
<rect x="48.60" y="514.00" width="16.30" height="5.50" fill="#1a1a1a" stroke="#222" stroke-width="0.9"/>
<text x="67.30" y="520.30" font-size="9.1" text-anchor="start" font-weight="normal" fill="#222">MND</text>
<rect x="48.60" y="526.55" width="16.30" height="5.50" fill="#fff" stroke="#222" stroke-width="0.9"/>
<text x="67.30" y="532.85" font-size="9.1" text-anchor="start" font-weight="normal" fill="#222">WS1.6</text>
<text x="262.60" y="479.20" font-size="12" text-anchor="start" font-weight="bold" fill="#111">E</text>
<line x1="295.70" y1="487.90" x2="295.70" y2="552.30" stroke="#333" stroke-width="1.1"/>
<line x1="295.70" y1="560.60" x2="295.70" y2="633.70" stroke="#333" stroke-width="1.1"/>
<line x1="292.40" y1="633.70" x2="515.00" y2="633.70" stroke="#333" stroke-width="1.1"/>
<line x1="293.20" y1="552.30" x2="295.70" y2="552.30" stroke="#333" stroke-width="1.0"/>
<text x="291.40" y="555.30" font-size="8.5" text-anchor="end" font-weight="normal" fill="#222">20</text>
<line x1="293.20" y1="539.42" x2="295.70" y2="539.42" stroke="#333" stroke-width="1.0"/>
<text x="291.40" y="542.42" font-size="8.5" text-anchor="end" font-weight="normal" fill="#222">25</text>
<line x1="293.20" y1="526.54" x2="295.70" y2="526.54" stroke="#333" stroke-width="1.0"/>
<text x="291.40" y="529.54" font-size="8.5" text-anchor="end" font-weight="normal" fill="#222">30</text>
<line x1="293.20" y1="513.66" x2="295.70" y2="513.66" stroke="#333" stroke-width="1.0"/>
<text x="291.40" y="516.66" font-size="8.5" text-anchor="end" font-weight="normal" fill="#222">35</text>
<line x1="293.20" y1="500.78" x2="295.70" y2="500.78" stroke="#333" stroke-width="1.0"/>
<text x="291.40" y="503.78" font-size="8.5" text-anchor="end" font-weight="normal" fill="#222">40</text>
<line x1="293.20" y1="487.90" x2="295.70" y2="487.90" stroke="#333" stroke-width="1.0"/>
<text x="291.40" y="490.90" font-size="8.5" text-anchor="end" font-weight="normal" fill="#222">45</text>
<line x1="295.70" y1="552.30" x2="298.00" y2="552.30" stroke="#333" stroke-width="1.0"/>
<line x1="295.70" y1="560.60" x2="298.00" y2="560.60" stroke="#333" stroke-width="1.0"/>
<line x1="293.20" y1="633.70" x2="295.70" y2="633.70" stroke="#333" stroke-width="1.0"/>
<text x="291.40" y="636.70" font-size="8.5" text-anchor="end" font-weight="normal" fill="#222">0.0</text>
<line x1="293.20" y1="615.23" x2="295.70" y2="615.23" stroke="#333" stroke-width="1.0"/>
<text x="291.40" y="618.23" font-size="8.5" text-anchor="end" font-weight="normal" fill="#222">2.5</text>
<line x1="293.20" y1="596.75" x2="295.70" y2="596.75" stroke="#333" stroke-width="1.0"/>
<text x="291.40" y="599.75" font-size="8.5" text-anchor="end" font-weight="normal" fill="#222">5.0</text>
<line x1="293.20" y1="578.28" x2="295.70" y2="578.28" stroke="#333" stroke-width="1.0"/>
<text x="291.40" y="581.28" font-size="8.5" text-anchor="end" font-weight="normal" fill="#222">7.5</text>
<line x1="293.20" y1="559.80" x2="295.70" y2="559.80" stroke="#333" stroke-width="1.0"/>
<text x="291.40" y="562.80" font-size="8.5" text-anchor="end" font-weight="normal" fill="#222">10.0</text>
<line x1="294.30" y1="630.00" x2="295.70" y2="630.00" stroke="#555" stroke-width="0.7"/>
<line x1="294.30" y1="626.31" x2="295.70" y2="626.31" stroke="#555" stroke-width="0.7"/>
<line x1="294.30" y1="622.62" x2="295.70" y2="622.62" stroke="#555" stroke-width="0.7"/>
<line x1="294.30" y1="618.92" x2="295.70" y2="618.92" stroke="#555" stroke-width="0.7"/>
<line x1="294.30" y1="611.53" x2="295.70" y2="611.53" stroke="#555" stroke-width="0.7"/>
<line x1="294.30" y1="607.84" x2="295.70" y2="607.84" stroke="#555" stroke-width="0.7"/>
<line x1="294.30" y1="604.14" x2="295.70" y2="604.14" stroke="#555" stroke-width="0.7"/>
<line x1="294.30" y1="600.45" x2="295.70" y2="600.45" stroke="#555" stroke-width="0.7"/>
<line x1="294.30" y1="593.06" x2="295.70" y2="593.06" stroke="#555" stroke-width="0.7"/>
<line x1="294.30" y1="589.36" x2="295.70" y2="589.36" stroke="#555" stroke-width="0.7"/>
<line x1="294.30" y1="585.67" x2="295.70" y2="585.67" stroke="#555" stroke-width="0.7"/>
<line x1="294.30" y1="581.97" x2="295.70" y2="581.97" stroke="#555" stroke-width="0.7"/>
<line x1="294.30" y1="574.58" x2="295.70" y2="574.58" stroke="#555" stroke-width="0.7"/>
<line x1="294.30" y1="570.88" x2="295.70" y2="570.88" stroke="#555" stroke-width="0.7"/>
<line x1="294.30" y1="567.19" x2="295.70" y2="567.19" stroke="#555" stroke-width="0.7"/>
<line x1="294.30" y1="563.50" x2="295.70" y2="563.50" stroke="#555" stroke-width="0.7"/>
<text x="272.00" y="552.00" font-size="11.1" text-anchor="middle" font-weight="normal" fill="#1a1a1a" transform="rotate(-90 272.0 552.0)">%IL2+</text>
<line x1="332.40" y1="633.70" x2="332.40" y2="636.80" stroke="#333" stroke-width="1.0"/>
<line x1="309.07" y1="626.80" x2="309.07" y2="628.10" stroke="#333" stroke-width="1.1"/>
<line x1="306.18" y1="626.80" x2="311.97" y2="626.80" stroke="#333" stroke-width="1.1"/>
<rect x="303.68" y="628.10" width="10.80" height="5.60" fill="url(#chkE)" stroke="#222" stroke-width="1.0"/>
<line x1="324.62" y1="628.20" x2="324.62" y2="629.40" stroke="#333" stroke-width="1.1"/>
<line x1="321.73" y1="628.20" x2="327.52" y2="628.20" stroke="#333" stroke-width="1.1"/>
<rect x="319.23" y="629.40" width="10.80" height="4.30" fill="#e3e3e3" stroke="#222" stroke-width="1.0"/>
<line x1="340.17" y1="626.80" x2="340.17" y2="628.10" stroke="#333" stroke-width="1.1"/>
<line x1="337.27" y1="626.80" x2="343.07" y2="626.80" stroke="#333" stroke-width="1.1"/>
<rect x="334.77" y="628.10" width="10.80" height="5.60" fill="#1a1a1a" stroke="#222" stroke-width="1.0"/>
<line x1="355.72" y1="627.00" x2="355.72" y2="628.30" stroke="#333" stroke-width="1.1"/>
<line x1="352.82" y1="627.00" x2="358.62" y2="627.00" stroke="#333" stroke-width="1.1"/>
<rect x="350.32" y="628.30" width="10.80" height="5.40" fill="#fff" stroke="#222" stroke-width="1.0"/>
<line x1="405.10" y1="633.70" x2="405.10" y2="636.80" stroke="#333" stroke-width="1.0"/>
<line x1="381.78" y1="565.40" x2="381.78" y2="591.90" stroke="#333" stroke-width="1.1"/>
<line x1="378.88" y1="565.40" x2="384.68" y2="565.40" stroke="#333" stroke-width="1.1"/>
<rect x="376.38" y="591.90" width="10.80" height="41.80" fill="url(#chkE)" stroke="#222" stroke-width="1.0"/>
<line x1="397.33" y1="614.40" x2="397.33" y2="620.80" stroke="#333" stroke-width="1.1"/>
<line x1="394.43" y1="614.40" x2="400.23" y2="614.40" stroke="#333" stroke-width="1.1"/>
<rect x="391.93" y="620.80" width="10.80" height="12.90" fill="#e3e3e3" stroke="#222" stroke-width="1.0"/>
<line x1="412.88" y1="592.30" x2="412.88" y2="604.80" stroke="#333" stroke-width="1.1"/>
<line x1="409.98" y1="592.30" x2="415.77" y2="592.30" stroke="#333" stroke-width="1.1"/>
<rect x="407.48" y="604.80" width="10.80" height="28.90" fill="#1a1a1a" stroke="#222" stroke-width="1.0"/>
<line x1="428.43" y1="604.20" x2="428.43" y2="614.40" stroke="#333" stroke-width="1.1"/>
<line x1="425.53" y1="604.20" x2="431.32" y2="604.20" stroke="#333" stroke-width="1.1"/>
<rect x="423.03" y="614.40" width="10.80" height="19.30" fill="#fff" stroke="#222" stroke-width="1.0"/>
<line x1="477.80" y1="633.70" x2="477.80" y2="636.80" stroke="#333" stroke-width="1.0"/>
<line x1="454.48" y1="502.40" x2="454.48" y2="530.60" stroke="#333" stroke-width="1.1"/>
<line x1="451.58" y1="502.40" x2="457.38" y2="502.40" stroke="#333" stroke-width="1.1"/>
<rect x="449.08" y="530.60" width="10.80" height="21.80" fill="url(#chkE)" stroke="none" stroke-width="1"/>
<path d="M449.08,552.4 L449.08,530.60 L459.88,530.60 L459.88,552.4" fill="none" stroke="#222" stroke-width="1.0"/>
<rect x="449.08" y="560.40" width="10.80" height="73.30" fill="url(#chkE)" stroke="none" stroke-width="1"/>
<line x1="449.08" y1="560.40" x2="449.08" y2="633.70" stroke="#222" stroke-width="1.0"/>
<line x1="459.88" y1="560.40" x2="459.88" y2="633.70" stroke="#222" stroke-width="1.0"/>
<line x1="470.03" y1="497.30" x2="470.03" y2="513.30" stroke="#333" stroke-width="1.1"/>
<line x1="467.13" y1="497.30" x2="472.93" y2="497.30" stroke="#333" stroke-width="1.1"/>
<rect x="464.63" y="513.30" width="10.80" height="39.10" fill="#e3e3e3" stroke="none" stroke-width="1"/>
<path d="M464.63,552.4 L464.63,513.30 L475.43,513.30 L475.43,552.4" fill="none" stroke="#222" stroke-width="1.0"/>
<rect x="464.63" y="560.40" width="10.80" height="73.30" fill="#e3e3e3" stroke="none" stroke-width="1"/>
<line x1="464.63" y1="560.40" x2="464.63" y2="633.70" stroke="#222" stroke-width="1.0"/>
<line x1="475.43" y1="560.40" x2="475.43" y2="633.70" stroke="#222" stroke-width="1.0"/>
<line x1="485.57" y1="523.30" x2="485.57" y2="551.30" stroke="#333" stroke-width="1.1"/>
<line x1="482.68" y1="523.30" x2="488.47" y2="523.30" stroke="#333" stroke-width="1.1"/>
<line x1="480.18" y1="551.80" x2="490.97" y2="551.80" stroke="#222" stroke-width="1.6"/>
<rect x="480.18" y="560.40" width="10.80" height="73.30" fill="#1a1a1a" stroke="none" stroke-width="1"/>
<line x1="480.18" y1="560.40" x2="480.18" y2="633.70" stroke="#222" stroke-width="1.0"/>
<line x1="490.97" y1="560.40" x2="490.97" y2="633.70" stroke="#222" stroke-width="1.0"/>
<line x1="501.12" y1="508.90" x2="501.12" y2="538.30" stroke="#333" stroke-width="1.1"/>
<line x1="498.23" y1="508.90" x2="504.02" y2="508.90" stroke="#333" stroke-width="1.1"/>
<rect x="495.73" y="538.30" width="10.80" height="14.10" fill="#fff" stroke="none" stroke-width="1"/>
<path d="M495.73,552.4 L495.73,538.30 L506.52,538.30 L506.52,552.4" fill="none" stroke="#222" stroke-width="1.0"/>
<rect x="495.73" y="560.40" width="10.80" height="73.30" fill="#fff" stroke="none" stroke-width="1"/>
<line x1="495.73" y1="560.40" x2="495.73" y2="633.70" stroke="#222" stroke-width="1.0"/>
<line x1="506.52" y1="560.40" x2="506.52" y2="633.70" stroke="#222" stroke-width="1.0"/>
<text x="332.20" y="648.80" font-size="11" text-anchor="middle" font-weight="normal" fill="#222">Media</text>
<text x="401.60" y="648.80" font-size="11" text-anchor="middle" font-weight="normal" fill="#222"><tspan font-family="Liberation Serif" font-size="12">α</tspan>CD3</text>
<text x="477.60" y="648.30" font-size="11" text-anchor="middle" font-weight="normal" fill="#222">P/I</text>
<line x1="390.40" y1="589.80" x2="410.20" y2="589.80" stroke="#333" stroke-width="1.1"/>
<text x="398.80" y="592.60" font-size="14" text-anchor="middle" font-weight="bold" fill="#1a1a1a">*</text>
<line x1="390.40" y1="578.80" x2="435.60" y2="578.80" stroke="#333" stroke-width="1.1"/>
<text x="413.00" y="577.20" font-size="8.5" text-anchor="middle" font-weight="normal" fill="#222">NS</text>
</svg>
</body></html>
